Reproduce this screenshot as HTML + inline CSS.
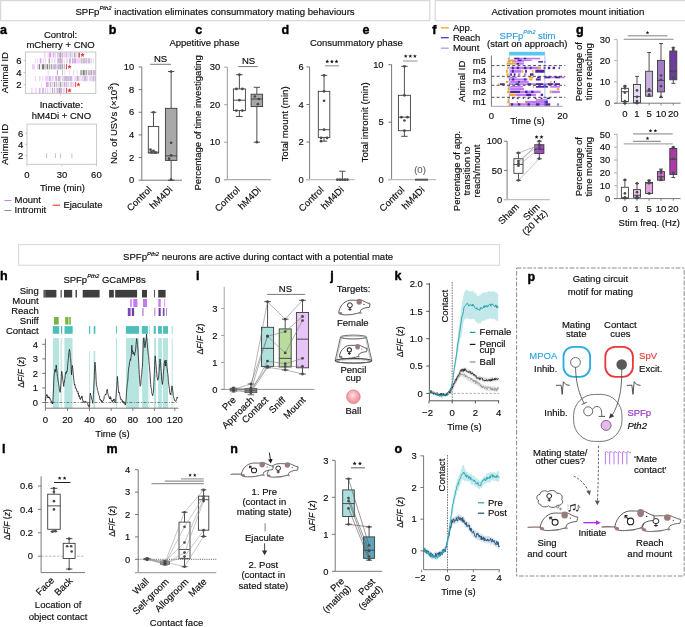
<!DOCTYPE html>
<html><head><meta charset="utf-8"><title>Figure</title>
<style>
html,body{margin:0;padding:0;background:#fff;}
body{width:685px;height:627px;overflow:hidden;}
svg{display:block;font-family:"Liberation Sans", sans-serif;will-change:transform;}
</style></head><body>
<svg width="685" height="627" viewBox="0 0 685 627">
<rect x="0.60" y="0.60" width="429.20" height="20.00" fill="none" stroke="#d6d8db" stroke-width="1.2" />
<text x="75.40" y="14.60" font-size="9.6" fill="#0d0d0d" stroke="#0d0d0d" stroke-width="0.16" >SPFp<tspan font-size="5.9" font-style="italic" dy="-4.4">Pth2</tspan><tspan dy="4.4"> inactivation eliminates consummatory mating behaviours</tspan></text>
<rect x="435.20" y="0.60" width="442.60" height="20.00" fill="none" stroke="#d6d8db" stroke-width="1.2" />
<text x="491.40" y="15.00" font-size="9.7" fill="#0d0d0d" stroke="#0d0d0d" stroke-width="0.16" >Activation promotes mount initiation</text>
<rect x="18.60" y="244.60" width="481.00" height="20.60" fill="none" stroke="#d6d8db" stroke-width="1.0" />
<text x="123.10" y="260.10" font-size="9.55" fill="#0d0d0d" stroke="#0d0d0d" stroke-width="0.16" >SPFp<tspan font-size="5.9" font-style="italic" dy="-4.4">Pth2</tspan><tspan dy="4.4"> neurons are active during contact with a potential mate</tspan></text>
<text x="0.00" y="33.70" font-size="12.5" font-weight="bold" fill="#000" stroke="#000" stroke-width="0.4">a</text>
<text x="60.60" y="37.60" font-size="9.5" fill="#0d0d0d" stroke="#0d0d0d" stroke-width="0.16" text-anchor="middle" >Control:</text>
<text x="60.60" y="48.20" font-size="9.5" fill="#0d0d0d" stroke="#0d0d0d" stroke-width="0.16" text-anchor="middle" >mCherry + CNO</text>
<rect x="44.20" y="52.35" width="1.37" height="5.21" fill="#efcffb" />
<rect x="47.63" y="52.35" width="1.03" height="5.21" fill="#efcffb" />
<rect x="49.01" y="52.35" width="2.06" height="5.21" fill="#dfa6f5" />
<rect x="51.41" y="52.35" width="1.03" height="5.21" fill="#efcffb" />
<rect x="53.12" y="52.35" width="1.37" height="5.21" fill="#dfa6f5" />
<rect x="54.84" y="52.35" width="1.03" height="5.21" fill="#efcffb" />
<rect x="57.24" y="52.35" width="1.37" height="5.21" fill="#cbb6d9" />
<rect x="59.29" y="52.35" width="1.71" height="5.21" fill="#a8a8a8" />
<rect x="60.00" y="52.35" width="1.37" height="5.21" fill="#a8a8a8" />
<rect x="61.71" y="52.35" width="1.37" height="5.21" fill="#dfa6f5" />
<rect x="63.43" y="52.35" width="1.71" height="5.21" fill="#efcffb" />
<rect x="65.49" y="52.35" width="1.37" height="5.21" fill="#cbb6d9" />
<rect x="67.20" y="52.35" width="1.71" height="5.21" fill="#efcffb" />
<rect x="69.60" y="52.35" width="1.71" height="5.21" fill="#cbb6d9" />
<rect x="71.66" y="52.35" width="1.71" height="5.21" fill="#efcffb" />
<rect x="74.06" y="52.35" width="1.37" height="5.21" fill="#a8a8a8" />
<rect x="76.12" y="52.35" width="1.03" height="5.21" fill="#dcdcdc" />
<rect x="77.83" y="52.35" width="1.03" height="5.21" fill="#a8a8a8" />
<line x1="79.55" y1="52.35" x2="79.55" y2="57.56" stroke="#ea3a3d" stroke-width="0.9" />
<polygon points="82.55,52.56 83.18,54.08 84.83,54.22 83.57,55.29 83.96,56.90 82.55,56.04 81.14,56.90 81.52,55.29 80.26,54.22 81.91,54.08" fill="#ea3a3d" />
<rect x="35.29" y="58.26" width="0.69" height="5.21" fill="#efcffb" />
<rect x="37.35" y="58.26" width="0.69" height="5.21" fill="#efcffb" />
<rect x="39.75" y="58.26" width="1.71" height="5.21" fill="#dfa6f5" />
<rect x="42.83" y="58.26" width="1.03" height="5.21" fill="#efcffb" />
<rect x="44.89" y="58.26" width="1.03" height="5.21" fill="#efcffb" />
<rect x="48.66" y="58.26" width="1.37" height="5.21" fill="#a8a8a8" />
<rect x="51.41" y="58.26" width="1.03" height="5.21" fill="#efcffb" />
<rect x="54.15" y="58.26" width="1.37" height="5.21" fill="#efcffb" />
<rect x="57.24" y="58.26" width="3.77" height="5.21" fill="#cbb6d9" />
<rect x="60.00" y="58.26" width="2.74" height="5.21" fill="#cbb6d9" />
<rect x="63.77" y="58.26" width="1.03" height="5.21" fill="#efcffb" />
<rect x="66.17" y="58.26" width="1.71" height="5.21" fill="#dcdcdc" />
<rect x="68.92" y="58.26" width="2.06" height="5.21" fill="#cbb6d9" />
<rect x="72.00" y="58.26" width="1.71" height="5.21" fill="#cbb6d9" />
<rect x="74.06" y="58.26" width="2.40" height="5.21" fill="#dfa6f5" />
<rect x="77.15" y="58.26" width="2.74" height="5.21" fill="#efcffb" />
<rect x="80.58" y="58.26" width="2.06" height="5.21" fill="#cbb6d9" />
<rect x="83.32" y="58.26" width="1.37" height="5.21" fill="#a8a8a8" />
<rect x="85.38" y="58.26" width="2.06" height="5.21" fill="#cbb6d9" />
<rect x="88.12" y="58.26" width="2.06" height="5.21" fill="#cbb6d9" />
<rect x="90.52" y="58.26" width="1.71" height="5.21" fill="#efcffb" />
<rect x="93.26" y="58.26" width="0.69" height="5.21" fill="#dcdcdc" />
<rect x="31.86" y="64.18" width="3.09" height="5.21" fill="#efcffb" />
<rect x="37.00" y="64.18" width="1.03" height="5.21" fill="#efcffb" />
<rect x="38.72" y="64.18" width="1.37" height="5.21" fill="#7d7d7d" />
<rect x="41.80" y="64.18" width="2.40" height="5.21" fill="#7d7d7d" />
<rect x="44.55" y="64.18" width="1.03" height="5.21" fill="#a8a8a8" />
<rect x="46.60" y="64.18" width="1.37" height="5.21" fill="#7d7d7d" />
<rect x="48.66" y="64.18" width="1.71" height="5.21" fill="#a8a8a8" />
<rect x="51.06" y="64.18" width="1.37" height="5.21" fill="#a8a8a8" />
<rect x="53.12" y="64.18" width="3.43" height="5.21" fill="#cbb6d9" />
<rect x="57.24" y="64.18" width="3.77" height="5.21" fill="#cbb6d9" />
<rect x="60.00" y="64.18" width="1.37" height="5.21" fill="#a8a8a8" />
<rect x="61.71" y="64.18" width="1.37" height="5.21" fill="#a8a8a8" />
<rect x="63.77" y="64.18" width="1.37" height="5.21" fill="#cbb6d9" />
<line x1="66.52" y1="64.18" x2="66.52" y2="69.39" stroke="#ea3a3d" stroke-width="0.9" />
<polygon points="69.52,64.39 70.15,65.91 71.80,66.04 70.54,67.12 70.93,68.73 69.52,67.87 68.11,68.73 68.49,67.12 67.23,66.04 68.88,65.91" fill="#ea3a3d" />
<rect x="47.63" y="70.09" width="1.03" height="5.21" fill="#efcffb" />
<rect x="56.89" y="70.09" width="0.69" height="5.21" fill="#7d7d7d" />
<rect x="62.06" y="70.09" width="0.69" height="5.21" fill="#a8a8a8" />
<rect x="64.46" y="70.09" width="0.69" height="5.21" fill="#efcffb" />
<rect x="69.26" y="70.09" width="0.69" height="5.21" fill="#efcffb" />
<rect x="73.03" y="70.09" width="1.03" height="5.21" fill="#efcffb" />
<rect x="76.80" y="70.09" width="0.69" height="5.21" fill="#efcffb" />
<rect x="80.23" y="70.09" width="1.71" height="5.21" fill="#a8a8a8" />
<rect x="82.63" y="70.09" width="2.06" height="5.21" fill="#7d7d7d" />
<rect x="85.38" y="70.09" width="1.71" height="5.21" fill="#a8a8a8" />
<rect x="87.78" y="70.09" width="2.40" height="5.21" fill="#cbb6d9" />
<rect x="90.52" y="70.09" width="1.71" height="5.21" fill="#a8a8a8" />
<rect x="92.92" y="70.09" width="3.09" height="5.21" fill="#cbb6d9" />
<rect x="34.95" y="76.01" width="1.03" height="5.21" fill="#efcffb" />
<rect x="39.06" y="76.01" width="1.37" height="5.21" fill="#efcffb" />
<rect x="42.15" y="76.01" width="1.03" height="5.21" fill="#dcdcdc" />
<rect x="45.23" y="76.01" width="2.74" height="5.21" fill="#efcffb" />
<rect x="48.66" y="76.01" width="2.06" height="5.21" fill="#cbb6d9" />
<rect x="51.41" y="76.01" width="2.40" height="5.21" fill="#efcffb" />
<rect x="55.18" y="76.01" width="2.06" height="5.21" fill="#cbb6d9" />
<rect x="57.92" y="76.01" width="3.09" height="5.21" fill="#cbb6d9" />
<rect x="60.00" y="76.01" width="1.37" height="5.21" fill="#efcffb" />
<rect x="62.06" y="76.01" width="2.06" height="5.21" fill="#dcdcdc" />
<rect x="64.12" y="76.01" width="3.09" height="5.21" fill="#cbb6d9" />
<rect x="67.20" y="76.01" width="1.71" height="5.21" fill="#cbb6d9" />
<rect x="69.26" y="76.01" width="3.09" height="5.21" fill="#cbb6d9" />
<rect x="74.40" y="76.01" width="2.40" height="5.21" fill="#efcffb" />
<rect x="77.15" y="76.01" width="1.37" height="5.21" fill="#a8a8a8" />
<rect x="79.20" y="76.01" width="1.37" height="5.21" fill="#efcffb" />
<rect x="81.26" y="76.01" width="2.06" height="5.21" fill="#efcffb" />
<rect x="83.66" y="76.01" width="2.40" height="5.21" fill="#cbb6d9" />
<rect x="86.06" y="76.01" width="2.06" height="5.21" fill="#dcdcdc" />
<rect x="88.81" y="76.01" width="3.43" height="5.21" fill="#efcffb" />
<rect x="92.58" y="76.01" width="1.71" height="5.21" fill="#cbb6d9" />
<rect x="94.64" y="76.01" width="1.37" height="5.21" fill="#cbb6d9" />
<rect x="41.12" y="81.92" width="0.69" height="5.21" fill="#efcffb" />
<rect x="45.92" y="81.92" width="2.06" height="5.21" fill="#dfa6f5" />
<rect x="48.32" y="81.92" width="1.03" height="5.21" fill="#cbb6d9" />
<rect x="50.03" y="81.92" width="1.37" height="5.21" fill="#cbb6d9" />
<rect x="52.09" y="81.92" width="1.03" height="5.21" fill="#efcffb" />
<rect x="53.81" y="81.92" width="1.37" height="5.21" fill="#a8a8a8" />
<rect x="55.86" y="81.92" width="1.37" height="5.21" fill="#cbb6d9" />
<rect x="57.92" y="81.92" width="3.09" height="5.21" fill="#dcdcdc" />
<rect x="60.00" y="81.92" width="1.37" height="5.21" fill="#a8a8a8" />
<rect x="62.06" y="81.92" width="1.37" height="5.21" fill="#efcffb" />
<rect x="63.77" y="81.92" width="1.37" height="5.21" fill="#cbb6d9" />
<rect x="65.49" y="81.92" width="1.37" height="5.21" fill="#cbb6d9" />
<rect x="67.54" y="81.92" width="1.03" height="5.21" fill="#cbb6d9" />
<rect x="69.60" y="81.92" width="1.37" height="5.21" fill="#dcdcdc" />
<rect x="71.32" y="81.92" width="1.03" height="5.21" fill="#cbb6d9" />
<rect x="73.03" y="81.92" width="1.03" height="5.21" fill="#efcffb" />
<line x1="75.43" y1="81.92" x2="75.43" y2="87.14" stroke="#ea3a3d" stroke-width="0.9" />
<polygon points="78.43,82.13 79.07,83.65 80.71,83.79 79.46,84.86 79.84,86.47 78.43,85.61 77.02,86.47 77.40,84.86 76.15,83.79 77.80,83.65" fill="#ea3a3d" />
<rect x="31.17" y="87.84" width="1.37" height="5.21" fill="#efcffb" />
<rect x="35.29" y="87.84" width="1.37" height="5.21" fill="#efcffb" />
<rect x="39.06" y="87.84" width="1.37" height="5.21" fill="#dfa6f5" />
<rect x="42.15" y="87.84" width="1.71" height="5.21" fill="#cbb6d9" />
<rect x="44.89" y="87.84" width="1.37" height="5.21" fill="#efcffb" />
<rect x="46.95" y="87.84" width="1.37" height="5.21" fill="#efcffb" />
<rect x="49.69" y="87.84" width="1.03" height="5.21" fill="#efcffb" />
<rect x="52.09" y="87.84" width="1.03" height="5.21" fill="#a8a8a8" />
<rect x="54.15" y="87.84" width="1.03" height="5.21" fill="#dfa6f5" />
<rect x="56.55" y="87.84" width="2.06" height="5.21" fill="#cbb6d9" />
<rect x="58.95" y="87.84" width="2.06" height="5.21" fill="#a8a8a8" />
<rect x="60.00" y="87.84" width="2.06" height="5.21" fill="#cbb6d9" />
<rect x="62.74" y="87.84" width="2.06" height="5.21" fill="#efcffb" />
<line x1="66.52" y1="87.84" x2="66.52" y2="93.05" stroke="#ea3a3d" stroke-width="0.9" />
<polygon points="69.52,88.04 70.15,89.57 71.80,89.70 70.54,90.78 70.93,92.38 69.52,91.52 68.11,92.38 68.49,90.78 67.23,89.70 68.88,89.57" fill="#ea3a3d" />
<rect x="25.40" y="52.00" width="70.40" height="41.40" fill="none" stroke="#c4c4c4" stroke-width="0.9" />
<line x1="23.40" y1="60.50" x2="25.40" y2="60.50" stroke="#c4c4c4" stroke-width="0.9" />
<text x="21.60" y="63.80" font-size="9.5" fill="#0d0d0d" stroke="#0d0d0d" stroke-width="0.16" text-anchor="end" >6</text>
<line x1="23.40" y1="72.50" x2="25.40" y2="72.50" stroke="#c4c4c4" stroke-width="0.9" />
<text x="21.60" y="75.80" font-size="9.5" fill="#0d0d0d" stroke="#0d0d0d" stroke-width="0.16" text-anchor="end" >4</text>
<line x1="23.40" y1="84.60" x2="25.40" y2="84.60" stroke="#c4c4c4" stroke-width="0.9" />
<text x="21.60" y="87.90" font-size="9.5" fill="#0d0d0d" stroke="#0d0d0d" stroke-width="0.16" text-anchor="end" >2</text>
<line x1="60.60" y1="93.40" x2="60.60" y2="95.40" stroke="#c4c4c4" stroke-width="0.9" />
<text transform="translate(8.20,72.60) rotate(-90)" font-size="9.5" fill="#0d0d0d" stroke="#0d0d0d" stroke-width="0.16" text-anchor="middle" >Animal ID</text>
<text x="61.40" y="108.30" font-size="9.5" fill="#0d0d0d" stroke="#0d0d0d" stroke-width="0.16" text-anchor="middle" >Inactivate:</text>
<text x="61.40" y="119.40" font-size="9.5" fill="#0d0d0d" stroke="#0d0d0d" stroke-width="0.16" text-anchor="middle" >hM4Di + CNO</text>
<rect x="46.00" y="153.21" width="0.80" height="4.94" fill="#d9a0f4" />
<rect x="55.00" y="153.21" width="0.80" height="4.94" fill="#d9a0f4" />
<rect x="60.10" y="153.21" width="0.80" height="4.94" fill="#d9a0f4" />
<rect x="71.50" y="153.21" width="0.80" height="4.94" fill="#d9a0f4" />
<rect x="27.00" y="124.10" width="69.60" height="40.20" fill="none" stroke="#c4c4c4" stroke-width="0.9" />
<line x1="25.00" y1="133.20" x2="27.00" y2="133.20" stroke="#c4c4c4" stroke-width="0.9" />
<text x="23.20" y="136.50" font-size="9.5" fill="#0d0d0d" stroke="#0d0d0d" stroke-width="0.16" text-anchor="end" >6</text>
<line x1="25.00" y1="144.20" x2="27.00" y2="144.20" stroke="#c4c4c4" stroke-width="0.9" />
<text x="23.20" y="147.50" font-size="9.5" fill="#0d0d0d" stroke="#0d0d0d" stroke-width="0.16" text-anchor="end" >4</text>
<line x1="25.00" y1="155.50" x2="27.00" y2="155.50" stroke="#c4c4c4" stroke-width="0.9" />
<text x="23.20" y="158.80" font-size="9.5" fill="#0d0d0d" stroke="#0d0d0d" stroke-width="0.16" text-anchor="end" >2</text>
<line x1="27.00" y1="164.30" x2="27.00" y2="166.30" stroke="#c4c4c4" stroke-width="0.9" />
<text x="27.00" y="178.20" font-size="9.5" fill="#0d0d0d" stroke="#0d0d0d" stroke-width="0.16" text-anchor="middle" >0</text>
<line x1="62.00" y1="164.30" x2="62.00" y2="166.30" stroke="#c4c4c4" stroke-width="0.9" />
<text x="62.00" y="178.20" font-size="9.5" fill="#0d0d0d" stroke="#0d0d0d" stroke-width="0.16" text-anchor="middle" >30</text>
<line x1="96.40" y1="164.30" x2="96.40" y2="166.30" stroke="#c4c4c4" stroke-width="0.9" />
<text x="96.40" y="178.20" font-size="9.5" fill="#0d0d0d" stroke="#0d0d0d" stroke-width="0.16" text-anchor="middle" >60</text>
<text x="62.40" y="191.30" font-size="9.5" fill="#0d0d0d" stroke="#0d0d0d" stroke-width="0.16" text-anchor="middle" >Time (min)</text>
<text transform="translate(8.20,144.50) rotate(-90)" font-size="9.5" fill="#0d0d0d" stroke="#0d0d0d" stroke-width="0.16" text-anchor="middle" >Animal ID</text>
<line x1="4.40" y1="200.50" x2="11.40" y2="200.50" stroke="#c77ef0" stroke-width="1.0" />
<text x="14.50" y="203.40" font-size="9.5" fill="#0d0d0d" stroke="#0d0d0d" stroke-width="0.16" >Mount</text>
<line x1="4.40" y1="210.50" x2="11.40" y2="210.50" stroke="#8c8c8c" stroke-width="1.0" />
<text x="14.50" y="213.40" font-size="9.5" fill="#0d0d0d" stroke="#0d0d0d" stroke-width="0.16" >Intromit</text>
<line x1="52.60" y1="205.20" x2="60.00" y2="205.20" stroke="#e8262a" stroke-width="1.0" />
<text x="63.40" y="208.10" font-size="9.5" fill="#0d0d0d" stroke="#0d0d0d" stroke-width="0.16" >Ejaculate</text>
<text x="108.80" y="33.70" font-size="12.5" font-weight="bold" fill="#000" stroke="#000" stroke-width="0.4">b</text>
<line x1="141.80" y1="67.00" x2="141.80" y2="180.20" stroke="#6a6a6a" stroke-width="0.9" />
<line x1="138.60" y1="180.20" x2="141.80" y2="180.20" stroke="#6a6a6a" stroke-width="0.9" />
<text x="134.20" y="183.40" font-size="9.4" fill="#0d0d0d" stroke="#0d0d0d" stroke-width="0.16" text-anchor="end" >0</text>
<line x1="138.60" y1="157.56" x2="141.80" y2="157.56" stroke="#6a6a6a" stroke-width="0.9" />
<text x="134.20" y="160.76" font-size="9.4" fill="#0d0d0d" stroke="#0d0d0d" stroke-width="0.16" text-anchor="end" >2</text>
<line x1="138.60" y1="134.92" x2="141.80" y2="134.92" stroke="#6a6a6a" stroke-width="0.9" />
<text x="134.20" y="138.12" font-size="9.4" fill="#0d0d0d" stroke="#0d0d0d" stroke-width="0.16" text-anchor="end" >4</text>
<line x1="138.60" y1="112.28" x2="141.80" y2="112.28" stroke="#6a6a6a" stroke-width="0.9" />
<text x="134.20" y="115.48" font-size="9.4" fill="#0d0d0d" stroke="#0d0d0d" stroke-width="0.16" text-anchor="end" >6</text>
<line x1="138.60" y1="89.64" x2="141.80" y2="89.64" stroke="#6a6a6a" stroke-width="0.9" />
<text x="134.20" y="92.84" font-size="9.4" fill="#0d0d0d" stroke="#0d0d0d" stroke-width="0.16" text-anchor="end" >8</text>
<line x1="138.60" y1="67.00" x2="141.80" y2="67.00" stroke="#6a6a6a" stroke-width="0.9" />
<text x="134.20" y="70.20" font-size="9.4" fill="#0d0d0d" stroke="#0d0d0d" stroke-width="0.16" text-anchor="end" >10</text>
<line x1="141.80" y1="180.20" x2="182.00" y2="180.20" stroke="#6a6a6a" stroke-width="0.9" />
<line x1="153.50" y1="112.28" x2="153.50" y2="126.43" stroke="#3c3c3c" stroke-width="0.9" />
<line x1="153.50" y1="153.03" x2="153.50" y2="153.03" stroke="#3c3c3c" stroke-width="0.9" />
<line x1="150.64" y1="112.28" x2="156.36" y2="112.28" stroke="#3c3c3c" stroke-width="0.9" />
<line x1="150.64" y1="153.03" x2="156.36" y2="153.03" stroke="#3c3c3c" stroke-width="0.9" />
<rect x="148.30" y="126.43" width="10.40" height="26.60" fill="#fff" stroke="#3c3c3c" stroke-width="0.9" />
<line x1="148.30" y1="152.13" x2="158.70" y2="152.13" stroke="#3c3c3c" stroke-width="0.9" />
<circle cx="151.50" cy="151.90" r="1.35" fill="#4a4a4a" />
<circle cx="155.50" cy="152.47" r="1.35" fill="#4a4a4a" />
<circle cx="153.50" cy="150.77" r="1.35" fill="#4a4a4a" />
<circle cx="150.50" cy="149.64" r="1.35" fill="#4a4a4a" />
<circle cx="153.50" cy="112.28" r="1.35" fill="#4a4a4a" />
<line x1="171.15" y1="71.53" x2="171.15" y2="108.32" stroke="#3c3c3c" stroke-width="0.9" />
<line x1="171.15" y1="160.39" x2="171.15" y2="180.20" stroke="#3c3c3c" stroke-width="0.9" />
<line x1="167.99" y1="71.53" x2="174.31" y2="71.53" stroke="#3c3c3c" stroke-width="0.9" />
<line x1="167.99" y1="180.20" x2="174.31" y2="180.20" stroke="#3c3c3c" stroke-width="0.9" />
<rect x="165.40" y="108.32" width="11.50" height="52.07" fill="#a8a8a8" stroke="#3c3c3c" stroke-width="0.9" />
<line x1="165.40" y1="155.86" x2="176.90" y2="155.86" stroke="#3c3c3c" stroke-width="0.9" />
<circle cx="171.10" cy="142.84" r="1.35" fill="#4a4a4a" />
<circle cx="171.10" cy="155.30" r="1.35" fill="#4a4a4a" />
<circle cx="169.10" cy="158.69" r="1.35" fill="#4a4a4a" />
<circle cx="171.10" cy="71.53" r="1.35" fill="#4a4a4a" />
<circle cx="171.10" cy="179.63" r="1.35" fill="#4a4a4a" />
<text x="160.60" y="61.60" font-size="9.5" fill="#0d0d0d" stroke="#0d0d0d" stroke-width="0.16" text-anchor="middle" >NS</text>
<line x1="150.20" y1="64.30" x2="171.00" y2="64.30" stroke="#6a6a6a" stroke-width="0.9" />
<text transform="translate(116.80,123.50) rotate(-90)" font-size="9.5" fill="#0d0d0d" stroke="#0d0d0d" stroke-width="0.16" text-anchor="middle" >No. of USVs (×10<tspan font-size="6.8" dy="-3.6">3</tspan><tspan dy="3.6">)</tspan></text>
<text transform="translate(152.30,190.20) rotate(-45)" font-size="9.5" fill="#0d0d0d" stroke="#0d0d0d" stroke-width="0.16" text-anchor="end" >Control</text>
<text transform="translate(173.00,190.20) rotate(-45)" font-size="9.5" fill="#0d0d0d" stroke="#0d0d0d" stroke-width="0.16" text-anchor="end" >hM4Di</text>
<text x="195.20" y="33.70" font-size="12.5" font-weight="bold" fill="#000" stroke="#000" stroke-width="0.4">c</text>
<text x="169.40" y="46.30" font-size="9.5" fill="#0d0d0d" stroke="#0d0d0d" stroke-width="0.16" >Appetitive phase</text>
<line x1="227.40" y1="67.20" x2="227.40" y2="179.70" stroke="#acacac" stroke-width="1.2" />
<line x1="224.20" y1="179.70" x2="227.40" y2="179.70" stroke="#acacac" stroke-width="1.2" />
<text x="220.20" y="182.90" font-size="9.4" fill="#0d0d0d" stroke="#0d0d0d" stroke-width="0.16" text-anchor="end" >0</text>
<line x1="224.20" y1="142.20" x2="227.40" y2="142.20" stroke="#acacac" stroke-width="1.2" />
<text x="220.20" y="145.40" font-size="9.4" fill="#0d0d0d" stroke="#0d0d0d" stroke-width="0.16" text-anchor="end" >10</text>
<line x1="224.20" y1="104.70" x2="227.40" y2="104.70" stroke="#acacac" stroke-width="1.2" />
<text x="220.20" y="107.90" font-size="9.4" fill="#0d0d0d" stroke="#0d0d0d" stroke-width="0.16" text-anchor="end" >20</text>
<line x1="224.20" y1="67.20" x2="227.40" y2="67.20" stroke="#acacac" stroke-width="1.2" />
<text x="220.20" y="70.40" font-size="9.4" fill="#0d0d0d" stroke="#0d0d0d" stroke-width="0.16" text-anchor="end" >30</text>
<line x1="224.20" y1="179.70" x2="270.90" y2="179.70" stroke="#acacac" stroke-width="1.2" />
<line x1="239.40" y1="74.70" x2="239.40" y2="88.90" stroke="#3c3c3c" stroke-width="0.9" />
<line x1="239.40" y1="110.60" x2="239.40" y2="116.50" stroke="#3c3c3c" stroke-width="0.9" />
<line x1="236.10" y1="74.70" x2="242.70" y2="74.70" stroke="#3c3c3c" stroke-width="0.9" />
<line x1="236.10" y1="116.50" x2="242.70" y2="116.50" stroke="#3c3c3c" stroke-width="0.9" />
<rect x="233.40" y="88.90" width="12.00" height="21.70" fill="#fff" stroke="#3c3c3c" stroke-width="0.9" />
<line x1="233.40" y1="100.20" x2="245.40" y2="100.20" stroke="#3c3c3c" stroke-width="0.9" />
<circle cx="236.40" cy="88.90" r="1.35" fill="#4a4a4a" />
<circle cx="242.40" cy="88.90" r="1.35" fill="#4a4a4a" />
<circle cx="239.40" cy="100.20" r="1.35" fill="#4a4a4a" />
<circle cx="236.40" cy="110.60" r="1.35" fill="#4a4a4a" />
<circle cx="242.40" cy="110.60" r="1.35" fill="#4a4a4a" />
<circle cx="239.40" cy="74.70" r="1.35" fill="#4a4a4a" />
<line x1="256.85" y1="87.30" x2="256.85" y2="94.20" stroke="#3c3c3c" stroke-width="0.9" />
<line x1="256.85" y1="106.60" x2="256.85" y2="142.20" stroke="#3c3c3c" stroke-width="0.9" />
<line x1="253.69" y1="87.30" x2="260.01" y2="87.30" stroke="#3c3c3c" stroke-width="0.9" />
<line x1="253.69" y1="142.20" x2="260.01" y2="142.20" stroke="#3c3c3c" stroke-width="0.9" />
<rect x="251.10" y="94.20" width="11.50" height="12.40" fill="#a8a8a8" stroke="#3c3c3c" stroke-width="0.9" />
<line x1="251.10" y1="99.00" x2="262.60" y2="99.00" stroke="#3c3c3c" stroke-width="0.9" />
<circle cx="254.85" cy="96.50" r="1.35" fill="#4a4a4a" />
<circle cx="257.85" cy="104.20" r="1.35" fill="#4a4a4a" />
<circle cx="258.85" cy="99.00" r="1.35" fill="#4a4a4a" />
<circle cx="256.85" cy="142.20" r="1.35" fill="#4a4a4a" />
<text x="248.60" y="63.50" font-size="9.5" fill="#0d0d0d" stroke="#0d0d0d" stroke-width="0.16" text-anchor="middle" >NS</text>
<line x1="238.20" y1="66.60" x2="257.80" y2="66.60" stroke="#6a6a6a" stroke-width="0.9" />
<text transform="translate(201.20,122.90) rotate(-90)" font-size="9.5" fill="#0d0d0d" stroke="#0d0d0d" stroke-width="0.16" text-anchor="middle" >Percentage of time investigating</text>
<text transform="translate(240.40,190.50) rotate(-45)" font-size="9.5" fill="#0d0d0d" stroke="#0d0d0d" stroke-width="0.16" text-anchor="end" >Control</text>
<text transform="translate(261.50,190.70) rotate(-45)" font-size="9.5" fill="#0d0d0d" stroke="#0d0d0d" stroke-width="0.16" text-anchor="end" >hM4Di</text>
<text x="281.50" y="33.70" font-size="12.5" font-weight="bold" fill="#000" stroke="#000" stroke-width="0.4">d</text>
<text x="309.90" y="46.30" font-size="9.5" fill="#0d0d0d" stroke="#0d0d0d" stroke-width="0.16" >Consummatory phase</text>
<line x1="309.60" y1="66.90" x2="309.60" y2="179.70" stroke="#6a6a6a" stroke-width="0.9" />
<line x1="306.40" y1="179.70" x2="309.60" y2="179.70" stroke="#6a6a6a" stroke-width="0.9" />
<text x="303.60" y="182.90" font-size="9.4" fill="#0d0d0d" stroke="#0d0d0d" stroke-width="0.16" text-anchor="end" >0</text>
<line x1="306.40" y1="142.10" x2="309.60" y2="142.10" stroke="#6a6a6a" stroke-width="0.9" />
<text x="303.60" y="145.30" font-size="9.4" fill="#0d0d0d" stroke="#0d0d0d" stroke-width="0.16" text-anchor="end" >2</text>
<line x1="306.40" y1="104.50" x2="309.60" y2="104.50" stroke="#6a6a6a" stroke-width="0.9" />
<text x="303.60" y="107.70" font-size="9.4" fill="#0d0d0d" stroke="#0d0d0d" stroke-width="0.16" text-anchor="end" >4</text>
<line x1="306.40" y1="66.90" x2="309.60" y2="66.90" stroke="#6a6a6a" stroke-width="0.9" />
<text x="303.60" y="70.10" font-size="9.4" fill="#0d0d0d" stroke="#0d0d0d" stroke-width="0.16" text-anchor="end" >6</text>
<line x1="306.40" y1="179.70" x2="354.50" y2="179.70" stroke="#bdbdbd" stroke-width="1.3" />
<line x1="324.05" y1="75.36" x2="324.05" y2="91.34" stroke="#3c3c3c" stroke-width="0.9" />
<line x1="324.05" y1="137.40" x2="324.05" y2="141.16" stroke="#3c3c3c" stroke-width="0.9" />
<line x1="320.89" y1="75.36" x2="327.21" y2="75.36" stroke="#3c3c3c" stroke-width="0.9" />
<line x1="320.89" y1="141.16" x2="327.21" y2="141.16" stroke="#3c3c3c" stroke-width="0.9" />
<rect x="318.30" y="91.34" width="11.50" height="46.06" fill="#fff" stroke="#3c3c3c" stroke-width="0.9" />
<line x1="318.30" y1="129.69" x2="329.80" y2="129.69" stroke="#3c3c3c" stroke-width="0.9" />
<circle cx="324.05" cy="100.74" r="1.35" fill="#4a4a4a" />
<circle cx="324.05" cy="91.34" r="1.35" fill="#4a4a4a" />
<circle cx="324.05" cy="129.69" r="1.35" fill="#4a4a4a" />
<circle cx="321.05" cy="137.96" r="1.35" fill="#4a4a4a" />
<circle cx="327.05" cy="137.96" r="1.35" fill="#4a4a4a" />
<circle cx="321.05" cy="141.16" r="1.35" fill="#4a4a4a" />
<circle cx="324.05" cy="75.36" r="1.35" fill="#4a4a4a" />
<line x1="342.40" y1="171.24" x2="342.40" y2="179.70" stroke="#3c3c3c" stroke-width="0.9" />
<line x1="342.40" y1="179.70" x2="342.40" y2="179.70" stroke="#3c3c3c" stroke-width="0.9" />
<line x1="339.21" y1="171.24" x2="345.59" y2="171.24" stroke="#3c3c3c" stroke-width="0.9" />
<line x1="339.21" y1="179.70" x2="345.59" y2="179.70" stroke="#3c3c3c" stroke-width="0.9" />
<rect x="336.60" y="179.70" width="11.60" height="0.00" fill="#fff" stroke="#3c3c3c" stroke-width="0.9" />
<circle cx="337.40" cy="179.70" r="1.35" fill="#4a4a4a" />
<circle cx="339.90" cy="179.70" r="1.35" fill="#4a4a4a" />
<circle cx="342.40" cy="179.70" r="1.35" fill="#4a4a4a" />
<circle cx="344.90" cy="179.70" r="1.35" fill="#4a4a4a" />
<circle cx="347.40" cy="179.70" r="1.35" fill="#4a4a4a" />
<polygon points="327.30,59.60 327.83,60.87 329.20,60.98 328.16,61.88 328.48,63.22 327.30,62.50 326.12,63.22 326.44,61.88 325.40,60.98 326.77,60.87" fill="#1a1a1a" />
<polygon points="331.90,59.60 332.43,60.87 333.80,60.98 332.76,61.88 333.08,63.22 331.90,62.50 330.72,63.22 331.04,61.88 330.00,60.98 331.37,60.87" fill="#1a1a1a" />
<polygon points="336.50,59.60 337.03,60.87 338.40,60.98 337.36,61.88 337.68,63.22 336.50,62.50 335.32,63.22 335.64,61.88 334.60,60.98 335.97,60.87" fill="#1a1a1a" />
<line x1="324.90" y1="65.80" x2="339.00" y2="65.80" stroke="#9a9a9a" stroke-width="1.2" />
<text transform="translate(288.10,123.90) rotate(-90)" font-size="9.75" fill="#0d0d0d" stroke="#0d0d0d" stroke-width="0.16" text-anchor="middle" >Total mount (min)</text>
<text transform="translate(324.20,190.50) rotate(-45)" font-size="9.5" fill="#0d0d0d" stroke="#0d0d0d" stroke-width="0.16" text-anchor="end" >Control</text>
<text transform="translate(344.40,190.50) rotate(-45)" font-size="9.5" fill="#0d0d0d" stroke="#0d0d0d" stroke-width="0.16" text-anchor="end" >hM4Di</text>
<text x="362.50" y="33.70" font-size="12.5" font-weight="bold" fill="#000" stroke="#000" stroke-width="0.4">e</text>
<line x1="391.60" y1="64.70" x2="391.60" y2="179.70" stroke="#6a6a6a" stroke-width="0.9" />
<line x1="388.40" y1="179.70" x2="391.60" y2="179.70" stroke="#6a6a6a" stroke-width="0.9" />
<text x="383.60" y="182.90" font-size="9.4" fill="#0d0d0d" stroke="#0d0d0d" stroke-width="0.16" text-anchor="end" >0</text>
<line x1="388.40" y1="122.20" x2="391.60" y2="122.20" stroke="#6a6a6a" stroke-width="0.9" />
<text x="383.60" y="125.40" font-size="9.4" fill="#0d0d0d" stroke="#0d0d0d" stroke-width="0.16" text-anchor="end" >5</text>
<line x1="388.40" y1="64.70" x2="391.60" y2="64.70" stroke="#6a6a6a" stroke-width="0.9" />
<text x="383.60" y="67.90" font-size="9.4" fill="#0d0d0d" stroke="#0d0d0d" stroke-width="0.16" text-anchor="end" >10</text>
<line x1="388.40" y1="179.70" x2="436.00" y2="179.70" stroke="#bdbdbd" stroke-width="1.3" />
<line x1="404.40" y1="66.30" x2="404.40" y2="95.30" stroke="#3c3c3c" stroke-width="0.9" />
<line x1="404.40" y1="130.70" x2="404.40" y2="136.30" stroke="#3c3c3c" stroke-width="0.9" />
<line x1="401.10" y1="66.30" x2="407.70" y2="66.30" stroke="#3c3c3c" stroke-width="0.9" />
<line x1="401.10" y1="136.30" x2="407.70" y2="136.30" stroke="#3c3c3c" stroke-width="0.9" />
<rect x="398.40" y="95.30" width="12.00" height="35.40" fill="#fff" stroke="#3c3c3c" stroke-width="0.9" />
<line x1="398.40" y1="117.20" x2="410.40" y2="117.20" stroke="#3c3c3c" stroke-width="0.9" />
<circle cx="401.40" cy="117.20" r="1.35" fill="#4a4a4a" />
<circle cx="407.40" cy="117.20" r="1.35" fill="#4a4a4a" />
<circle cx="404.40" cy="120.50" r="1.35" fill="#4a4a4a" />
<circle cx="404.40" cy="130.70" r="1.35" fill="#4a4a4a" />
<circle cx="404.40" cy="66.30" r="1.35" fill="#4a4a4a" />
<circle cx="404.40" cy="95.30" r="1.35" fill="#4a4a4a" />
<line x1="415.00" y1="179.70" x2="428.00" y2="179.70" stroke="#555" stroke-width="2.0" />
<text x="420.00" y="172.60" font-size="9.5" fill="#666" stroke="#666" stroke-width="0.16" text-anchor="middle" >(0)</text>
<polygon points="405.70,54.20 406.23,55.47 407.60,55.58 406.56,56.48 406.88,57.82 405.70,57.10 404.52,57.82 404.84,56.48 403.80,55.58 405.17,55.47" fill="#1a1a1a" />
<polygon points="410.30,54.20 410.83,55.47 412.20,55.58 411.16,56.48 411.48,57.82 410.30,57.10 409.12,57.82 409.44,56.48 408.40,55.58 409.77,55.47" fill="#1a1a1a" />
<polygon points="414.90,54.20 415.43,55.47 416.80,55.58 415.76,56.48 416.08,57.82 414.90,57.10 413.72,57.82 414.04,56.48 413.00,55.58 414.37,55.47" fill="#1a1a1a" />
<line x1="403.10" y1="61.00" x2="417.70" y2="61.00" stroke="#b0b0b0" stroke-width="1.4" />
<text transform="translate(367.60,122.40) rotate(-90)" font-size="9.75" fill="#0d0d0d" stroke="#0d0d0d" stroke-width="0.16" text-anchor="middle" >Total intromit (min)</text>
<text transform="translate(405.00,190.50) rotate(-45)" font-size="9.5" fill="#0d0d0d" stroke="#0d0d0d" stroke-width="0.16" text-anchor="end" >Control</text>
<text transform="translate(425.20,190.50) rotate(-45)" font-size="9.5" fill="#0d0d0d" stroke="#0d0d0d" stroke-width="0.16" text-anchor="end" >hM4Di</text>
<text x="432.30" y="33.70" font-size="12.5" font-weight="bold" fill="#000" stroke="#000" stroke-width="0.4">f</text>
<line x1="440.90" y1="27.80" x2="448.80" y2="27.80" stroke="#f5a01a" stroke-width="1.3" />
<text x="452.90" y="30.90" font-size="9.5" fill="#0d0d0d" stroke="#0d0d0d" stroke-width="0.16" >App.</text>
<line x1="440.90" y1="37.70" x2="448.80" y2="37.70" stroke="#5a2fd0" stroke-width="1.3" />
<text x="452.90" y="40.70" font-size="9.5" fill="#0d0d0d" stroke="#0d0d0d" stroke-width="0.16" >Reach</text>
<line x1="440.90" y1="48.20" x2="448.80" y2="48.20" stroke="#c48ff4" stroke-width="1.3" />
<text x="452.90" y="50.90" font-size="9.5" fill="#0d0d0d" stroke="#0d0d0d" stroke-width="0.16" >Mount</text>
<text x="499.60" y="38.70" font-size="9.5" fill="#2f9be0" stroke="#2f9be0" stroke-width="0.16" >SPFp<tspan font-size="5.9" font-style="italic" dy="-4.4">Pth2</tspan><tspan dy="4.4"> stim</tspan></text>
<text x="527.20" y="46.80" font-size="9.5" fill="#0d0d0d" stroke="#0d0d0d" stroke-width="0.16" text-anchor="middle" >(start on approach)</text>
<rect x="509.20" y="51.80" width="35.70" height="3.70" fill="#5ac8ee" />
<rect x="513.74" y="57.78" width="26.33" height="1.56" fill="#bb7af4" />
<rect x="514.33" y="57.78" width="5.03" height="1.56" fill="#4d22a4" />
<rect x="523.91" y="57.78" width="2.39" height="1.56" fill="#4d22a4" />
<rect x="507.75" y="57.78" width="1.80" height="1.56" fill="#f6a423" />
<rect x="516.73" y="59.58" width="14.96" height="1.44" fill="#bb7af4" />
<rect x="517.93" y="59.58" width="3.59" height="1.44" fill="#4d22a4" />
<rect x="507.75" y="59.58" width="8.38" height="1.44" fill="#f6a423" />
<rect x="511.94" y="61.13" width="11.97" height="1.44" fill="#bb7af4" />
<rect x="538.28" y="61.13" width="4.79" height="1.44" fill="#4d22a4" />
<rect x="544.26" y="61.13" width="1.20" height="1.44" fill="#4d22a4" />
<rect x="507.15" y="61.13" width="4.19" height="1.44" fill="#f6a423" />
<rect x="515.53" y="62.93" width="8.38" height="1.68" fill="#bb7af4" />
<rect x="516.73" y="62.93" width="2.39" height="1.68" fill="#4d22a4" />
<rect x="506.55" y="62.93" width="8.98" height="1.68" fill="#f6a423" />
<rect x="510.15" y="66.76" width="30.52" height="2.39" fill="#bb7af4" />
<rect x="511.94" y="66.76" width="1.80" height="2.39" fill="#4d22a4" />
<rect x="516.73" y="66.76" width="2.39" height="2.39" fill="#4d22a4" />
<rect x="523.91" y="66.76" width="2.39" height="2.39" fill="#4d22a4" />
<rect x="529.90" y="66.76" width="1.80" height="2.39" fill="#4d22a4" />
<rect x="543.66" y="66.76" width="1.80" height="2.39" fill="#4d22a4" />
<rect x="547.85" y="66.76" width="2.39" height="2.39" fill="#4d22a4" />
<rect x="552.64" y="66.76" width="2.39" height="2.39" fill="#4d22a4" />
<rect x="558.62" y="66.76" width="1.20" height="2.39" fill="#4d22a4" />
<rect x="507.15" y="66.76" width="1.80" height="2.39" fill="#f6a423" />
<rect x="538.28" y="66.76" width="2.39" height="2.39" fill="#f6a423" />
<rect x="510.15" y="69.75" width="11.37" height="2.99" fill="#bb7af4" />
<rect x="511.94" y="69.75" width="1.80" height="2.99" fill="#4d22a4" />
<rect x="525.11" y="69.75" width="1.80" height="2.99" fill="#4d22a4" />
<rect x="535.28" y="69.75" width="9.58" height="2.99" fill="#4d22a4" />
<rect x="505.96" y="69.75" width="1.80" height="2.99" fill="#f6a423" />
<rect x="522.12" y="69.75" width="1.20" height="2.99" fill="#f6a423" />
<rect x="532.29" y="69.75" width="1.20" height="2.99" fill="#f6a423" />
<rect x="517.93" y="73.34" width="2.39" height="2.39" fill="#bb7af4" />
<rect x="523.91" y="73.34" width="2.39" height="2.39" fill="#bb7af4" />
<rect x="510.15" y="73.34" width="1.80" height="2.39" fill="#4d22a4" />
<rect x="513.74" y="73.34" width="1.80" height="2.39" fill="#4d22a4" />
<rect x="529.90" y="73.34" width="3.59" height="2.39" fill="#4d22a4" />
<rect x="506.55" y="73.34" width="1.80" height="2.39" fill="#f6a423" />
<rect x="509.55" y="76.57" width="7.18" height="1.68" fill="#bb7af4" />
<rect x="544.26" y="76.57" width="20.35" height="1.68" fill="#bb7af4" />
<rect x="537.08" y="76.57" width="3.59" height="1.68" fill="#4d22a4" />
<rect x="544.26" y="76.57" width="5.99" height="1.68" fill="#4d22a4" />
<rect x="555.03" y="76.57" width="4.79" height="1.68" fill="#4d22a4" />
<rect x="507.15" y="76.57" width="1.80" height="1.68" fill="#f6a423" />
<rect x="528.70" y="76.57" width="4.79" height="1.68" fill="#f6a423" />
<rect x="510.15" y="78.49" width="17.36" height="2.03" fill="#bb7af4" />
<rect x="508.95" y="78.49" width="1.20" height="2.03" fill="#4d22a4" />
<rect x="511.94" y="78.49" width="2.39" height="2.03" fill="#4d22a4" />
<rect x="523.91" y="78.49" width="2.39" height="2.03" fill="#4d22a4" />
<rect x="535.88" y="78.49" width="4.79" height="2.03" fill="#4d22a4" />
<rect x="529.30" y="78.49" width="2.99" height="2.03" fill="#f6a423" />
<rect x="510.15" y="80.88" width="18.55" height="2.03" fill="#bb7af4" />
<rect x="517.93" y="80.88" width="1.80" height="2.03" fill="#4d22a4" />
<rect x="553.84" y="80.88" width="1.20" height="2.03" fill="#4d22a4" />
<rect x="505.96" y="80.88" width="2.39" height="2.03" fill="#f6a423" />
<rect x="550.25" y="80.88" width="1.20" height="2.03" fill="#f6a423" />
<rect x="510.15" y="83.28" width="49.68" height="1.68" fill="#bb7af4" />
<rect x="499.97" y="83.28" width="4.79" height="1.68" fill="#4d22a4" />
<rect x="508.95" y="83.28" width="1.20" height="1.68" fill="#4d22a4" />
<rect x="515.53" y="83.28" width="3.59" height="1.68" fill="#4d22a4" />
<rect x="527.50" y="83.28" width="3.59" height="1.68" fill="#4d22a4" />
<rect x="535.88" y="83.28" width="7.18" height="1.68" fill="#4d22a4" />
<rect x="547.85" y="83.28" width="4.79" height="1.68" fill="#4d22a4" />
<rect x="555.03" y="83.28" width="4.79" height="1.68" fill="#4d22a4" />
<rect x="498.17" y="83.28" width="1.20" height="1.68" fill="#f6a423" />
<rect x="510.15" y="85.91" width="12.57" height="1.80" fill="#bb7af4" />
<rect x="550.25" y="85.91" width="9.58" height="1.80" fill="#bb7af4" />
<rect x="535.88" y="85.91" width="11.97" height="1.80" fill="#4d22a4" />
<rect x="507.75" y="85.91" width="1.80" height="1.80" fill="#f6a423" />
<rect x="532.89" y="85.91" width="1.20" height="1.80" fill="#f6a423" />
<rect x="510.15" y="88.07" width="13.77" height="2.03" fill="#bb7af4" />
<rect x="507.75" y="88.07" width="1.80" height="2.03" fill="#f6a423" />
<rect x="556.83" y="88.07" width="2.39" height="2.03" fill="#f6a423" />
<rect x="520.32" y="90.70" width="20.35" height="2.39" fill="#bb7af4" />
<rect x="551.44" y="90.70" width="8.38" height="2.39" fill="#bb7af4" />
<rect x="510.15" y="90.70" width="10.17" height="2.39" fill="#4d22a4" />
<rect x="525.11" y="90.70" width="2.39" height="2.39" fill="#4d22a4" />
<rect x="531.09" y="90.70" width="2.39" height="2.39" fill="#4d22a4" />
<rect x="507.15" y="90.70" width="2.39" height="2.39" fill="#f6a423" />
<rect x="549.65" y="90.70" width="1.80" height="2.39" fill="#f6a423" />
<rect x="515.53" y="93.69" width="20.35" height="2.39" fill="#bb7af4" />
<rect x="526.31" y="93.69" width="4.79" height="2.39" fill="#4d22a4" />
<rect x="540.67" y="93.69" width="2.39" height="2.39" fill="#4d22a4" />
<rect x="508.95" y="93.69" width="6.58" height="2.39" fill="#f6a423" />
<rect x="511.94" y="97.64" width="1.80" height="1.44" fill="#4d22a4" />
<rect x="516.73" y="97.64" width="1.80" height="1.44" fill="#4d22a4" />
<rect x="522.71" y="97.64" width="1.20" height="1.44" fill="#4d22a4" />
<rect x="527.50" y="97.64" width="1.80" height="1.44" fill="#4d22a4" />
<rect x="534.68" y="97.64" width="1.80" height="1.44" fill="#4d22a4" />
<rect x="540.67" y="97.64" width="1.80" height="1.44" fill="#4d22a4" />
<rect x="546.65" y="97.64" width="3.59" height="1.44" fill="#4d22a4" />
<rect x="508.35" y="97.64" width="1.20" height="1.44" fill="#f6a423" />
<rect x="535.88" y="99.08" width="11.97" height="1.80" fill="#bb7af4" />
<rect x="507.75" y="99.08" width="1.20" height="1.80" fill="#f6a423" />
<rect x="537.08" y="99.08" width="1.20" height="1.80" fill="#f6a423" />
<rect x="525.11" y="100.87" width="20.35" height="2.39" fill="#bb7af4" />
<rect x="544.26" y="100.87" width="3.59" height="2.39" fill="#4d22a4" />
<rect x="507.15" y="100.87" width="1.80" height="2.39" fill="#f6a423" />
<rect x="516.73" y="100.87" width="1.20" height="2.39" fill="#f6a423" />
<rect x="525.11" y="100.87" width="1.20" height="2.39" fill="#f6a423" />
<rect x="510.15" y="103.27" width="37.71" height="2.39" fill="#bb7af4" />
<rect x="510.74" y="103.27" width="2.39" height="2.39" fill="#4d22a4" />
<rect x="517.93" y="103.27" width="2.39" height="2.39" fill="#4d22a4" />
<rect x="527.50" y="103.27" width="2.39" height="2.39" fill="#4d22a4" />
<rect x="535.88" y="103.27" width="3.59" height="2.39" fill="#4d22a4" />
<rect x="544.26" y="103.27" width="5.99" height="2.39" fill="#4d22a4" />
<rect x="557.43" y="103.27" width="1.20" height="2.39" fill="#4d22a4" />
<rect x="508.95" y="103.27" width="1.80" height="2.39" fill="#f6a423" />
<line x1="509.30" y1="55.50" x2="509.30" y2="106.30" stroke="#8fa6f4" stroke-width="0.7" />
<line x1="544.90" y1="55.50" x2="544.90" y2="106.30" stroke="#8fa6f4" stroke-width="0.7" />
<line x1="491.40" y1="65.60" x2="565.20" y2="65.60" stroke="#222" stroke-width="0.8" stroke-dasharray="3,2.2" />
<line x1="491.40" y1="76.30" x2="565.20" y2="76.30" stroke="#222" stroke-width="0.8" stroke-dasharray="3,2.2" />
<line x1="491.40" y1="85.30" x2="565.20" y2="85.30" stroke="#222" stroke-width="0.8" stroke-dasharray="3,2.2" />
<line x1="491.40" y1="97.30" x2="565.20" y2="97.30" stroke="#222" stroke-width="0.8" stroke-dasharray="3,2.2" />
<line x1="491.40" y1="55.50" x2="491.40" y2="106.30" stroke="#6a6a6a" stroke-width="0.9" />
<line x1="491.40" y1="106.30" x2="562.80" y2="106.30" stroke="#9a9a9a" stroke-width="0.9" />
<text x="486.00" y="63.50" font-size="9.5" fill="#0d0d0d" stroke="#0d0d0d" stroke-width="0.16" text-anchor="end" >m5</text>
<text x="486.00" y="74.00" font-size="9.5" fill="#0d0d0d" stroke="#0d0d0d" stroke-width="0.16" text-anchor="end" >m4</text>
<text x="486.00" y="84.30" font-size="9.5" fill="#0d0d0d" stroke="#0d0d0d" stroke-width="0.16" text-anchor="end" >m3</text>
<text x="486.00" y="94.70" font-size="9.5" fill="#0d0d0d" stroke="#0d0d0d" stroke-width="0.16" text-anchor="end" >m2</text>
<text x="486.00" y="105.10" font-size="9.5" fill="#0d0d0d" stroke="#0d0d0d" stroke-width="0.16" text-anchor="end" >m1</text>
<text transform="translate(465.20,81.30) rotate(-90)" font-size="9.5" fill="#0d0d0d" stroke="#0d0d0d" stroke-width="0.16" text-anchor="middle" >Animal ID</text>
<text x="491.30" y="119.30" font-size="9.5" fill="#0d0d0d" stroke="#0d0d0d" stroke-width="0.16" text-anchor="middle" >0</text>
<text x="562.50" y="119.30" font-size="9.5" fill="#0d0d0d" stroke="#0d0d0d" stroke-width="0.16" text-anchor="middle" >20</text>
<text x="527.40" y="123.80" font-size="9.5" fill="#0d0d0d" stroke="#0d0d0d" stroke-width="0.16" text-anchor="middle" >Time (s)</text>
<line x1="507.10" y1="141.20" x2="507.10" y2="199.60" stroke="#6a6a6a" stroke-width="0.9" />
<line x1="503.90" y1="199.60" x2="507.10" y2="199.60" stroke="#6a6a6a" stroke-width="0.9" />
<text x="502.30" y="202.80" font-size="9.4" fill="#0d0d0d" stroke="#0d0d0d" stroke-width="0.16" text-anchor="end" >0</text>
<line x1="503.90" y1="170.40" x2="507.10" y2="170.40" stroke="#6a6a6a" stroke-width="0.9" />
<text x="502.30" y="173.60" font-size="9.4" fill="#0d0d0d" stroke="#0d0d0d" stroke-width="0.16" text-anchor="end" >50</text>
<line x1="503.90" y1="141.20" x2="507.10" y2="141.20" stroke="#6a6a6a" stroke-width="0.9" />
<text x="502.30" y="144.40" font-size="9.4" fill="#0d0d0d" stroke="#0d0d0d" stroke-width="0.16" text-anchor="end" >100</text>
<line x1="504.00" y1="199.60" x2="549.70" y2="199.60" stroke="#bdbdbd" stroke-width="1.3" />
<line x1="518.45" y1="152.88" x2="518.45" y2="158.72" stroke="#3c3c3c" stroke-width="0.9" />
<line x1="518.45" y1="173.32" x2="518.45" y2="180.33" stroke="#3c3c3c" stroke-width="0.9" />
<line x1="515.95" y1="152.88" x2="520.95" y2="152.88" stroke="#3c3c3c" stroke-width="0.9" />
<line x1="515.95" y1="180.33" x2="520.95" y2="180.33" stroke="#3c3c3c" stroke-width="0.9" />
<rect x="513.90" y="158.72" width="9.10" height="14.60" fill="#fff" stroke="#3c3c3c" stroke-width="0.9" />
<line x1="513.90" y1="164.56" x2="523.00" y2="164.56" stroke="#3c3c3c" stroke-width="0.9" />
<line x1="539.30" y1="141.20" x2="539.30" y2="144.70" stroke="#3c3c3c" stroke-width="0.9" />
<line x1="539.30" y1="153.46" x2="539.30" y2="158.72" stroke="#3c3c3c" stroke-width="0.9" />
<line x1="536.77" y1="141.20" x2="541.83" y2="141.20" stroke="#3c3c3c" stroke-width="0.9" />
<line x1="536.77" y1="158.72" x2="541.83" y2="158.72" stroke="#3c3c3c" stroke-width="0.9" />
<rect x="534.70" y="144.70" width="9.20" height="8.76" fill="#a048c8" stroke="#3c3c3c" stroke-width="0.9" />
<line x1="534.70" y1="149.38" x2="543.90" y2="149.38" stroke="#3c3c3c" stroke-width="0.9" />
<line x1="518.45" y1="152.88" x2="539.30" y2="145.29" stroke="#9a9a9a" stroke-width="0.6" />
<line x1="518.45" y1="163.39" x2="539.30" y2="141.20" stroke="#9a9a9a" stroke-width="0.6" />
<line x1="518.45" y1="165.73" x2="539.30" y2="148.21" stroke="#9a9a9a" stroke-width="0.6" />
<line x1="518.45" y1="180.33" x2="539.30" y2="158.72" stroke="#9a9a9a" stroke-width="0.6" />
<line x1="518.45" y1="161.06" x2="539.30" y2="144.70" stroke="#9a9a9a" stroke-width="0.6" />
<circle cx="518.45" cy="152.88" r="1.35" fill="#4a4a4a" />
<circle cx="539.30" cy="145.29" r="1.35" fill="#4a4a4a" />
<circle cx="518.45" cy="163.39" r="1.35" fill="#4a4a4a" />
<circle cx="539.30" cy="141.20" r="1.35" fill="#4a4a4a" />
<circle cx="518.45" cy="165.73" r="1.35" fill="#4a4a4a" />
<circle cx="539.30" cy="148.21" r="1.35" fill="#4a4a4a" />
<circle cx="518.45" cy="180.33" r="1.35" fill="#4a4a4a" />
<circle cx="539.30" cy="158.72" r="1.35" fill="#4a4a4a" />
<circle cx="518.45" cy="161.06" r="1.35" fill="#4a4a4a" />
<circle cx="539.30" cy="144.70" r="1.35" fill="#4a4a4a" />
<polygon points="536.60,134.90 537.16,136.24 538.60,136.35 537.50,137.29 537.83,138.70 536.60,137.94 535.37,138.70 535.70,137.29 534.60,136.35 536.04,136.24" fill="#1a1a1a" />
<polygon points="541.50,134.90 542.06,136.24 543.50,136.35 542.40,137.29 542.73,138.70 541.50,137.94 540.27,138.70 540.60,137.29 539.50,136.35 540.94,136.24" fill="#1a1a1a" />
<text transform="translate(460.00,171.00) rotate(-90)" font-size="9.5" fill="#0d0d0d" stroke="#0d0d0d" stroke-width="0.16" text-anchor="middle" >Percentage of app.</text>
<text transform="translate(470.00,171.00) rotate(-90)" font-size="9.5" fill="#0d0d0d" stroke="#0d0d0d" stroke-width="0.16" text-anchor="middle" >transition to</text>
<text transform="translate(479.80,171.00) rotate(-90)" font-size="9.5" fill="#0d0d0d" stroke="#0d0d0d" stroke-width="0.16" text-anchor="middle" >reach/mount</text>
<text transform="translate(519.60,207.50) rotate(-45)" font-size="9.5" fill="#0d0d0d" stroke="#0d0d0d" stroke-width="0.16" text-anchor="end" >Sham</text>
<text transform="translate(540.40,207.50) rotate(-45)" font-size="9.5" fill="#0d0d0d" stroke="#0d0d0d" stroke-width="0.16" text-anchor="end" >Stim</text>
<text transform="translate(548.00,213.60) rotate(-45)" font-size="9.5" fill="#0d0d0d" stroke="#0d0d0d" stroke-width="0.16" text-anchor="end" >(20 Hz)</text>
<text x="575.90" y="33.70" font-size="12.5" font-weight="bold" fill="#000" stroke="#000" stroke-width="0.4">g</text>
<line x1="617.20" y1="39.30" x2="617.20" y2="103.20" stroke="#b8b8b8" stroke-width="1.1" />
<line x1="614.00" y1="103.20" x2="617.20" y2="103.20" stroke="#b8b8b8" stroke-width="1.1" />
<text x="610.30" y="106.40" font-size="9.4" fill="#0d0d0d" stroke="#0d0d0d" stroke-width="0.16" text-anchor="end" >0</text>
<line x1="614.00" y1="81.90" x2="617.20" y2="81.90" stroke="#b8b8b8" stroke-width="1.1" />
<text x="610.30" y="85.10" font-size="9.4" fill="#0d0d0d" stroke="#0d0d0d" stroke-width="0.16" text-anchor="end" >10</text>
<line x1="614.00" y1="60.60" x2="617.20" y2="60.60" stroke="#b8b8b8" stroke-width="1.1" />
<text x="610.30" y="63.80" font-size="9.4" fill="#0d0d0d" stroke="#0d0d0d" stroke-width="0.16" text-anchor="end" >20</text>
<line x1="614.00" y1="39.30" x2="617.20" y2="39.30" stroke="#b8b8b8" stroke-width="1.1" />
<text x="610.30" y="42.50" font-size="9.4" fill="#0d0d0d" stroke="#0d0d0d" stroke-width="0.16" text-anchor="end" >30</text>
<line x1="614.00" y1="103.20" x2="680.60" y2="103.20" stroke="#6a6a6a" stroke-width="0.9" />
<line x1="624.90" y1="103.20" x2="624.90" y2="105.40" stroke="#6a6a6a" stroke-width="0.8" />
<line x1="637.00" y1="103.20" x2="637.00" y2="105.40" stroke="#6a6a6a" stroke-width="0.8" />
<line x1="649.10" y1="103.20" x2="649.10" y2="105.40" stroke="#6a6a6a" stroke-width="0.8" />
<line x1="661.00" y1="103.20" x2="661.00" y2="105.40" stroke="#6a6a6a" stroke-width="0.8" />
<line x1="673.30" y1="103.20" x2="673.30" y2="105.40" stroke="#6a6a6a" stroke-width="0.8" />
<line x1="624.90" y1="86.16" x2="624.90" y2="88.29" stroke="#3c3c3c" stroke-width="0.9" />
<line x1="624.90" y1="101.50" x2="624.90" y2="103.20" stroke="#3c3c3c" stroke-width="0.9" />
<line x1="622.98" y1="86.16" x2="626.82" y2="86.16" stroke="#3c3c3c" stroke-width="0.9" />
<line x1="622.98" y1="103.20" x2="626.82" y2="103.20" stroke="#3c3c3c" stroke-width="0.9" />
<rect x="621.40" y="88.29" width="7.00" height="13.21" fill="#ffffff" stroke="#3c3c3c" stroke-width="0.9" />
<line x1="621.40" y1="91.70" x2="628.40" y2="91.70" stroke="#3c3c3c" stroke-width="0.9" />
<circle cx="624.90" cy="86.16" r="1.35" fill="#4a4a4a" />
<circle cx="624.90" cy="88.29" r="1.35" fill="#4a4a4a" />
<circle cx="624.90" cy="92.55" r="1.35" fill="#4a4a4a" />
<circle cx="624.90" cy="101.07" r="1.35" fill="#4a4a4a" />
<circle cx="624.90" cy="103.20" r="1.35" fill="#4a4a4a" />
<line x1="637.00" y1="76.36" x2="637.00" y2="84.46" stroke="#3c3c3c" stroke-width="0.9" />
<line x1="637.00" y1="102.77" x2="637.00" y2="103.20" stroke="#3c3c3c" stroke-width="0.9" />
<line x1="635.08" y1="76.36" x2="638.92" y2="76.36" stroke="#3c3c3c" stroke-width="0.9" />
<line x1="635.08" y1="103.20" x2="638.92" y2="103.20" stroke="#3c3c3c" stroke-width="0.9" />
<rect x="633.50" y="84.46" width="7.00" height="18.32" fill="#e8dcef" stroke="#3c3c3c" stroke-width="0.9" />
<line x1="633.50" y1="96.60" x2="640.50" y2="96.60" stroke="#3c3c3c" stroke-width="0.9" />
<circle cx="637.00" cy="90.42" r="1.35" fill="#4a4a4a" />
<circle cx="637.00" cy="96.81" r="1.35" fill="#4a4a4a" />
<circle cx="637.00" cy="101.07" r="1.35" fill="#4a4a4a" />
<circle cx="637.00" cy="102.56" r="1.35" fill="#4a4a4a" />
<line x1="649.10" y1="52.51" x2="649.10" y2="71.25" stroke="#3c3c3c" stroke-width="0.9" />
<line x1="649.10" y1="96.17" x2="649.10" y2="96.17" stroke="#3c3c3c" stroke-width="0.9" />
<line x1="647.18" y1="52.51" x2="651.02" y2="52.51" stroke="#3c3c3c" stroke-width="0.9" />
<line x1="647.18" y1="96.17" x2="651.02" y2="96.17" stroke="#3c3c3c" stroke-width="0.9" />
<rect x="645.60" y="71.25" width="7.00" height="24.92" fill="#c8b1dd" stroke="#3c3c3c" stroke-width="0.9" />
<line x1="645.60" y1="91.06" x2="652.60" y2="91.06" stroke="#3c3c3c" stroke-width="0.9" />
<circle cx="649.10" cy="89.36" r="1.35" fill="#4a4a4a" />
<circle cx="649.10" cy="90.42" r="1.35" fill="#4a4a4a" />
<circle cx="649.10" cy="94.68" r="1.35" fill="#4a4a4a" />
<circle cx="649.10" cy="95.75" r="1.35" fill="#4a4a4a" />
<line x1="661.00" y1="43.56" x2="661.00" y2="60.39" stroke="#3c3c3c" stroke-width="0.9" />
<line x1="661.00" y1="91.91" x2="661.00" y2="97.45" stroke="#3c3c3c" stroke-width="0.9" />
<line x1="659.08" y1="43.56" x2="662.92" y2="43.56" stroke="#3c3c3c" stroke-width="0.9" />
<line x1="659.08" y1="97.45" x2="662.92" y2="97.45" stroke="#3c3c3c" stroke-width="0.9" />
<rect x="657.50" y="60.39" width="7.00" height="31.52" fill="#9f7cc3" stroke="#3c3c3c" stroke-width="0.9" />
<line x1="657.50" y1="80.41" x2="664.50" y2="80.41" stroke="#3c3c3c" stroke-width="0.9" />
<circle cx="661.00" cy="75.51" r="1.35" fill="#4a4a4a" />
<circle cx="661.00" cy="86.16" r="1.35" fill="#4a4a4a" />
<circle cx="661.00" cy="96.81" r="1.35" fill="#4a4a4a" />
<circle cx="661.00" cy="79.77" r="1.35" fill="#4a4a4a" />
<line x1="673.30" y1="47.82" x2="673.30" y2="51.02" stroke="#3c3c3c" stroke-width="0.9" />
<line x1="673.30" y1="79.77" x2="673.30" y2="83.39" stroke="#3c3c3c" stroke-width="0.9" />
<line x1="671.38" y1="47.82" x2="675.22" y2="47.82" stroke="#3c3c3c" stroke-width="0.9" />
<line x1="671.38" y1="83.39" x2="675.22" y2="83.39" stroke="#3c3c3c" stroke-width="0.9" />
<rect x="669.80" y="51.02" width="7.00" height="28.76" fill="#6b3d9f" stroke="#3c3c3c" stroke-width="0.9" />
<line x1="669.80" y1="71.25" x2="676.80" y2="71.25" stroke="#3c3c3c" stroke-width="0.9" />
<circle cx="673.30" cy="49.95" r="1.35" fill="#4a4a4a" />
<circle cx="673.30" cy="71.25" r="1.35" fill="#4a4a4a" />
<circle cx="673.30" cy="77.64" r="1.35" fill="#4a4a4a" />
<circle cx="673.30" cy="47.82" r="1.35" fill="#4a4a4a" />
<text x="624.90" y="117.20" font-size="9.5" fill="#0d0d0d" stroke="#0d0d0d" stroke-width="0.16" text-anchor="middle" >0</text>
<text x="637.00" y="117.20" font-size="9.5" fill="#0d0d0d" stroke="#0d0d0d" stroke-width="0.16" text-anchor="middle" >1</text>
<text x="649.10" y="117.20" font-size="9.5" fill="#0d0d0d" stroke="#0d0d0d" stroke-width="0.16" text-anchor="middle" >5</text>
<text x="661.00" y="117.20" font-size="9.5" fill="#0d0d0d" stroke="#0d0d0d" stroke-width="0.16" text-anchor="middle" >10</text>
<text x="673.30" y="117.20" font-size="9.5" fill="#0d0d0d" stroke="#0d0d0d" stroke-width="0.16" text-anchor="middle" >20</text>
<polygon points="647.50,30.70 648.00,31.91 649.31,32.01 648.31,32.86 648.62,34.14 647.50,33.45 646.38,34.14 646.69,32.86 645.69,32.01 647.00,31.91" fill="#1a1a1a" />
<line x1="627.70" y1="35.70" x2="667.50" y2="35.70" stroke="#ababab" stroke-width="1.4" />
<line x1="623.70" y1="39.20" x2="673.60" y2="39.20" stroke="#888" stroke-width="1.1" />
<text transform="translate(582.00,71.70) rotate(-90)" font-size="9.5" fill="#0d0d0d" stroke="#0d0d0d" stroke-width="0.16" text-anchor="middle" >Percentage of</text>
<text transform="translate(591.90,71.70) rotate(-90)" font-size="9.5" fill="#0d0d0d" stroke="#0d0d0d" stroke-width="0.16" text-anchor="middle" >time reaching</text>
<line x1="617.20" y1="134.35" x2="617.20" y2="198.60" stroke="#b8b8b8" stroke-width="1.1" />
<line x1="614.00" y1="198.60" x2="617.20" y2="198.60" stroke="#b8b8b8" stroke-width="1.1" />
<text x="610.30" y="201.80" font-size="9.4" fill="#0d0d0d" stroke="#0d0d0d" stroke-width="0.16" text-anchor="end" >0</text>
<line x1="614.00" y1="185.75" x2="617.20" y2="185.75" stroke="#b8b8b8" stroke-width="1.1" />
<text x="610.30" y="188.95" font-size="9.4" fill="#0d0d0d" stroke="#0d0d0d" stroke-width="0.16" text-anchor="end" >10</text>
<line x1="614.00" y1="172.90" x2="617.20" y2="172.90" stroke="#b8b8b8" stroke-width="1.1" />
<text x="610.30" y="176.10" font-size="9.4" fill="#0d0d0d" stroke="#0d0d0d" stroke-width="0.16" text-anchor="end" >20</text>
<line x1="614.00" y1="160.05" x2="617.20" y2="160.05" stroke="#b8b8b8" stroke-width="1.1" />
<text x="610.30" y="163.25" font-size="9.4" fill="#0d0d0d" stroke="#0d0d0d" stroke-width="0.16" text-anchor="end" >30</text>
<line x1="614.00" y1="147.20" x2="617.20" y2="147.20" stroke="#b8b8b8" stroke-width="1.1" />
<text x="610.30" y="150.40" font-size="9.4" fill="#0d0d0d" stroke="#0d0d0d" stroke-width="0.16" text-anchor="end" >40</text>
<line x1="614.00" y1="134.35" x2="617.20" y2="134.35" stroke="#b8b8b8" stroke-width="1.1" />
<text x="610.30" y="137.55" font-size="9.4" fill="#0d0d0d" stroke="#0d0d0d" stroke-width="0.16" text-anchor="end" >50</text>
<line x1="614.00" y1="198.60" x2="680.60" y2="198.60" stroke="#6a6a6a" stroke-width="0.9" />
<line x1="624.90" y1="198.60" x2="624.90" y2="200.80" stroke="#6a6a6a" stroke-width="0.8" />
<line x1="637.00" y1="198.60" x2="637.00" y2="200.80" stroke="#6a6a6a" stroke-width="0.8" />
<line x1="649.10" y1="198.60" x2="649.10" y2="200.80" stroke="#6a6a6a" stroke-width="0.8" />
<line x1="661.00" y1="198.60" x2="661.00" y2="200.80" stroke="#6a6a6a" stroke-width="0.8" />
<line x1="673.30" y1="198.60" x2="673.30" y2="200.80" stroke="#6a6a6a" stroke-width="0.8" />
<line x1="624.90" y1="179.97" x2="624.90" y2="187.29" stroke="#3c3c3c" stroke-width="0.9" />
<line x1="624.90" y1="198.09" x2="624.90" y2="198.60" stroke="#3c3c3c" stroke-width="0.9" />
<line x1="622.98" y1="179.97" x2="626.82" y2="179.97" stroke="#3c3c3c" stroke-width="0.9" />
<line x1="622.98" y1="198.60" x2="626.82" y2="198.60" stroke="#3c3c3c" stroke-width="0.9" />
<rect x="621.40" y="187.29" width="7.00" height="10.79" fill="#ffffff" stroke="#3c3c3c" stroke-width="0.9" />
<line x1="621.40" y1="197.96" x2="628.40" y2="197.96" stroke="#3c3c3c" stroke-width="0.9" />
<circle cx="624.90" cy="193.46" r="1.35" fill="#4a4a4a" />
<circle cx="624.90" cy="197.96" r="1.35" fill="#4a4a4a" />
<circle cx="624.90" cy="197.31" r="1.35" fill="#4a4a4a" />
<circle cx="624.90" cy="179.97" r="1.35" fill="#4a4a4a" />
<line x1="637.00" y1="183.44" x2="637.00" y2="189.60" stroke="#3c3c3c" stroke-width="0.9" />
<line x1="637.00" y1="197.31" x2="637.00" y2="198.60" stroke="#3c3c3c" stroke-width="0.9" />
<line x1="635.08" y1="183.44" x2="638.92" y2="183.44" stroke="#3c3c3c" stroke-width="0.9" />
<line x1="635.08" y1="198.60" x2="638.92" y2="198.60" stroke="#3c3c3c" stroke-width="0.9" />
<rect x="633.50" y="189.60" width="7.00" height="7.71" fill="#efc6ee" stroke="#3c3c3c" stroke-width="0.9" />
<line x1="633.50" y1="195.26" x2="640.50" y2="195.26" stroke="#3c3c3c" stroke-width="0.9" />
<circle cx="637.00" cy="192.17" r="1.35" fill="#4a4a4a" />
<circle cx="637.00" cy="196.03" r="1.35" fill="#4a4a4a" />
<circle cx="637.00" cy="197.31" r="1.35" fill="#4a4a4a" />
<circle cx="637.00" cy="197.96" r="1.35" fill="#4a4a4a" />
<circle cx="637.00" cy="183.44" r="1.35" fill="#4a4a4a" />
<line x1="649.10" y1="180.22" x2="649.10" y2="182.41" stroke="#3c3c3c" stroke-width="0.9" />
<line x1="649.10" y1="193.46" x2="649.10" y2="193.72" stroke="#3c3c3c" stroke-width="0.9" />
<line x1="647.18" y1="180.22" x2="651.02" y2="180.22" stroke="#3c3c3c" stroke-width="0.9" />
<line x1="647.18" y1="193.72" x2="651.02" y2="193.72" stroke="#3c3c3c" stroke-width="0.9" />
<rect x="645.60" y="182.41" width="7.00" height="11.05" fill="#e3a3e0" stroke="#3c3c3c" stroke-width="0.9" />
<line x1="645.60" y1="183.18" x2="652.60" y2="183.18" stroke="#3c3c3c" stroke-width="0.9" />
<circle cx="649.10" cy="181.89" r="1.35" fill="#4a4a4a" />
<circle cx="649.10" cy="183.18" r="1.35" fill="#4a4a4a" />
<circle cx="649.10" cy="193.46" r="1.35" fill="#4a4a4a" />
<circle cx="649.10" cy="180.61" r="1.35" fill="#4a4a4a" />
<line x1="661.00" y1="169.04" x2="661.00" y2="171.62" stroke="#3c3c3c" stroke-width="0.9" />
<line x1="661.00" y1="180.22" x2="661.00" y2="180.61" stroke="#3c3c3c" stroke-width="0.9" />
<line x1="659.08" y1="169.04" x2="662.92" y2="169.04" stroke="#3c3c3c" stroke-width="0.9" />
<line x1="659.08" y1="180.61" x2="662.92" y2="180.61" stroke="#3c3c3c" stroke-width="0.9" />
<rect x="657.50" y="171.62" width="7.00" height="8.61" fill="#cc6cca" stroke="#3c3c3c" stroke-width="0.9" />
<line x1="657.50" y1="176.75" x2="664.50" y2="176.75" stroke="#3c3c3c" stroke-width="0.9" />
<circle cx="661.00" cy="170.33" r="1.35" fill="#4a4a4a" />
<circle cx="661.00" cy="179.32" r="1.35" fill="#4a4a4a" />
<circle cx="661.00" cy="172.90" r="1.35" fill="#4a4a4a" />
<circle cx="661.00" cy="176.75" r="1.35" fill="#4a4a4a" />
<line x1="673.30" y1="147.20" x2="673.30" y2="148.49" stroke="#3c3c3c" stroke-width="0.9" />
<line x1="673.30" y1="174.57" x2="673.30" y2="177.53" stroke="#3c3c3c" stroke-width="0.9" />
<line x1="671.38" y1="147.20" x2="675.22" y2="147.20" stroke="#3c3c3c" stroke-width="0.9" />
<line x1="671.38" y1="177.53" x2="675.22" y2="177.53" stroke="#3c3c3c" stroke-width="0.9" />
<rect x="669.80" y="148.49" width="7.00" height="26.09" fill="#ad3aad" stroke="#3c3c3c" stroke-width="0.9" />
<line x1="669.80" y1="159.15" x2="676.80" y2="159.15" stroke="#3c3c3c" stroke-width="0.9" />
<circle cx="673.30" cy="148.49" r="1.35" fill="#4a4a4a" />
<circle cx="673.30" cy="158.76" r="1.35" fill="#4a4a4a" />
<circle cx="673.30" cy="172.90" r="1.35" fill="#4a4a4a" />
<circle cx="673.30" cy="147.20" r="1.35" fill="#4a4a4a" />
<text x="624.90" y="212.20" font-size="9.5" fill="#0d0d0d" stroke="#0d0d0d" stroke-width="0.16" text-anchor="middle" >0</text>
<text x="637.00" y="212.20" font-size="9.5" fill="#0d0d0d" stroke="#0d0d0d" stroke-width="0.16" text-anchor="middle" >1</text>
<text x="649.10" y="212.20" font-size="9.5" fill="#0d0d0d" stroke="#0d0d0d" stroke-width="0.16" text-anchor="middle" >5</text>
<text x="661.00" y="212.20" font-size="9.5" fill="#0d0d0d" stroke="#0d0d0d" stroke-width="0.16" text-anchor="middle" >10</text>
<text x="673.30" y="212.20" font-size="9.5" fill="#0d0d0d" stroke="#0d0d0d" stroke-width="0.16" text-anchor="middle" >20</text>
<polygon points="650.50,128.90 651.00,130.11 652.31,130.21 651.31,131.06 651.62,132.34 650.50,131.66 649.38,132.34 649.69,131.06 648.69,130.21 650.00,130.11" fill="#1a1a1a" />
<polygon points="655.40,128.90 655.90,130.11 657.21,130.21 656.21,131.06 656.52,132.34 655.40,131.66 654.28,132.34 654.59,131.06 653.59,130.21 654.90,130.11" fill="#1a1a1a" />
<line x1="633.00" y1="133.90" x2="672.70" y2="133.90" stroke="#9a9a9a" stroke-width="1.2" />
<polygon points="647.50,136.50 648.00,137.71 649.31,137.81 648.31,138.66 648.62,139.94 647.50,139.25 646.38,139.94 646.69,138.66 645.69,137.81 647.00,137.71" fill="#1a1a1a" />
<line x1="633.00" y1="141.30" x2="660.80" y2="141.30" stroke="#777" stroke-width="1.0" />
<line x1="623.70" y1="143.90" x2="672.70" y2="143.90" stroke="#aaa" stroke-width="1.3" />
<text transform="translate(582.00,166.70) rotate(-90)" font-size="9.5" fill="#0d0d0d" stroke="#0d0d0d" stroke-width="0.16" text-anchor="middle" >Percentage of</text>
<text transform="translate(591.90,166.70) rotate(-90)" font-size="9.5" fill="#0d0d0d" stroke="#0d0d0d" stroke-width="0.16" text-anchor="middle" >time mounting</text>
<text x="649.20" y="226.10" font-size="9.5" fill="#0d0d0d" stroke="#0d0d0d" stroke-width="0.16" text-anchor="middle" >Stim freq. (Hz)</text>
<text x="0.00" y="280.00" font-size="12.5" font-weight="bold" fill="#000" stroke="#000" stroke-width="0.4">h</text>
<text x="63.40" y="282.50" font-size="9.5" fill="#0d0d0d" stroke="#0d0d0d" stroke-width="0.16" >SPFp<tspan font-size="5.9" font-style="italic" dy="-4.4">Pth2</tspan><tspan dy="4.4"> GCaMP8s</tspan></text>
<text x="38.70" y="293.50" font-size="9.5" fill="#0d0d0d" stroke="#0d0d0d" stroke-width="0.16" text-anchor="end" >Sing</text>
<text x="38.70" y="303.70" font-size="9.5" fill="#0d0d0d" stroke="#0d0d0d" stroke-width="0.16" text-anchor="end" >Mount</text>
<text x="38.70" y="313.90" font-size="9.5" fill="#0d0d0d" stroke="#0d0d0d" stroke-width="0.16" text-anchor="end" >Reach</text>
<text x="38.70" y="324.10" font-size="9.5" fill="#0d0d0d" stroke="#0d0d0d" stroke-width="0.16" text-anchor="end" >Sniff</text>
<text x="38.70" y="333.70" font-size="9.5" fill="#0d0d0d" stroke="#0d0d0d" stroke-width="0.16" text-anchor="end" >Contact</text>
<rect x="43.50" y="289.90" width="12.90" height="7.60" fill="#3e3e3e" />
<rect x="60.60" y="289.90" width="1.10" height="7.60" fill="#3e3e3e" />
<rect x="64.00" y="289.90" width="8.20" height="7.60" fill="#3e3e3e" />
<rect x="75.50" y="289.90" width="1.40" height="7.60" fill="#3e3e3e" />
<rect x="82.70" y="289.90" width="16.90" height="7.60" fill="#3e3e3e" />
<rect x="109.10" y="289.90" width="4.70" height="7.60" fill="#3e3e3e" />
<rect x="115.20" y="289.90" width="21.90" height="7.60" fill="#3e3e3e" />
<rect x="142.00" y="289.90" width="5.00" height="7.60" fill="#3e3e3e" />
<rect x="154.00" y="289.90" width="0.90" height="7.60" fill="#3e3e3e" />
<rect x="158.20" y="289.90" width="7.40" height="7.60" fill="#3e3e3e" />
<rect x="44.60" y="289.90" width="0.80" height="7.60" fill="#8a8a8a" />
<rect x="130.10" y="299.00" width="1.70" height="8.00" fill="#cd8cf6" />
<rect x="133.30" y="299.00" width="4.10" height="8.00" fill="#c27af3" />
<rect x="143.00" y="299.00" width="4.00" height="8.00" fill="#c27af3" />
<rect x="158.40" y="299.00" width="2.30" height="8.00" fill="#c27af3" />
<rect x="164.00" y="299.00" width="1.20" height="8.00" fill="#dcaaf8" />
<rect x="127.80" y="308.00" width="2.80" height="8.00" fill="#7a4bb5" />
<rect x="131.80" y="308.00" width="2.30" height="8.00" fill="#6e3ea8" />
<rect x="142.00" y="308.00" width="1.80" height="8.00" fill="#c4a6dc" />
<rect x="154.00" y="308.00" width="1.50" height="8.00" fill="#c4a6dc" />
<rect x="158.60" y="308.00" width="2.10" height="8.00" fill="#6a3aa5" />
<rect x="162.80" y="308.00" width="1.70" height="8.00" fill="#7a4bb5" />
<rect x="166.00" y="308.00" width="0.80" height="8.00" fill="#9c78c8" />
<rect x="54.00" y="317.00" width="4.70" height="7.60" fill="#79b443" />
<rect x="65.20" y="317.00" width="3.30" height="7.60" fill="#79b443" />
<rect x="69.20" y="317.00" width="1.60" height="7.60" fill="#79b443" />
<rect x="52.80" y="326.10" width="6.40" height="7.70" fill="#4cc0b8" opacity="1"/>
<rect x="61.00" y="326.10" width="1.20" height="7.70" fill="#4cc0b8" opacity="1"/>
<rect x="64.50" y="326.10" width="8.20" height="7.70" fill="#4cc0b8" opacity="1"/>
<rect x="89.00" y="326.10" width="1.20" height="7.70" fill="#4cc0b8" opacity="1"/>
<rect x="93.70" y="326.10" width="1.70" height="7.70" fill="#4cc0b8" opacity="1"/>
<rect x="116.10" y="326.10" width="0.90" height="7.70" fill="#4cc0b8" opacity="1"/>
<rect x="125.90" y="326.10" width="13.20" height="7.70" fill="#4cc0b8" opacity="1"/>
<rect x="141.80" y="326.10" width="6.10" height="7.70" fill="#4cc0b8" opacity="1"/>
<rect x="149.00" y="326.10" width="1.00" height="7.70" fill="#4cc0b8" opacity="0.4"/>
<rect x="153.70" y="326.10" width="2.10" height="7.70" fill="#4cc0b8" opacity="1"/>
<rect x="158.00" y="326.10" width="3.90" height="7.70" fill="#4cc0b8" opacity="1"/>
<rect x="163.10" y="326.10" width="4.90" height="7.70" fill="#4cc0b8" opacity="1"/>
<rect x="171.50" y="326.10" width="1.50" height="7.70" fill="#4cc0b8" opacity="0.4"/>
<rect x="52.90" y="338.10" width="6.10" height="70.10" fill="#b5e4e1" />
<rect x="60.60" y="338.10" width="1.10" height="70.10" fill="#b5e4e1" />
<rect x="64.40" y="338.10" width="8.10" height="70.10" fill="#b5e4e1" />
<rect x="89.10" y="351.00" width="0.80" height="57.20" fill="#b5e4e1" />
<rect x="93.60" y="351.00" width="1.70" height="57.20" fill="#b5e4e1" />
<rect x="116.00" y="338.10" width="1.00" height="70.10" fill="#b5e4e1" />
<rect x="126.00" y="338.10" width="12.90" height="70.10" fill="#b5e4e1" />
<rect x="142.10" y="338.10" width="5.90" height="70.10" fill="#b5e4e1" />
<rect x="148.60" y="338.10" width="0.70" height="70.10" fill="#b5e4e1" />
<rect x="154.10" y="338.10" width="2.00" height="70.10" fill="#b5e4e1" />
<rect x="158.10" y="338.10" width="3.80" height="70.10" fill="#b5e4e1" />
<rect x="162.90" y="338.10" width="5.10" height="70.10" fill="#b5e4e1" />
<rect x="171.70" y="338.10" width="0.90" height="70.10" fill="#b5e4e1" />
<line x1="45.40" y1="338.60" x2="45.40" y2="408.20" stroke="#6a6a6a" stroke-width="0.9" />
<line x1="42.20" y1="402.50" x2="45.40" y2="402.50" stroke="#6a6a6a" stroke-width="0.9" />
<text x="38.00" y="405.70" font-size="9.4" fill="#0d0d0d" stroke="#0d0d0d" stroke-width="0.16" text-anchor="end" >0</text>
<line x1="42.20" y1="387.95" x2="45.40" y2="387.95" stroke="#6a6a6a" stroke-width="0.9" />
<text x="38.00" y="391.15" font-size="9.4" fill="#0d0d0d" stroke="#0d0d0d" stroke-width="0.16" text-anchor="end" >1</text>
<line x1="42.20" y1="373.40" x2="45.40" y2="373.40" stroke="#6a6a6a" stroke-width="0.9" />
<text x="38.00" y="376.60" font-size="9.4" fill="#0d0d0d" stroke="#0d0d0d" stroke-width="0.16" text-anchor="end" >2</text>
<line x1="42.20" y1="358.85" x2="45.40" y2="358.85" stroke="#6a6a6a" stroke-width="0.9" />
<text x="38.00" y="362.05" font-size="9.4" fill="#0d0d0d" stroke="#0d0d0d" stroke-width="0.16" text-anchor="end" >3</text>
<line x1="42.20" y1="344.30" x2="45.40" y2="344.30" stroke="#6a6a6a" stroke-width="0.9" />
<text x="38.00" y="347.50" font-size="9.4" fill="#0d0d0d" stroke="#0d0d0d" stroke-width="0.16" text-anchor="end" >4</text>
<line x1="45.40" y1="408.20" x2="178.50" y2="408.20" stroke="#6a6a6a" stroke-width="0.9" />
<line x1="45.40" y1="408.20" x2="45.40" y2="410.80" stroke="#6a6a6a" stroke-width="0.9" />
<text x="45.40" y="423.00" font-size="9.5" fill="#0d0d0d" stroke="#0d0d0d" stroke-width="0.16" text-anchor="middle" >0</text>
<line x1="67.50" y1="408.20" x2="67.50" y2="410.80" stroke="#6a6a6a" stroke-width="0.9" />
<text x="67.50" y="423.00" font-size="9.5" fill="#0d0d0d" stroke="#0d0d0d" stroke-width="0.16" text-anchor="middle" >20</text>
<line x1="89.50" y1="408.20" x2="89.50" y2="410.80" stroke="#6a6a6a" stroke-width="0.9" />
<text x="89.50" y="423.00" font-size="9.5" fill="#0d0d0d" stroke="#0d0d0d" stroke-width="0.16" text-anchor="middle" >40</text>
<line x1="111.20" y1="408.20" x2="111.20" y2="410.80" stroke="#6a6a6a" stroke-width="0.9" />
<text x="111.20" y="423.00" font-size="9.5" fill="#0d0d0d" stroke="#0d0d0d" stroke-width="0.16" text-anchor="middle" >60</text>
<line x1="132.80" y1="408.20" x2="132.80" y2="410.80" stroke="#6a6a6a" stroke-width="0.9" />
<text x="132.80" y="423.00" font-size="9.5" fill="#0d0d0d" stroke="#0d0d0d" stroke-width="0.16" text-anchor="middle" >80</text>
<line x1="154.40" y1="408.20" x2="154.40" y2="410.80" stroke="#6a6a6a" stroke-width="0.9" />
<text x="154.40" y="423.00" font-size="9.5" fill="#0d0d0d" stroke="#0d0d0d" stroke-width="0.16" text-anchor="middle" >100</text>
<line x1="174.80" y1="408.20" x2="174.80" y2="410.80" stroke="#6a6a6a" stroke-width="0.9" />
<text x="174.80" y="423.00" font-size="9.5" fill="#0d0d0d" stroke="#0d0d0d" stroke-width="0.16" text-anchor="middle" >120</text>
<text x="112.50" y="436.70" font-size="9.5" fill="#0d0d0d" stroke="#0d0d0d" stroke-width="0.16" text-anchor="middle" >Time (s)</text>
<line x1="45.40" y1="402.50" x2="178.50" y2="402.50" stroke="#555" stroke-width="0.7" stroke-dasharray="3,1.5,1,1.5" />
<text transform="translate(24.10,372.30) rotate(-90)" font-size="8.5" fill="#0d0d0d" stroke="#0d0d0d" stroke-width="0.16" text-anchor="middle" >&#916;<tspan font-style="italic">F</tspan>/<tspan font-style="italic">F</tspan> (<tspan font-style="italic">z</tspan>)</text>
<polyline points="45.42,400.79 45.72,398.68 46.02,396.41 46.32,395.69 46.62,394.61 46.92,395.46 47.22,394.81 47.52,396.96 47.82,397.81 48.12,396.80 48.42,397.97 48.72,396.68 49.02,397.71 49.32,397.18 49.62,398.29 49.92,399.26 50.22,398.71 50.52,399.50 50.82,399.95 51.12,402.05 51.42,402.29 51.72,401.44 52.02,403.57 52.32,402.46 52.62,403.91 52.92,401.91 53.22,394.11 53.52,388.70 53.82,380.93 54.12,374.95 54.42,373.42 54.72,371.35 55.02,369.25 55.32,372.06 55.62,371.80 55.92,369.14 56.22,365.00 56.52,368.34 56.82,370.14 57.12,373.55 57.42,376.38 57.72,377.75 58.02,380.30 58.32,382.19 58.62,383.95 58.92,385.55 59.22,387.92 59.52,390.44 59.82,390.15 60.12,392.37 60.42,390.59 60.72,385.72 61.02,382.14 61.32,376.53 61.62,371.33 61.92,372.01 62.22,374.35 62.52,375.21 62.82,380.41 63.12,380.82 63.42,384.37 63.72,386.40 64.02,382.64 64.32,382.69 64.62,379.88 64.92,378.59 65.22,375.42 65.52,373.71 65.82,372.49 66.12,373.75 66.42,371.33 66.72,372.07 67.02,371.89 67.32,370.07 67.62,366.23 67.92,363.34 68.22,360.15 68.52,357.25 68.82,352.65 69.12,351.19 69.42,349.22 69.72,350.58 70.02,352.36 70.32,357.73 70.62,358.68 70.92,362.42 71.22,369.82 71.52,374.81 71.82,369.43 72.12,366.83 72.42,365.56 72.72,368.01 73.02,371.55 73.32,374.97 73.62,377.80 73.92,380.79 74.22,383.29 74.52,385.23 74.82,384.42 75.12,385.35 75.42,388.46 75.72,387.97 76.02,388.26 76.32,388.46 76.62,389.93 76.92,391.39 77.22,391.40 77.52,391.74 77.82,391.16 78.12,394.01 78.42,393.09 78.72,395.23 79.02,396.66 79.32,395.56 79.62,397.60 79.92,398.72 80.22,398.56 80.52,399.54 80.82,397.90 81.12,398.09 81.42,396.80 81.72,397.87 82.02,395.95 82.32,397.50 82.62,400.01 82.92,400.86 83.22,402.35 83.52,401.47 83.82,400.95 84.12,401.29 84.42,401.89 84.72,402.64 85.02,402.41 85.32,401.20 85.62,401.15 85.92,402.02 86.22,401.99 86.52,402.09 86.82,402.63 87.12,402.84 87.42,402.85 87.72,403.61 88.02,405.14 88.32,405.84 88.62,405.22 88.92,406.84 89.22,407.41 89.52,406.90 89.82,400.23 90.12,393.86 90.42,393.08 90.72,395.10 91.02,395.28 91.32,396.97 91.62,398.85 91.92,399.86 92.22,400.11 92.52,402.87 92.82,403.36 93.12,399.92 93.42,394.35 93.72,389.73 94.02,381.82 94.32,375.63 94.62,367.93 94.92,362.09 95.22,364.69 95.52,368.05 95.82,372.82 96.12,380.13 96.42,384.40 96.72,386.42 97.02,386.91 97.32,389.29 97.62,390.56 97.92,391.32 98.22,393.21 98.52,394.36 98.82,394.51 99.12,395.74 99.42,396.07 99.72,398.74 100.02,399.58 100.32,399.07 100.62,400.19 100.92,400.85 101.22,401.27 101.52,400.23 101.82,401.99 102.12,401.81 102.42,402.13 102.72,400.95 103.02,400.83 103.32,400.60 103.62,399.67 103.92,399.06 104.22,396.50 104.52,395.92 104.82,395.69 105.12,395.39 105.42,394.05 105.72,394.88 106.02,394.44 106.32,392.73 106.62,392.50 106.92,390.12 107.22,389.26 107.52,391.25 107.82,393.42 108.12,394.30 108.42,395.53 108.72,395.83 109.02,397.46 109.32,397.86 109.62,399.02 109.92,397.81 110.22,396.47 110.52,398.97 110.82,397.70 111.12,399.57 111.42,400.03 111.72,400.65 112.02,400.24 112.32,402.26 112.62,401.46 112.92,400.32 113.22,401.10 113.52,399.26 113.82,399.74 114.12,398.92 114.42,400.40 114.72,402.21 115.02,402.77 115.32,402.72 115.62,401.56 115.92,397.55 116.22,393.30 116.52,389.15 116.82,386.38 117.12,380.90 117.42,376.44 117.72,380.66 118.02,385.20 118.32,388.47 118.62,392.77 118.92,392.30 119.22,391.96 119.52,392.83 119.82,395.75 120.12,396.51 120.42,398.28 120.72,399.51 121.02,398.87 121.32,399.48 121.62,399.29 121.92,399.74 122.22,401.68 122.52,400.56 122.82,402.25 123.12,402.44 123.42,401.97 123.72,401.47 124.02,403.50 124.32,402.64 124.62,402.74 124.92,402.95 125.22,405.15 125.52,403.69 125.82,402.00 126.12,399.16 126.42,392.91 126.72,389.93 127.02,386.50 127.32,383.45 127.62,382.22 127.92,378.98 128.22,372.83 128.52,370.52 128.82,366.90 129.12,366.13 129.42,363.97 129.72,361.37 130.02,360.53 130.32,359.36 130.62,360.46 130.92,357.38 131.22,356.33 131.52,351.45 131.82,345.25 132.12,350.32 132.42,351.93 132.72,350.68 133.02,354.03 133.32,352.91 133.62,352.27 133.92,352.80 134.22,355.11 134.52,355.46 134.82,353.50 135.12,351.83 135.42,351.55 135.72,348.84 136.02,344.51 136.32,341.64 136.62,338.52 136.92,339.96 137.22,342.29 137.52,344.67 137.82,346.99 138.12,353.23 138.42,357.19 138.72,363.17 139.02,369.48 139.32,374.47 139.62,378.91 139.92,383.91 140.22,386.24 140.52,385.61 140.82,384.31 141.12,379.48 141.42,376.12 141.72,374.24 142.02,369.40 142.32,367.37 142.62,362.83 142.92,353.99 143.22,344.04 143.52,338.33 143.82,337.66 144.12,339.27 144.42,343.68 144.72,346.06 145.02,347.74 145.32,345.40 145.62,341.98 145.92,340.49 146.22,338.63 146.52,333.97 146.82,338.35 147.12,342.48 147.42,344.81 147.72,348.85 148.02,352.12 148.32,355.14 148.62,356.36 148.92,360.49 149.22,364.58 149.52,366.30 149.82,371.21 150.12,374.24 150.42,380.06 150.72,384.57 151.02,387.59 151.32,388.25 151.62,390.43 151.92,393.73 152.22,393.69 152.52,395.53 152.82,395.66 153.12,393.51 153.42,392.82 153.72,385.85 154.02,380.00 154.32,373.56 154.62,365.63 154.92,360.04 155.22,355.89 155.52,359.23 155.82,363.16 156.12,365.53 156.42,370.44 156.72,373.23 157.02,376.92 157.32,377.93 157.62,380.21 157.92,379.48 158.22,379.32 158.52,378.54 158.82,374.83 159.12,371.24 159.42,366.13 159.72,363.49 160.02,359.04 160.32,362.18 160.62,364.32 160.92,368.61 161.22,371.51 161.52,376.90 161.82,380.50 162.12,381.98 162.42,384.45 162.72,381.77 163.02,379.60 163.32,374.06 163.62,371.18 163.92,367.44 164.22,362.61 164.52,362.81 164.82,360.46 165.12,362.94 165.42,366.02 165.72,361.56 166.02,360.00 166.32,361.45 166.62,363.53 166.92,367.67 167.22,368.76 167.52,372.83 167.82,373.69 168.12,376.92 168.42,381.84 168.72,384.19 169.02,386.02 169.32,388.16 169.62,392.45 169.92,392.91 170.22,394.40 170.52,393.37 170.82,394.76 171.12,392.31 171.42,390.03 171.72,387.26 172.02,385.87 172.32,387.63 172.62,390.12 172.92,391.92 173.22,395.76 173.52,396.52 173.82,398.10 174.12,398.41 174.42,400.42 174.72,399.92 175.02,400.40 175.32,400.65 175.62,401.42 175.92,401.19 176.22,400.66 176.52,399.30 176.82,398.51 177.12,396.92 177.42,398.21 177.72,397.83" fill="none" stroke="#1e1e1e" stroke-width="0.8" stroke-linejoin="round" />
<text x="196.00" y="280.00" font-size="12.5" font-weight="bold" fill="#000" stroke="#000" stroke-width="0.4">i</text>
<line x1="224.20" y1="286.80" x2="224.20" y2="389.40" stroke="#9a9a9a" stroke-width="0.9" />
<line x1="221.00" y1="389.40" x2="224.20" y2="389.40" stroke="#9a9a9a" stroke-width="0.9" />
<text x="217.50" y="392.60" font-size="9.4" fill="#0d0d0d" stroke="#0d0d0d" stroke-width="0.16" text-anchor="end" >0</text>
<line x1="221.00" y1="362.40" x2="224.20" y2="362.40" stroke="#9a9a9a" stroke-width="0.9" />
<text x="217.50" y="365.60" font-size="9.4" fill="#0d0d0d" stroke="#0d0d0d" stroke-width="0.16" text-anchor="end" >1</text>
<line x1="221.00" y1="335.40" x2="224.20" y2="335.40" stroke="#9a9a9a" stroke-width="0.9" />
<text x="217.50" y="338.60" font-size="9.4" fill="#0d0d0d" stroke="#0d0d0d" stroke-width="0.16" text-anchor="end" >2</text>
<line x1="221.00" y1="308.40" x2="224.20" y2="308.40" stroke="#9a9a9a" stroke-width="0.9" />
<text x="217.50" y="311.60" font-size="9.4" fill="#0d0d0d" stroke="#0d0d0d" stroke-width="0.16" text-anchor="end" >3</text>
<line x1="221.00" y1="389.40" x2="314.40" y2="389.40" stroke="#8a8a8a" stroke-width="0.9" />
<line x1="233.50" y1="387.24" x2="233.50" y2="388.32" stroke="#555" stroke-width="0.9" />
<line x1="233.50" y1="391.02" x2="233.50" y2="392.10" stroke="#555" stroke-width="0.9" />
<line x1="231.69" y1="387.24" x2="235.31" y2="387.24" stroke="#555" stroke-width="0.9" />
<line x1="231.69" y1="392.10" x2="235.31" y2="392.10" stroke="#555" stroke-width="0.9" />
<rect x="230.20" y="388.32" width="6.60" height="2.70" fill="#8a8a8a" stroke="#555" stroke-width="0.9" />
<line x1="230.20" y1="389.40" x2="236.80" y2="389.40" stroke="#555" stroke-width="0.9" />
<line x1="250.90" y1="384.00" x2="250.90" y2="388.59" stroke="#555" stroke-width="0.9" />
<line x1="250.90" y1="392.64" x2="250.90" y2="394.80" stroke="#555" stroke-width="0.9" />
<line x1="247.66" y1="384.00" x2="254.15" y2="384.00" stroke="#555" stroke-width="0.9" />
<line x1="247.66" y1="394.80" x2="254.15" y2="394.80" stroke="#555" stroke-width="0.9" />
<rect x="245.00" y="388.59" width="11.80" height="4.05" fill="#8a8a8a" stroke="#555" stroke-width="0.9" />
<line x1="245.00" y1="390.21" x2="256.80" y2="390.21" stroke="#555" stroke-width="0.9" />
<line x1="267.55" y1="301.65" x2="267.55" y2="327.30" stroke="#3c3c3c" stroke-width="0.9" />
<line x1="267.55" y1="366.45" x2="267.55" y2="367.80" stroke="#3c3c3c" stroke-width="0.9" />
<line x1="264.22" y1="301.65" x2="270.88" y2="301.65" stroke="#3c3c3c" stroke-width="0.9" />
<line x1="264.22" y1="367.80" x2="270.88" y2="367.80" stroke="#3c3c3c" stroke-width="0.9" />
<rect x="261.50" y="327.30" width="12.10" height="39.15" fill="#aee0dc" stroke="#3c3c3c" stroke-width="0.9" />
<line x1="261.50" y1="348.36" x2="273.60" y2="348.36" stroke="#3c3c3c" stroke-width="0.9" />
<line x1="285.20" y1="319.20" x2="285.20" y2="328.92" stroke="#3c3c3c" stroke-width="0.9" />
<line x1="285.20" y1="366.99" x2="285.20" y2="369.96" stroke="#3c3c3c" stroke-width="0.9" />
<line x1="281.90" y1="319.20" x2="288.50" y2="319.20" stroke="#3c3c3c" stroke-width="0.9" />
<line x1="281.90" y1="369.96" x2="288.50" y2="369.96" stroke="#3c3c3c" stroke-width="0.9" />
<rect x="279.20" y="328.92" width="12.00" height="38.07" fill="#b8dc9c" stroke="#3c3c3c" stroke-width="0.9" />
<line x1="279.20" y1="358.35" x2="291.20" y2="358.35" stroke="#3c3c3c" stroke-width="0.9" />
<line x1="302.50" y1="300.30" x2="302.50" y2="312.45" stroke="#3c3c3c" stroke-width="0.9" />
<line x1="302.50" y1="367.80" x2="302.50" y2="374.01" stroke="#3c3c3c" stroke-width="0.9" />
<line x1="299.14" y1="300.30" x2="305.86" y2="300.30" stroke="#3c3c3c" stroke-width="0.9" />
<line x1="299.14" y1="374.01" x2="305.86" y2="374.01" stroke="#3c3c3c" stroke-width="0.9" />
<rect x="296.40" y="312.45" width="12.20" height="55.35" fill="#e6c4f5" stroke="#3c3c3c" stroke-width="0.9" />
<line x1="296.40" y1="339.18" x2="308.60" y2="339.18" stroke="#3c3c3c" stroke-width="0.9" />
<polyline points="233.50,389.40 250.90,388.05 267.50,301.65 285.20,319.20 302.50,300.30" fill="none" stroke="#777" stroke-width="0.55" stroke-linejoin="round" />
<polyline points="233.50,389.40 250.90,384.00 267.50,336.21 285.20,352.95 302.50,320.55" fill="none" stroke="#777" stroke-width="0.55" stroke-linejoin="round" />
<polyline points="233.50,388.05 250.90,390.75 267.50,336.21 285.20,331.62 302.50,316.50" fill="none" stroke="#777" stroke-width="0.55" stroke-linejoin="round" />
<polyline points="233.50,390.75 250.90,392.10 267.50,361.05 285.20,363.75 302.50,358.35" fill="none" stroke="#777" stroke-width="0.55" stroke-linejoin="round" />
<polyline points="233.50,389.40 250.90,389.40 267.50,366.45 285.20,366.45 302.50,366.45" fill="none" stroke="#777" stroke-width="0.55" stroke-linejoin="round" />
<polyline points="233.50,388.86 250.90,392.64 267.50,367.26 285.20,369.96 302.50,374.01" fill="none" stroke="#777" stroke-width="0.55" stroke-linejoin="round" />
<circle cx="233.50" cy="389.40" r="1.40" fill="#4a4a4a" />
<circle cx="250.90" cy="388.05" r="1.40" fill="#4a4a4a" />
<circle cx="267.50" cy="301.65" r="1.40" fill="#4a4a4a" />
<circle cx="285.20" cy="319.20" r="1.40" fill="#4a4a4a" />
<circle cx="302.50" cy="300.30" r="1.40" fill="#4a4a4a" />
<circle cx="233.50" cy="389.40" r="1.40" fill="#4a4a4a" />
<circle cx="250.90" cy="384.00" r="1.40" fill="#4a4a4a" />
<circle cx="267.50" cy="336.21" r="1.40" fill="#4a4a4a" />
<circle cx="285.20" cy="352.95" r="1.40" fill="#4a4a4a" />
<circle cx="302.50" cy="320.55" r="1.40" fill="#4a4a4a" />
<circle cx="233.50" cy="388.05" r="1.40" fill="#4a4a4a" />
<circle cx="250.90" cy="390.75" r="1.40" fill="#4a4a4a" />
<circle cx="267.50" cy="336.21" r="1.40" fill="#4a4a4a" />
<circle cx="285.20" cy="331.62" r="1.40" fill="#4a4a4a" />
<circle cx="302.50" cy="316.50" r="1.40" fill="#4a4a4a" />
<circle cx="233.50" cy="390.75" r="1.40" fill="#4a4a4a" />
<circle cx="250.90" cy="392.10" r="1.40" fill="#4a4a4a" />
<circle cx="267.50" cy="361.05" r="1.40" fill="#4a4a4a" />
<circle cx="285.20" cy="363.75" r="1.40" fill="#4a4a4a" />
<circle cx="302.50" cy="358.35" r="1.40" fill="#4a4a4a" />
<circle cx="233.50" cy="389.40" r="1.40" fill="#4a4a4a" />
<circle cx="250.90" cy="389.40" r="1.40" fill="#4a4a4a" />
<circle cx="267.50" cy="366.45" r="1.40" fill="#4a4a4a" />
<circle cx="285.20" cy="366.45" r="1.40" fill="#4a4a4a" />
<circle cx="302.50" cy="366.45" r="1.40" fill="#4a4a4a" />
<circle cx="233.50" cy="388.86" r="1.40" fill="#4a4a4a" />
<circle cx="250.90" cy="392.64" r="1.40" fill="#4a4a4a" />
<circle cx="267.50" cy="367.26" r="1.40" fill="#4a4a4a" />
<circle cx="285.20" cy="369.96" r="1.40" fill="#4a4a4a" />
<circle cx="302.50" cy="374.01" r="1.40" fill="#4a4a4a" />
<text x="285.40" y="292.20" font-size="9.5" fill="#0d0d0d" stroke="#0d0d0d" stroke-width="0.16" text-anchor="middle" >NS</text>
<line x1="267.10" y1="294.40" x2="305.10" y2="294.40" stroke="#6a6a6a" stroke-width="0.9" />
<text transform="translate(203.10,339.00) rotate(-90)" font-size="8.5" fill="#0d0d0d" stroke="#0d0d0d" stroke-width="0.16" text-anchor="middle" >&#916;<tspan font-style="italic">F</tspan>/<tspan font-style="italic">F</tspan> (<tspan font-style="italic">z</tspan>)</text>
<text transform="translate(236.40,400.60) rotate(-45)" font-size="9.5" fill="#0d0d0d" stroke="#0d0d0d" stroke-width="0.16" text-anchor="end" >Pre</text>
<text transform="translate(254.60,400.60) rotate(-45)" font-size="9.5" fill="#0d0d0d" stroke="#0d0d0d" stroke-width="0.16" text-anchor="end" >Approach</text>
<text transform="translate(268.80,400.60) rotate(-45)" font-size="9.5" fill="#0d0d0d" stroke="#0d0d0d" stroke-width="0.16" text-anchor="end" >Contact</text>
<text transform="translate(286.00,400.60) rotate(-45)" font-size="9.5" fill="#0d0d0d" stroke="#0d0d0d" stroke-width="0.16" text-anchor="end" >Sniff</text>
<text transform="translate(306.00,400.60) rotate(-45)" font-size="9.5" fill="#0d0d0d" stroke="#0d0d0d" stroke-width="0.16" text-anchor="end" >Mount</text>
<text x="330.30" y="280.00" font-size="12.5" font-weight="bold" fill="#000" stroke="#000" stroke-width="0.4">j</text>
<text x="353.60" y="291.60" font-size="9.5" fill="#0d0d0d" stroke="#0d0d0d" stroke-width="0.16" text-anchor="middle" >Targets:</text>
<g transform="translate(338.80,299.40) scale(1.000,1.000)"><path d="M0,13.7 C0,8 5,1.5 11,0.9 C14,0.6 17,1 19,0.8 C21,0.3 23,0.6 24.5,1.6 C27,3 29,3.8 31.2,4.4 C31,6 31,7 30.5,7.9 C28,8 25,8.5 22.5,10.2 C21.5,11 21.8,12.5 21.3,13.1 C18,14.5 10,15.6 6,15.5 C3,15.4 1,14.7 0,13.7 Z" fill="#fff" stroke="#2a2a2a" stroke-width="0.75" stroke-linejoin="round"/><ellipse cx="20.4" cy="2.4" rx="2.7" ry="3.0" fill="#9a7b7b"/><ellipse cx="1.6" cy="13.9" rx="1.7" ry="1.4" fill="#9a7b7b"/><ellipse cx="21.5" cy="13.6" rx="1.6" ry="0.9" fill="#9a7b7b" opacity="0.8"/><ellipse cx="12" cy="15.2" rx="4" ry="0.6" fill="#9a7b7b" opacity="0.6"/><circle cx="25.2" cy="5.0" r="0.55" fill="#222"/><path d="M30.2,3.2 L31.6,4.6 L30.4,6.2" fill="none" stroke="#888" stroke-width="0.50"/><circle cx="11.1" cy="5.8" r="2.4" fill="none" stroke="#222" stroke-width="1.0"/><line x1="11.1" y1="8.2" x2="11.1" y2="11.399999999999999" stroke="#222" stroke-width="1.0"/><line x1="9.5" y1="9.899999999999999" x2="12.7" y2="9.899999999999999" stroke="#222" stroke-width="1.0"/></g>
<text x="352.80" y="326.20" font-size="9.5" fill="#0d0d0d" stroke="#0d0d0d" stroke-width="0.16" text-anchor="middle" >Female</text>
<ellipse cx="353.5" cy="360.8" rx="18.4" ry="2.3" fill="#fff" stroke="#333" stroke-width="0.7"/>
<g transform="translate(339.50,344.60) scale(0.885,0.900)"><path d="M0,13.7 C0,8 5,1.5 11,0.9 C14,0.6 17,1 19,0.8 C21,0.3 23,0.6 24.5,1.6 C27,3 29,3.8 31.2,4.4 C31,6 31,7 30.5,7.9 C28,8 25,8.5 22.5,10.2 C21.5,11 21.8,12.5 21.3,13.1 C18,14.5 10,15.6 6,15.5 C3,15.4 1,14.7 0,13.7 Z" fill="#fff" stroke="#2a2a2a" stroke-width="0.85" stroke-linejoin="round"/><ellipse cx="20.4" cy="2.4" rx="2.7" ry="3.0" fill="#9a7b7b"/><ellipse cx="1.6" cy="13.9" rx="1.7" ry="1.4" fill="#9a7b7b"/><ellipse cx="21.5" cy="13.6" rx="1.6" ry="0.9" fill="#9a7b7b" opacity="0.8"/><ellipse cx="12" cy="15.2" rx="4" ry="0.6" fill="#9a7b7b" opacity="0.6"/><circle cx="25.2" cy="5.0" r="0.55" fill="#222"/><path d="M30.2,3.2 L31.6,4.6 L30.4,6.2" fill="none" stroke="#888" stroke-width="0.56"/><circle cx="11.1" cy="5.8" r="2.4" fill="none" stroke="#222" stroke-width="1.1299435028248588"/><line x1="11.1" y1="8.2" x2="11.1" y2="11.399999999999999" stroke="#222" stroke-width="1.1299435028248588"/><line x1="9.5" y1="9.899999999999999" x2="12.7" y2="9.899999999999999" stroke="#222" stroke-width="1.1299435028248588"/></g>
<ellipse cx="353.5" cy="360.8" rx="18.4" ry="2.3" fill="none" stroke="#333" stroke-width="0.7"/>
<ellipse cx="353.5" cy="361.4" rx="17.6" ry="1.8" fill="none" stroke="#777" stroke-width="0.5"/>
<ellipse cx="353.5" cy="337.0" rx="13.0" ry="1.9" fill="none" stroke="#333" stroke-width="0.7"/>
<ellipse cx="353.5" cy="337.6" rx="12.2" ry="1.4" fill="none" stroke="#777" stroke-width="0.5"/>
<line x1="340.50" y1="337.20" x2="335.10" y2="360.80" stroke="#333" stroke-width="0.7" />
<line x1="341.60" y1="337.40" x2="336.40" y2="360.60" stroke="#888" stroke-width="0.5" />
<line x1="366.50" y1="337.20" x2="371.90" y2="360.80" stroke="#333" stroke-width="0.7" />
<line x1="365.40" y1="337.40" x2="370.60" y2="360.60" stroke="#888" stroke-width="0.5" />
<text x="353.40" y="373.20" font-size="9.5" fill="#0d0d0d" stroke="#0d0d0d" stroke-width="0.16" text-anchor="middle" >Pencil</text>
<text x="353.40" y="381.40" font-size="9.5" fill="#0d0d0d" stroke="#0d0d0d" stroke-width="0.16" text-anchor="middle" >cup</text>
<defs><radialGradient id="ballg" cx="0.45" cy="0.4" r="0.6"><stop offset="0" stop-color="#fde2e5"/><stop offset="0.55" stop-color="#f6aab2"/><stop offset="1" stop-color="#ee8f99"/></radialGradient></defs>
<circle cx="353.40" cy="396.70" r="6.80" fill="url(#ballg)" stroke="#d66f7c" stroke-width="0.7" />
<text x="353.40" y="414.20" font-size="9.5" fill="#0d0d0d" stroke="#0d0d0d" stroke-width="0.16" text-anchor="middle" >Ball</text>
<text x="394.40" y="280.00" font-size="12.5" font-weight="bold" fill="#000" stroke="#000" stroke-width="0.4">k</text>
<line x1="429.40" y1="283.00" x2="429.40" y2="400.80" stroke="#444" stroke-width="0.9" />
<line x1="426.20" y1="393.40" x2="429.40" y2="393.40" stroke="#444" stroke-width="0.9" />
<text x="422.70" y="396.60" font-size="9.4" fill="#0d0d0d" stroke="#0d0d0d" stroke-width="0.16" text-anchor="end" >0</text>
<line x1="426.20" y1="366.05" x2="429.40" y2="366.05" stroke="#444" stroke-width="0.9" />
<text x="422.70" y="369.25" font-size="9.4" fill="#0d0d0d" stroke="#0d0d0d" stroke-width="0.16" text-anchor="end" >0.5</text>
<line x1="426.20" y1="338.70" x2="429.40" y2="338.70" stroke="#444" stroke-width="0.9" />
<text x="422.70" y="341.90" font-size="9.4" fill="#0d0d0d" stroke="#0d0d0d" stroke-width="0.16" text-anchor="end" >1.0</text>
<line x1="426.20" y1="311.35" x2="429.40" y2="311.35" stroke="#444" stroke-width="0.9" />
<text x="422.70" y="314.55" font-size="9.4" fill="#0d0d0d" stroke="#0d0d0d" stroke-width="0.16" text-anchor="end" >1.5</text>
<line x1="426.20" y1="284.00" x2="429.40" y2="284.00" stroke="#444" stroke-width="0.9" />
<text x="422.70" y="287.20" font-size="9.4" fill="#0d0d0d" stroke="#0d0d0d" stroke-width="0.16" text-anchor="end" >2.0</text>
<line x1="429.40" y1="400.80" x2="499.10" y2="400.80" stroke="#444" stroke-width="0.9" />
<line x1="429.00" y1="400.80" x2="429.00" y2="403.40" stroke="#444" stroke-width="0.9" />
<text x="427.50" y="416.40" font-size="9.5" fill="#0d0d0d" stroke="#0d0d0d" stroke-width="0.16" text-anchor="middle" >−2</text>
<line x1="452.20" y1="400.80" x2="452.20" y2="403.40" stroke="#444" stroke-width="0.9" />
<text x="452.20" y="416.40" font-size="9.5" fill="#0d0d0d" stroke="#0d0d0d" stroke-width="0.16" text-anchor="middle" >0</text>
<line x1="475.40" y1="400.80" x2="475.40" y2="403.40" stroke="#444" stroke-width="0.9" />
<text x="475.40" y="416.40" font-size="9.5" fill="#0d0d0d" stroke="#0d0d0d" stroke-width="0.16" text-anchor="middle" >2</text>
<line x1="498.60" y1="400.80" x2="498.60" y2="403.40" stroke="#444" stroke-width="0.9" />
<text x="498.60" y="416.40" font-size="9.5" fill="#0d0d0d" stroke="#0d0d0d" stroke-width="0.16" text-anchor="middle" >4</text>
<text x="464.40" y="430.20" font-size="9.5" fill="#0d0d0d" stroke="#0d0d0d" stroke-width="0.16" text-anchor="middle" >Time (s)</text>
<line x1="429.40" y1="393.40" x2="499.10" y2="393.40" stroke="#777" stroke-width="0.6" stroke-dasharray="2.5,1.5" />
<line x1="452.20" y1="282.00" x2="452.20" y2="400.80" stroke="#555" stroke-width="0.8" stroke-dasharray="1.6,1.0" />
<text transform="translate(447.60,306.20) rotate(-90)" font-size="9.5" fill="#0d0d0d" stroke="#0d0d0d" stroke-width="0.16" text-anchor="middle" >Contact</text>
<polygon points="429.39,388.89 430.19,389.66 430.99,390.71 431.79,389.69 432.59,390.72 433.39,392.91 434.19,392.93 434.99,392.86 435.79,393.25 436.59,393.38 437.39,394.03 438.19,394.44 438.99,393.54 439.79,395.10 440.59,394.94 441.39,395.02 442.19,394.26 442.99,394.38 443.79,395.42 444.59,393.64 445.39,395.34 446.19,393.99 446.99,393.17 447.79,392.26 448.59,391.64 449.39,390.54 450.19,389.63 450.99,387.75 451.79,385.34 452.59,381.58 453.39,374.43 454.19,367.64 454.99,359.53 455.79,354.09 456.59,345.45 457.39,339.42 458.19,332.34 458.99,326.92 459.79,319.50 460.59,313.62 461.39,308.01 462.19,302.51 462.99,298.04 463.79,294.74 464.59,291.15 465.39,290.96 466.19,289.20 466.99,289.54 467.79,291.34 468.59,290.69 469.39,291.28 470.19,291.08 470.99,292.00 471.79,290.77 472.59,290.31 473.39,292.59 474.19,292.36 474.99,292.84 475.79,292.69 476.59,294.96 477.39,295.49 478.19,296.02 478.99,296.33 479.79,294.09 480.59,295.05 481.39,293.44 482.19,293.65 482.99,292.57 483.79,292.39 484.59,292.02 485.39,292.95 486.19,292.27 486.99,291.44 487.79,292.43 488.59,290.75 489.39,291.77 490.19,290.67 490.99,291.76 491.79,291.93 492.59,290.81 493.39,292.24 494.19,290.78 494.99,291.71 495.79,292.85 496.59,291.83 497.39,293.81 498.19,294.29 498.19,321.18 497.39,321.41 496.59,320.06 495.79,320.93 494.99,318.89 494.19,318.53 493.39,319.20 492.59,319.56 491.79,318.29 490.99,318.81 490.19,318.70 489.39,318.34 488.59,319.34 487.79,319.07 486.99,319.23 486.19,320.66 485.39,319.16 484.59,320.20 483.79,320.93 482.99,320.45 482.19,321.00 481.39,321.93 480.59,323.74 479.79,322.18 478.99,324.40 478.19,323.23 477.39,323.11 476.59,321.59 475.79,322.12 474.99,321.24 474.19,319.07 473.39,319.50 472.59,318.46 471.79,319.47 470.99,318.95 470.19,319.23 469.39,319.17 468.59,318.84 467.79,318.09 466.99,319.09 466.19,319.18 465.39,317.87 464.59,319.65 463.79,321.37 462.99,325.48 462.19,331.70 461.39,336.09 460.59,338.13 459.79,341.16 458.99,345.56 458.19,351.69 457.39,354.61 456.59,360.56 455.79,365.42 454.99,367.59 454.19,373.21 453.39,377.01 452.59,383.18 451.79,387.99 450.99,388.93 450.19,392.35 449.39,393.53 448.59,394.81 447.79,395.22 446.99,395.28 446.19,395.61 445.39,396.46 444.59,396.23 443.79,395.94 442.99,397.96 442.19,397.63 441.39,397.92 440.59,397.73 439.79,396.55 438.99,395.29 438.19,396.44 437.39,394.97 436.59,396.30 435.79,396.21 434.99,394.08 434.19,394.47 433.39,394.05 432.59,393.06 431.79,394.07 430.99,391.77 430.19,392.62 429.39,392.03" fill="#c3e8e9" opacity="1.0"/>
<polygon points="429.39,389.35 430.19,390.44 430.99,390.41 431.79,390.91 432.59,391.83 433.39,391.33 434.19,392.63 434.99,392.60 435.79,393.52 436.59,393.76 437.39,393.88 438.19,393.50 438.99,393.44 439.79,393.80 440.59,394.02 441.39,394.12 442.19,394.14 442.99,394.11 443.79,393.23 444.59,393.39 445.39,393.61 446.19,392.88 446.99,392.60 447.79,391.76 448.59,391.51 449.39,390.90 450.19,390.34 450.99,388.64 451.79,388.06 452.59,386.46 453.39,383.22 454.19,380.79 454.99,379.19 455.79,377.74 456.59,376.49 457.39,374.17 458.19,372.73 458.99,372.25 459.79,370.03 460.59,368.92 461.39,368.30 462.19,368.34 462.99,367.74 463.79,367.48 464.59,367.87 465.39,367.40 466.19,368.09 466.99,368.90 467.79,369.32 468.59,369.35 469.39,369.82 470.19,370.14 470.99,370.58 471.79,371.06 472.59,370.99 473.39,372.00 474.19,373.31 474.99,374.07 475.79,374.24 476.59,374.90 477.39,375.85 478.19,376.18 478.99,376.32 479.79,375.89 480.59,375.99 481.39,376.96 482.19,376.48 482.99,377.47 483.79,376.81 484.59,377.11 485.39,377.72 486.19,378.00 486.99,377.85 487.79,377.82 488.59,377.77 489.39,377.80 490.19,377.11 490.99,377.61 491.79,377.29 492.59,377.30 493.39,377.71 494.19,377.19 494.99,377.04 495.79,376.64 496.59,377.40 497.39,377.04 498.19,376.85 498.19,381.31 497.39,380.85 496.59,381.24 495.79,381.46 494.99,381.51 494.19,381.62 493.39,381.75 492.59,382.07 491.79,381.63 490.99,382.28 490.19,381.77 489.39,382.39 488.59,381.56 487.79,381.96 486.99,381.49 486.19,382.03 485.39,382.29 484.59,382.23 483.79,382.03 482.99,381.16 482.19,380.88 481.39,380.63 480.59,380.53 479.79,380.77 478.99,380.55 478.19,380.45 477.39,380.47 476.59,379.99 475.79,378.84 474.99,378.37 474.19,377.15 473.39,376.85 472.59,375.74 471.79,375.62 470.99,374.77 470.19,374.81 469.39,374.42 468.59,373.69 467.79,373.54 466.99,372.90 466.19,372.72 465.39,371.90 464.59,371.93 463.79,372.31 462.99,372.28 462.19,372.51 461.39,373.00 460.59,373.32 459.79,374.84 458.99,376.53 458.19,377.08 457.39,378.64 456.59,380.12 455.79,382.19 454.99,383.85 454.19,385.42 453.39,387.85 452.59,387.64 451.79,389.94 450.99,391.26 450.19,392.62 449.39,392.75 448.59,393.81 447.79,394.37 446.99,394.33 446.19,395.41 445.39,395.47 444.59,395.51 443.79,395.96 442.99,395.79 442.19,396.11 441.39,395.91 440.59,395.26 439.79,395.50 438.99,395.28 438.19,395.55 437.39,395.73 436.59,395.85 435.79,394.81 434.99,395.12 434.19,394.74 433.39,394.27 432.59,393.06 431.79,392.90 430.99,392.48 430.19,391.92 429.39,391.52" fill="#d4d4d4" opacity="0.8"/>
<polygon points="429.39,390.89 430.19,390.91 430.99,391.54 431.79,390.95 432.59,391.98 433.39,391.72 434.19,391.67 434.99,391.89 435.79,392.22 436.59,392.81 437.39,392.56 438.19,392.78 438.99,393.05 439.79,392.79 440.59,393.15 441.39,392.94 442.19,393.19 442.99,393.11 443.79,393.55 444.59,393.64 445.39,393.86 446.19,393.20 446.99,393.25 447.79,392.81 448.59,392.23 449.39,391.67 450.19,391.47 450.99,390.32 451.79,388.32 452.59,386.92 453.39,384.45 454.19,382.31 454.99,380.83 455.79,379.64 456.59,377.41 457.39,376.00 458.19,374.87 458.99,373.23 459.79,372.60 460.59,371.30 461.39,371.86 462.19,371.85 462.99,371.98 463.79,372.22 464.59,373.41 465.39,373.97 466.19,374.40 466.99,374.52 467.79,375.48 468.59,375.69 469.39,376.86 470.19,376.84 470.99,377.20 471.79,377.82 472.59,378.07 473.39,378.55 474.19,378.48 474.99,379.36 475.79,380.03 476.59,379.83 477.39,380.63 478.19,381.28 478.99,381.54 479.79,381.90 480.59,383.19 481.39,383.64 482.19,383.57 482.99,384.57 483.79,384.60 484.59,385.27 485.39,385.10 486.19,385.51 486.99,385.52 487.79,385.48 488.59,385.66 489.39,386.41 490.19,385.81 490.99,386.04 491.79,386.44 492.59,386.22 493.39,386.17 494.19,386.50 494.99,386.37 495.79,387.15 496.59,387.37 497.39,387.01 498.19,385.81 498.19,391.04 497.39,391.64 496.59,392.66 495.79,391.60 494.99,391.62 494.19,391.74 493.39,391.16 492.59,390.97 491.79,391.58 490.99,391.57 490.19,391.02 489.39,391.56 488.59,390.88 487.79,390.84 486.99,391.21 486.19,390.94 485.39,390.37 484.59,390.05 483.79,389.55 482.99,388.94 482.19,388.88 481.39,388.46 480.59,388.18 479.79,387.75 478.99,386.61 478.19,386.29 477.39,385.79 476.59,385.42 475.79,384.44 474.99,384.03 474.19,384.39 473.39,383.73 472.59,382.88 471.79,382.98 470.99,382.25 470.19,381.62 469.39,381.78 468.59,381.38 467.79,380.83 466.99,380.10 466.19,379.58 465.39,378.60 464.59,377.80 463.79,378.19 462.99,377.57 462.19,376.62 461.39,376.50 460.59,376.88 459.79,377.85 458.99,378.76 458.19,380.17 457.39,381.27 456.59,383.35 455.79,384.20 454.99,386.14 454.19,388.12 453.39,389.69 452.59,389.44 451.79,390.39 450.99,391.71 450.19,393.76 449.39,394.16 448.59,393.99 447.79,395.04 446.99,394.80 446.19,395.44 445.39,395.59 444.59,396.00 443.79,395.67 442.99,395.96 442.19,395.64 441.39,395.13 440.59,395.05 439.79,394.59 438.99,394.74 438.19,395.22 437.39,394.97 436.59,395.07 435.79,394.14 434.99,394.28 434.19,393.75 433.39,393.99 432.59,393.58 431.79,393.60 430.99,392.79 430.19,393.07 429.39,392.74" fill="#e0e0e0" opacity="0.8"/>
<polyline points="429.39,392.12 429.89,393.28 430.39,392.54 430.89,391.51 431.39,393.33 431.89,392.33 432.39,392.81 432.89,393.32 433.39,391.28 433.89,393.72 434.39,393.52 434.89,393.14 435.39,393.37 435.89,393.31 436.39,392.64 436.89,393.78 437.39,392.38 437.89,393.83 438.39,394.33 438.89,393.79 439.39,394.22 439.89,395.46 440.39,395.32 440.89,393.11 441.39,395.15 441.89,394.70 442.39,393.04 442.89,394.04 443.39,393.72 443.89,393.31 444.39,394.76 444.89,396.00 445.39,394.01 445.89,395.45 446.39,394.72 446.89,392.84 447.39,394.81 447.89,393.84 448.39,394.62 448.89,393.79 449.39,393.66 449.89,392.27 450.39,392.89 450.89,392.43 451.39,391.38 451.89,389.28 452.39,389.39 452.89,387.61 453.39,385.52 453.89,384.36 454.39,383.51 454.89,382.91 455.39,381.80 455.89,381.80 456.39,381.41 456.89,379.93 457.39,378.58 457.89,378.26 458.39,376.54 458.89,376.35 459.39,376.57 459.89,374.83 460.39,373.50 460.89,374.99 461.39,374.66 461.89,373.86 462.39,374.12 462.89,374.84 463.39,375.29 463.89,374.43 464.39,374.01 464.89,374.88 465.39,376.98 465.89,375.43 466.39,376.76 466.89,376.34 467.39,376.76 467.89,377.01 468.39,378.09 468.89,377.76 469.39,377.58 469.89,378.08 470.39,378.51 470.89,379.72 471.39,378.68 471.89,378.82 472.39,380.35 472.89,380.48 473.39,381.61 473.89,379.91 474.39,381.21 474.89,381.44 475.39,380.58 475.89,383.65 476.39,381.66 476.89,381.54 477.39,383.06 477.89,382.50 478.39,384.25 478.89,383.80 479.39,383.50 479.89,383.66 480.39,386.07 480.89,385.08 481.39,386.86 481.89,386.15 482.39,387.80 482.89,386.15 483.39,386.25 483.89,386.55 484.39,388.44 484.89,388.13 485.39,387.40 485.89,386.77 486.39,388.66 486.89,389.65 487.39,388.64 487.89,387.00 488.39,387.21 488.89,387.50 489.39,387.74 489.89,387.34 490.39,387.39 490.89,389.19 491.39,389.93 491.89,387.83 492.39,390.15 492.89,388.67 493.39,389.78 493.89,390.24 494.39,390.44 494.89,387.85 495.39,388.78 495.89,389.81 496.39,390.96 496.89,388.42 497.39,388.54 497.89,389.71 498.39,387.00" fill="none" stroke="#8a8a8a" stroke-width="0.8" stroke-linejoin="round" />
<polyline points="429.39,390.41 429.89,390.52 430.39,391.75 430.89,392.71 431.39,390.86 431.89,392.71 432.39,392.96 432.89,393.51 433.39,392.98 433.89,394.28 434.39,392.97 434.89,393.38 435.39,393.12 435.89,394.93 436.39,394.35 436.89,394.03 437.39,393.79 437.89,395.33 438.39,395.01 438.89,395.30 439.39,394.40 439.89,394.68 440.39,393.74 440.89,395.30 441.39,393.38 441.89,394.62 442.39,395.44 442.89,395.21 443.39,393.59 443.89,393.98 444.39,395.68 444.89,395.11 445.39,395.51 445.89,395.19 446.39,393.71 446.89,394.66 447.39,393.90 447.89,392.48 448.39,392.29 448.89,391.15 449.39,391.77 449.89,393.03 450.39,389.86 450.89,390.33 451.39,388.21 451.89,387.29 452.39,388.02 452.89,385.72 453.39,384.03 453.89,383.16 454.39,383.39 454.89,382.07 455.39,379.45 455.89,379.06 456.39,380.13 456.89,377.03 457.39,376.99 457.89,375.59 458.39,375.76 458.89,374.43 459.39,374.12 459.89,372.57 460.39,370.77 460.89,369.91 461.39,369.47 461.89,371.44 462.39,369.32 462.89,368.95 463.39,371.46 463.89,369.19 464.39,371.00 464.89,368.62 465.39,369.92 465.89,369.49 466.39,371.44 466.89,371.09 467.39,371.42 467.89,372.00 468.39,372.56 468.89,371.34 469.39,372.31 469.89,372.12 470.39,371.43 470.89,373.71 471.39,373.28 471.89,374.15 472.39,372.70 472.89,373.88 473.39,374.17 473.89,375.41 474.39,374.09 474.89,375.34 475.39,376.23 475.89,375.57 476.39,377.42 476.89,378.42 477.39,377.67 477.89,378.43 478.39,378.43 478.89,377.46 479.39,377.97 479.89,379.90 480.39,378.17 480.89,378.57 481.39,377.72 481.89,378.22 482.39,378.20 482.89,380.47 483.39,380.02 483.89,380.56 484.39,381.00 484.89,380.06 485.39,380.96 485.89,379.85 486.39,379.52 486.89,381.01 487.39,380.88 487.89,381.01 488.39,379.71 488.89,380.52 489.39,379.49 489.89,381.14 490.39,380.93 490.89,379.17 491.39,380.97 491.89,378.87 492.39,378.62 492.89,380.36 493.39,379.08 493.89,379.63 494.39,379.88 494.89,378.12 495.39,380.01 495.89,378.61 496.39,378.97 496.89,378.64 497.39,379.67 497.89,379.60 498.39,378.23" fill="none" stroke="#1a1a1a" stroke-width="0.8" stroke-linejoin="round" />
<polyline points="429.39,389.61 429.89,390.44 430.39,391.03 430.89,390.37 431.39,390.86 431.89,392.85 432.39,392.95 432.89,394.00 433.39,394.27 433.89,394.23 434.39,393.07 434.89,392.72 435.39,393.40 435.89,394.07 436.39,394.50 436.89,394.79 437.39,394.43 437.89,395.93 438.39,394.47 438.89,395.09 439.39,396.40 439.89,396.30 440.39,395.00 440.89,394.97 441.39,396.57 441.89,394.34 442.39,394.68 442.89,395.80 443.39,395.81 443.89,394.77 444.39,394.45 444.89,394.88 445.39,396.17 445.89,394.99 446.39,396.09 446.89,395.22 447.39,395.43 447.89,392.45 448.39,392.09 448.89,390.78 449.39,391.12 449.89,390.02 450.39,388.38 450.89,388.93 451.39,385.97 451.89,384.79 452.39,382.60 452.89,380.41 453.39,375.58 453.89,371.39 454.39,367.26 454.89,364.84 455.39,361.90 455.89,358.53 456.39,355.70 456.89,351.91 457.39,346.83 457.89,343.02 458.39,341.26 458.89,337.85 459.39,333.57 459.89,330.97 460.39,327.16 460.89,323.40 461.39,320.09 461.89,316.67 462.39,315.90 462.89,314.11 463.39,311.64 463.89,307.91 464.39,306.93 464.89,306.17 465.39,305.57 465.89,304.73 466.39,303.95 466.89,303.99 467.39,303.27 467.89,303.55 468.39,305.20 468.89,306.31 469.39,305.07 469.89,304.68 470.39,304.52 470.89,304.81 471.39,305.79 471.89,304.80 472.39,306.22 472.89,303.98 473.39,304.93 473.89,306.01 474.39,306.20 474.89,307.93 475.39,308.36 475.89,309.15 476.39,308.76 476.89,307.62 477.39,309.40 477.89,309.58 478.39,309.65 478.89,309.29 479.39,310.12 479.89,310.31 480.39,307.67 480.89,308.88 481.39,307.67 481.89,307.70 482.39,308.39 482.89,308.21 483.39,307.20 483.89,305.82 484.39,307.73 484.89,305.53 485.39,305.97 485.89,307.09 486.39,305.53 486.89,305.28 487.39,307.06 487.89,306.92 488.39,305.04 488.89,305.12 489.39,304.69 489.89,304.14 490.39,304.35 490.89,306.29 491.39,303.84 491.89,304.34 492.39,304.33 492.89,304.07 493.39,305.39 493.89,306.08 494.39,306.42 494.89,305.94 495.39,306.76 495.89,304.79 496.39,305.86 496.89,308.07 497.39,305.87 497.89,306.72 498.39,307.63" fill="none" stroke="#1a9aa8" stroke-width="0.85" stroke-linejoin="round" />
<line x1="469.80" y1="332.40" x2="475.40" y2="332.40" stroke="#1a9aa8" stroke-width="1.2" />
<text x="479.60" y="335.20" font-size="9.5" fill="#0d0d0d" stroke="#0d0d0d" stroke-width="0.16" >Female</text>
<line x1="469.80" y1="344.40" x2="475.40" y2="344.40" stroke="#1a1a1a" stroke-width="1.2" />
<text x="479.60" y="346.60" font-size="9.5" fill="#0d0d0d" stroke="#0d0d0d" stroke-width="0.16" >Pencil</text>
<text x="479.60" y="353.20" font-size="9.5" fill="#0d0d0d" stroke="#0d0d0d" stroke-width="0.16" >cup</text>
<line x1="469.80" y1="362.00" x2="475.40" y2="362.00" stroke="#8a8a8a" stroke-width="1.2" />
<text x="479.60" y="364.60" font-size="9.5" fill="#0d0d0d" stroke="#0d0d0d" stroke-width="0.16" >Ball</text>
<text transform="translate(403.00,341.80) rotate(-90)" font-size="8.5" fill="#0d0d0d" stroke="#0d0d0d" stroke-width="0.16" text-anchor="middle" >&#916;<tspan font-style="italic">F</tspan>/<tspan font-style="italic">F</tspan> (<tspan font-style="italic">z</tspan>)</text>
<text x="2.00" y="453.30" font-size="12.5" font-weight="bold" fill="#000" stroke="#000" stroke-width="0.4">l</text>
<line x1="41.10" y1="476.40" x2="41.10" y2="572.60" stroke="#6a6a6a" stroke-width="0.9" />
<line x1="37.90" y1="556.20" x2="41.10" y2="556.20" stroke="#6a6a6a" stroke-width="0.9" />
<text x="33.00" y="559.40" font-size="9.4" fill="#0d0d0d" stroke="#0d0d0d" stroke-width="0.16" text-anchor="end" >0</text>
<line x1="37.90" y1="532.80" x2="41.10" y2="532.80" stroke="#6a6a6a" stroke-width="0.9" />
<text x="33.00" y="536.00" font-size="9.4" fill="#0d0d0d" stroke="#0d0d0d" stroke-width="0.16" text-anchor="end" >0.2</text>
<line x1="37.90" y1="509.40" x2="41.10" y2="509.40" stroke="#6a6a6a" stroke-width="0.9" />
<text x="33.00" y="512.60" font-size="9.4" fill="#0d0d0d" stroke="#0d0d0d" stroke-width="0.16" text-anchor="end" >0.4</text>
<line x1="37.90" y1="486.00" x2="41.10" y2="486.00" stroke="#6a6a6a" stroke-width="0.9" />
<text x="33.00" y="489.20" font-size="9.4" fill="#0d0d0d" stroke="#0d0d0d" stroke-width="0.16" text-anchor="end" >0.6</text>
<line x1="41.10" y1="572.60" x2="85.00" y2="572.60" stroke="#6a6a6a" stroke-width="0.9" />
<line x1="41.10" y1="556.20" x2="85.00" y2="556.20" stroke="#888" stroke-width="0.6" stroke-dasharray="2.5,1.5" />
<line x1="53.95" y1="488.34" x2="53.95" y2="494.19" stroke="#3c3c3c" stroke-width="0.9" />
<line x1="53.95" y1="529.29" x2="53.95" y2="531.63" stroke="#3c3c3c" stroke-width="0.9" />
<line x1="50.51" y1="488.34" x2="57.39" y2="488.34" stroke="#3c3c3c" stroke-width="0.9" />
<line x1="50.51" y1="531.63" x2="57.39" y2="531.63" stroke="#3c3c3c" stroke-width="0.9" />
<rect x="47.70" y="494.19" width="12.50" height="35.10" fill="#fff" stroke="#3c3c3c" stroke-width="0.9" />
<line x1="47.70" y1="505.89" x2="60.20" y2="505.89" stroke="#3c3c3c" stroke-width="0.9" />
<circle cx="53.95" cy="488.34" r="1.35" fill="#4a4a4a" />
<circle cx="53.95" cy="491.85" r="1.35" fill="#4a4a4a" />
<circle cx="53.95" cy="501.21" r="1.35" fill="#4a4a4a" />
<circle cx="53.95" cy="509.40" r="1.35" fill="#4a4a4a" />
<circle cx="52.45" cy="531.63" r="1.35" fill="#4a4a4a" />
<circle cx="55.45" cy="531.05" r="1.35" fill="#4a4a4a" />
<line x1="69.15" y1="538.65" x2="69.15" y2="543.33" stroke="#3c3c3c" stroke-width="0.9" />
<line x1="69.15" y1="558.54" x2="69.15" y2="569.07" stroke="#3c3c3c" stroke-width="0.9" />
<line x1="65.88" y1="538.65" x2="72.42" y2="538.65" stroke="#3c3c3c" stroke-width="0.9" />
<line x1="65.88" y1="569.07" x2="72.42" y2="569.07" stroke="#3c3c3c" stroke-width="0.9" />
<rect x="63.20" y="543.33" width="11.90" height="15.21" fill="#fff" stroke="#3c3c3c" stroke-width="0.9" />
<circle cx="69.15" cy="538.65" r="1.35" fill="#4a4a4a" />
<circle cx="67.15" cy="546.25" r="1.35" fill="#4a4a4a" />
<circle cx="71.15" cy="546.25" r="1.35" fill="#4a4a4a" />
<circle cx="71.65" cy="551.52" r="1.35" fill="#4a4a4a" />
<circle cx="69.15" cy="569.07" r="1.35" fill="#4a4a4a" />
<polygon points="59.70,476.20 60.23,477.47 61.60,477.58 60.56,478.48 60.88,479.82 59.70,479.10 58.52,479.82 58.84,478.48 57.80,477.58 59.17,477.47" fill="#1a1a1a" />
<polygon points="64.60,476.20 65.13,477.47 66.50,477.58 65.46,478.48 65.78,479.82 64.60,479.10 63.42,479.82 63.74,478.48 62.70,477.58 64.07,477.47" fill="#1a1a1a" />
<line x1="54.00" y1="482.50" x2="70.40" y2="482.50" stroke="#222" stroke-width="1.0" />
<text transform="translate(10.20,524.60) rotate(-90)" font-size="8.5" fill="#0d0d0d" stroke="#0d0d0d" stroke-width="0.16" text-anchor="middle" >&#916;<tspan font-style="italic">F</tspan>/<tspan font-style="italic">F</tspan> (<tspan font-style="italic">z</tspan>)</text>
<text transform="translate(54.80,581.00) rotate(-45)" font-size="9.5" fill="#0d0d0d" stroke="#0d0d0d" stroke-width="0.16" text-anchor="end" >Face</text>
<text transform="translate(73.20,581.40) rotate(-45)" font-size="9.5" fill="#0d0d0d" stroke="#0d0d0d" stroke-width="0.16" text-anchor="end" >Back</text>
<text x="58.10" y="607.60" font-size="9.5" fill="#0d0d0d" stroke="#0d0d0d" stroke-width="0.16" text-anchor="middle" >Location of</text>
<text x="58.10" y="619.50" font-size="9.5" fill="#0d0d0d" stroke="#0d0d0d" stroke-width="0.16" text-anchor="middle" >object contact</text>
<text x="106.60" y="453.30" font-size="12.5" font-weight="bold" fill="#000" stroke="#000" stroke-width="0.4">m</text>
<line x1="138.20" y1="469.80" x2="138.20" y2="572.70" stroke="#6a6a6a" stroke-width="0.9" />
<line x1="135.00" y1="559.30" x2="138.20" y2="559.30" stroke="#6a6a6a" stroke-width="0.9" />
<text x="130.30" y="562.50" font-size="9.4" fill="#0d0d0d" stroke="#0d0d0d" stroke-width="0.16" text-anchor="end" >0</text>
<line x1="135.00" y1="536.90" x2="138.20" y2="536.90" stroke="#6a6a6a" stroke-width="0.9" />
<text x="130.30" y="540.10" font-size="9.4" fill="#0d0d0d" stroke="#0d0d0d" stroke-width="0.16" text-anchor="end" >1</text>
<line x1="135.00" y1="514.50" x2="138.20" y2="514.50" stroke="#6a6a6a" stroke-width="0.9" />
<text x="130.30" y="517.70" font-size="9.4" fill="#0d0d0d" stroke="#0d0d0d" stroke-width="0.16" text-anchor="end" >2</text>
<line x1="135.00" y1="492.10" x2="138.20" y2="492.10" stroke="#6a6a6a" stroke-width="0.9" />
<text x="130.30" y="495.30" font-size="9.4" fill="#0d0d0d" stroke="#0d0d0d" stroke-width="0.16" text-anchor="end" >3</text>
<line x1="135.00" y1="469.70" x2="138.20" y2="469.70" stroke="#6a6a6a" stroke-width="0.9" />
<text x="130.30" y="472.90" font-size="9.4" fill="#0d0d0d" stroke="#0d0d0d" stroke-width="0.16" text-anchor="end" >4</text>
<line x1="135.00" y1="572.70" x2="216.30" y2="572.70" stroke="#a8a8a8" stroke-width="1.2" />
<line x1="138.20" y1="559.30" x2="216.30" y2="559.30" stroke="#333" stroke-width="0.7" stroke-dasharray="1.2,1.0" />
<line x1="147.10" y1="557.96" x2="147.10" y2="558.40" stroke="#555" stroke-width="0.9" />
<line x1="147.10" y1="559.75" x2="147.10" y2="559.97" stroke="#555" stroke-width="0.9" />
<line x1="145.40" y1="557.96" x2="148.80" y2="557.96" stroke="#555" stroke-width="0.9" />
<line x1="145.40" y1="559.97" x2="148.80" y2="559.97" stroke="#555" stroke-width="0.9" />
<rect x="144.00" y="558.40" width="6.20" height="1.34" fill="#fff" stroke="#555" stroke-width="0.9" />
<line x1="144.00" y1="559.08" x2="150.20" y2="559.08" stroke="#555" stroke-width="0.9" />
<line x1="165.00" y1="560.42" x2="165.00" y2="561.09" stroke="#555" stroke-width="0.9" />
<line x1="165.00" y1="564.23" x2="165.00" y2="565.12" stroke="#555" stroke-width="0.9" />
<line x1="162.58" y1="560.42" x2="167.42" y2="560.42" stroke="#555" stroke-width="0.9" />
<line x1="162.58" y1="565.12" x2="167.42" y2="565.12" stroke="#555" stroke-width="0.9" />
<rect x="160.60" y="561.09" width="8.80" height="3.14" fill="#aaa" stroke="#555" stroke-width="0.9" />
<line x1="160.60" y1="562.66" x2="169.40" y2="562.66" stroke="#555" stroke-width="0.9" />
<line x1="184.50" y1="512.26" x2="184.50" y2="522.12" stroke="#3c3c3c" stroke-width="0.9" />
<line x1="184.50" y1="558.63" x2="184.50" y2="566.69" stroke="#3c3c3c" stroke-width="0.9" />
<line x1="181.47" y1="512.26" x2="187.53" y2="512.26" stroke="#3c3c3c" stroke-width="0.9" />
<line x1="181.47" y1="566.69" x2="187.53" y2="566.69" stroke="#3c3c3c" stroke-width="0.9" />
<rect x="179.00" y="522.12" width="11.00" height="36.51" fill="#fff" stroke="#3c3c3c" stroke-width="0.9" />
<line x1="179.00" y1="549.44" x2="190.00" y2="549.44" stroke="#3c3c3c" stroke-width="0.9" />
<line x1="203.60" y1="489.86" x2="203.60" y2="496.13" stroke="#3c3c3c" stroke-width="0.9" />
<line x1="203.60" y1="530.18" x2="203.60" y2="536.45" stroke="#3c3c3c" stroke-width="0.9" />
<line x1="200.74" y1="489.86" x2="206.46" y2="489.86" stroke="#3c3c3c" stroke-width="0.9" />
<line x1="200.74" y1="536.45" x2="206.46" y2="536.45" stroke="#3c3c3c" stroke-width="0.9" />
<rect x="198.40" y="496.13" width="10.40" height="34.05" fill="#fff" stroke="#3c3c3c" stroke-width="0.9" />
<line x1="198.40" y1="499.72" x2="208.80" y2="499.72" stroke="#3c3c3c" stroke-width="0.9" />
<polyline points="147.10,558.85 165.00,562.66 184.50,512.26 203.60,489.86" fill="none" stroke="#999" stroke-width="0.55" stroke-linejoin="round" />
<polyline points="147.10,559.30 165.00,563.78 184.50,526.82 203.60,496.58" fill="none" stroke="#999" stroke-width="0.55" stroke-linejoin="round" />
<polyline points="147.10,558.63 165.00,561.54 184.50,542.50 203.60,498.82" fill="none" stroke="#999" stroke-width="0.55" stroke-linejoin="round" />
<polyline points="147.10,559.30 165.00,563.33 184.50,556.61 203.60,530.18" fill="none" stroke="#999" stroke-width="0.55" stroke-linejoin="round" />
<polyline points="147.10,559.08 165.00,561.99 184.50,566.69 203.60,536.45" fill="none" stroke="#999" stroke-width="0.55" stroke-linejoin="round" />
<polyline points="147.10,559.30 165.00,564.23 184.50,552.58 203.60,501.06" fill="none" stroke="#999" stroke-width="0.55" stroke-linejoin="round" />
<circle cx="147.10" cy="558.85" r="1.35" fill="#4a4a4a" />
<circle cx="165.00" cy="562.66" r="1.35" fill="#4a4a4a" />
<circle cx="184.50" cy="512.26" r="1.35" fill="#4a4a4a" />
<circle cx="203.60" cy="489.86" r="1.35" fill="#4a4a4a" />
<circle cx="147.10" cy="559.30" r="1.35" fill="#4a4a4a" />
<circle cx="165.00" cy="563.78" r="1.35" fill="#4a4a4a" />
<circle cx="184.50" cy="526.82" r="1.35" fill="#4a4a4a" />
<circle cx="203.60" cy="496.58" r="1.35" fill="#4a4a4a" />
<circle cx="147.10" cy="558.63" r="1.35" fill="#4a4a4a" />
<circle cx="165.00" cy="561.54" r="1.35" fill="#4a4a4a" />
<circle cx="184.50" cy="542.50" r="1.35" fill="#4a4a4a" />
<circle cx="203.60" cy="498.82" r="1.35" fill="#4a4a4a" />
<circle cx="147.10" cy="559.30" r="1.35" fill="#4a4a4a" />
<circle cx="165.00" cy="563.33" r="1.35" fill="#4a4a4a" />
<circle cx="184.50" cy="556.61" r="1.35" fill="#4a4a4a" />
<circle cx="203.60" cy="530.18" r="1.35" fill="#4a4a4a" />
<circle cx="147.10" cy="559.08" r="1.35" fill="#4a4a4a" />
<circle cx="165.00" cy="561.99" r="1.35" fill="#4a4a4a" />
<circle cx="184.50" cy="566.69" r="1.35" fill="#4a4a4a" />
<circle cx="203.60" cy="536.45" r="1.35" fill="#4a4a4a" />
<circle cx="147.10" cy="559.30" r="1.35" fill="#4a4a4a" />
<circle cx="165.00" cy="564.23" r="1.35" fill="#4a4a4a" />
<circle cx="184.50" cy="552.58" r="1.35" fill="#4a4a4a" />
<circle cx="203.60" cy="501.06" r="1.35" fill="#4a4a4a" />
<polygon points="190.10,473.20 190.60,474.41 191.91,474.51 190.91,475.36 191.22,476.64 190.10,475.96 188.98,476.64 189.29,475.36 188.29,474.51 189.60,474.41" fill="#1a1a1a" />
<polygon points="194.80,473.20 195.30,474.41 196.61,474.51 195.61,475.36 195.92,476.64 194.80,475.96 193.68,476.64 193.99,475.36 192.99,474.51 194.30,474.41" fill="#1a1a1a" />
<line x1="181.00" y1="478.90" x2="203.80" y2="478.90" stroke="#ababab" stroke-width="1.4" />
<line x1="164.90" y1="481.10" x2="203.80" y2="481.10" stroke="#777" stroke-width="1.0" />
<line x1="151.50" y1="483.70" x2="203.80" y2="483.70" stroke="#999" stroke-width="1.2" />
<text transform="translate(114.60,521.30) rotate(-90)" font-size="8.5" fill="#0d0d0d" stroke="#0d0d0d" stroke-width="0.16" text-anchor="middle" >&#916;<tspan font-style="italic">F</tspan>/<tspan font-style="italic">F</tspan> (<tspan font-style="italic">z</tspan>)</text>
<text transform="translate(149.40,582.30) rotate(-45)" font-size="9.5" fill="#0d0d0d" stroke="#0d0d0d" stroke-width="0.16" text-anchor="end" >Wall</text>
<text transform="translate(169.30,582.30) rotate(-45)" font-size="9.5" fill="#0d0d0d" stroke="#0d0d0d" stroke-width="0.16" text-anchor="end" >Self-groom</text>
<text transform="translate(189.00,582.30) rotate(-45)" font-size="9.5" fill="#0d0d0d" stroke="#0d0d0d" stroke-width="0.16" text-anchor="end" >Allogroom</text>
<text transform="translate(207.30,582.30) rotate(-45)" font-size="9.5" fill="#0d0d0d" stroke="#0d0d0d" stroke-width="0.16" text-anchor="end" >Mate</text>
<text x="176.50" y="625.50" font-size="9.5" fill="#0d0d0d" stroke="#0d0d0d" stroke-width="0.16" text-anchor="middle" >Contact face</text>
<text x="230.30" y="453.30" font-size="12.5" font-weight="bold" fill="#000" stroke="#000" stroke-width="0.4">n</text>
<g transform="translate(267.20,462.90) scale(0.990,0.920)"><path d="M0,13.7 C0,8 5,1.5 11,0.9 C14,0.6 17,1 19,0.8 C21,0.3 23,0.6 24.5,1.6 C27,3 29,3.8 31.2,4.4 C31,6 31,7 30.5,7.9 C28,8 25,8.5 22.5,10.2 C21.5,11 21.8,12.5 21.3,13.1 C18,14.5 10,15.6 6,15.5 C3,15.4 1,14.7 0,13.7 Z" fill="#fff" stroke="#2a2a2a" stroke-width="0.76" stroke-linejoin="round"/><ellipse cx="20.4" cy="2.4" rx="2.7" ry="3.0" fill="#9a7b7b"/><ellipse cx="1.6" cy="13.9" rx="1.7" ry="1.4" fill="#9a7b7b"/><ellipse cx="21.5" cy="13.6" rx="1.6" ry="0.9" fill="#9a7b7b" opacity="0.8"/><ellipse cx="12" cy="15.2" rx="4" ry="0.6" fill="#9a7b7b" opacity="0.6"/><circle cx="25.2" cy="5.0" r="0.55" fill="#222"/><path d="M30.2,3.2 L31.6,4.6 L30.4,6.2" fill="none" stroke="#888" stroke-width="0.51"/><circle cx="11.1" cy="5.8" r="2.4" fill="none" stroke="#222" stroke-width="1.0101010101010102"/><line x1="11.1" y1="8.2" x2="11.1" y2="11.399999999999999" stroke="#222" stroke-width="1.0101010101010102"/><line x1="9.5" y1="9.899999999999999" x2="12.7" y2="9.899999999999999" stroke="#222" stroke-width="1.0101010101010102"/></g>
<g transform="translate(241.40,462.30) scale(1.020,0.940)"><path d="M1,12.5 C-3,13 -6,12.2 -10.5,12.8" fill="none" stroke="#8c7676" stroke-width="1.27"/><path d="M0,13.7 C0,8 5,1.5 11,0.9 C14,0.6 17,1 19,0.8 C21,0.3 23,0.6 24.5,1.6 C27,3 29,3.8 31.2,4.4 C31,6 31,7 30.5,7.9 C28,8 25,8.5 22.5,10.2 C21.5,11 21.8,12.5 21.3,13.1 C18,14.5 10,15.6 6,15.5 C3,15.4 1,14.7 0,13.7 Z" fill="#fff" stroke="#2a2a2a" stroke-width="0.74" stroke-linejoin="round"/><ellipse cx="20.4" cy="2.4" rx="2.7" ry="3.0" fill="#9a7b7b"/><ellipse cx="1.6" cy="13.9" rx="1.7" ry="1.4" fill="#9a7b7b"/><ellipse cx="21.5" cy="13.6" rx="1.6" ry="0.9" fill="#9a7b7b" opacity="0.8"/><ellipse cx="12" cy="15.2" rx="4" ry="0.6" fill="#9a7b7b" opacity="0.6"/><circle cx="25.2" cy="5.0" r="0.55" fill="#222"/><path d="M30.2,3.2 L31.6,4.6 L30.4,6.2" fill="none" stroke="#888" stroke-width="0.49"/><circle cx="12.4" cy="8.6" r="2.5" fill="none" stroke="#222" stroke-width="1.0294117647058825"/><line x1="10.65" y1="6.85" x2="8.05" y2="4.25" stroke="#222" stroke-width="1.0294117647058825"/><polyline points="10.05,4.25 8.05,4.25 8.05,6.25" fill="none" stroke="#222" stroke-width="1.0294117647058825"/></g>
<line x1="269.30" y1="452.60" x2="270.60" y2="460.50" stroke="#111" stroke-width="0.9" />
<polygon points="268.20,459.50 272.60,458.90 270.80,463.40" fill="#111" />
<text x="264.30" y="494.60" font-size="9.5" fill="#0d0d0d" stroke="#0d0d0d" stroke-width="0.16" text-anchor="middle" >1. Pre</text>
<text x="264.30" y="505.10" font-size="9.5" fill="#0d0d0d" stroke="#0d0d0d" stroke-width="0.16" text-anchor="middle" >(contact in</text>
<text x="264.30" y="514.70" font-size="9.5" fill="#0d0d0d" stroke="#0d0d0d" stroke-width="0.16" text-anchor="middle" >mating state)</text>
<line x1="265.10" y1="523.20" x2="265.10" y2="531.40" stroke="#666" stroke-width="0.8" />
<text x="264.50" y="540.50" font-size="9.5" fill="#0d0d0d" stroke="#0d0d0d" stroke-width="0.16" text-anchor="middle" >Ejaculate</text>
<line x1="264.60" y1="543.30" x2="264.60" y2="551.50" stroke="#333" stroke-width="0.9" />
<polygon points="261.90,550.60 267.30,550.60 264.60,555.20" fill="#333" />
<text x="263.30" y="567.70" font-size="9.5" fill="#0d0d0d" stroke="#0d0d0d" stroke-width="0.16" text-anchor="middle" >2. Post</text>
<text x="263.30" y="578.40" font-size="9.5" fill="#0d0d0d" stroke="#0d0d0d" stroke-width="0.16" text-anchor="middle" >(contact in</text>
<text x="263.30" y="588.80" font-size="9.5" fill="#0d0d0d" stroke="#0d0d0d" stroke-width="0.16" text-anchor="middle" >sated state)</text>
<line x1="335.20" y1="460.30" x2="335.20" y2="571.30" stroke="#6a6a6a" stroke-width="0.9" />
<line x1="332.00" y1="571.30" x2="335.20" y2="571.30" stroke="#6a6a6a" stroke-width="0.9" />
<text x="328.50" y="574.50" font-size="9.4" fill="#0d0d0d" stroke="#0d0d0d" stroke-width="0.16" text-anchor="end" >0</text>
<line x1="332.00" y1="534.30" x2="335.20" y2="534.30" stroke="#6a6a6a" stroke-width="0.9" />
<text x="328.50" y="537.50" font-size="9.4" fill="#0d0d0d" stroke="#0d0d0d" stroke-width="0.16" text-anchor="end" >1</text>
<line x1="332.00" y1="497.30" x2="335.20" y2="497.30" stroke="#6a6a6a" stroke-width="0.9" />
<text x="328.50" y="500.50" font-size="9.4" fill="#0d0d0d" stroke="#0d0d0d" stroke-width="0.16" text-anchor="end" >2</text>
<line x1="332.00" y1="460.30" x2="335.20" y2="460.30" stroke="#6a6a6a" stroke-width="0.9" />
<text x="328.50" y="463.50" font-size="9.4" fill="#0d0d0d" stroke="#0d0d0d" stroke-width="0.16" text-anchor="end" >3</text>
<line x1="335.20" y1="571.30" x2="382.10" y2="571.30" stroke="#6a6a6a" stroke-width="0.9" />
<line x1="348.50" y1="478.80" x2="348.50" y2="489.90" stroke="#3c3c3c" stroke-width="0.9" />
<line x1="348.50" y1="516.54" x2="348.50" y2="524.31" stroke="#3c3c3c" stroke-width="0.9" />
<line x1="345.31" y1="478.80" x2="351.69" y2="478.80" stroke="#3c3c3c" stroke-width="0.9" />
<line x1="345.31" y1="524.31" x2="351.69" y2="524.31" stroke="#3c3c3c" stroke-width="0.9" />
<rect x="342.70" y="489.90" width="11.60" height="26.64" fill="#a9dfdc" stroke="#3c3c3c" stroke-width="0.9" />
<line x1="342.70" y1="503.59" x2="354.30" y2="503.59" stroke="#3c3c3c" stroke-width="0.9" />
<line x1="369.10" y1="526.90" x2="369.10" y2="536.89" stroke="#3c3c3c" stroke-width="0.9" />
<line x1="369.10" y1="558.35" x2="369.10" y2="560.20" stroke="#3c3c3c" stroke-width="0.9" />
<line x1="366.08" y1="526.90" x2="372.12" y2="526.90" stroke="#3c3c3c" stroke-width="0.9" />
<line x1="366.08" y1="560.20" x2="372.12" y2="560.20" stroke="#3c3c3c" stroke-width="0.9" />
<rect x="363.60" y="536.89" width="11.00" height="21.46" fill="#5ea4bc" stroke="#3c3c3c" stroke-width="0.9" />
<line x1="363.60" y1="550.21" x2="374.60" y2="550.21" stroke="#3c3c3c" stroke-width="0.9" />
<line x1="348.50" y1="478.80" x2="369.10" y2="545.40" stroke="#555" stroke-width="0.6" />
<line x1="348.50" y1="498.04" x2="369.10" y2="550.95" stroke="#555" stroke-width="0.6" />
<line x1="348.50" y1="501.00" x2="369.10" y2="556.50" stroke="#555" stroke-width="0.6" />
<line x1="348.50" y1="508.40" x2="369.10" y2="559.46" stroke="#555" stroke-width="0.6" />
<line x1="348.50" y1="524.31" x2="369.10" y2="526.90" stroke="#555" stroke-width="0.6" />
<circle cx="348.50" cy="478.80" r="1.35" fill="#4a4a4a" />
<circle cx="369.10" cy="545.40" r="1.35" fill="#4a4a4a" />
<circle cx="348.50" cy="498.04" r="1.35" fill="#4a4a4a" />
<circle cx="369.10" cy="550.95" r="1.35" fill="#4a4a4a" />
<circle cx="348.50" cy="501.00" r="1.35" fill="#4a4a4a" />
<circle cx="369.10" cy="556.50" r="1.35" fill="#4a4a4a" />
<circle cx="348.50" cy="508.40" r="1.35" fill="#4a4a4a" />
<circle cx="369.10" cy="559.46" r="1.35" fill="#4a4a4a" />
<circle cx="348.50" cy="524.31" r="1.35" fill="#4a4a4a" />
<circle cx="369.10" cy="526.90" r="1.35" fill="#4a4a4a" />
<polygon points="354.60,461.50 355.16,462.84 356.60,462.95 355.50,463.89 355.83,465.30 354.60,464.55 353.37,465.30 353.70,463.89 352.60,462.95 354.04,462.84" fill="#1a1a1a" />
<polygon points="360.00,461.50 360.56,462.84 362.00,462.95 360.90,463.89 361.23,465.30 360.00,464.55 358.77,465.30 359.10,463.89 358.00,462.95 359.44,462.84" fill="#1a1a1a" />
<line x1="351.00" y1="467.80" x2="364.90" y2="467.80" stroke="#777" stroke-width="1.2" />
<text transform="translate(314.80,515.90) rotate(-90)" font-size="8.5" fill="#0d0d0d" stroke="#0d0d0d" stroke-width="0.16" text-anchor="middle" >&#916;<tspan font-style="italic">F</tspan>/<tspan font-style="italic">F</tspan> (<tspan font-style="italic">z</tspan>)</text>
<text transform="translate(344.80,581.80) rotate(-45)" font-size="9.5" fill="#0d0d0d" stroke="#0d0d0d" stroke-width="0.16" text-anchor="end" >Pre</text>
<text transform="translate(351.20,588.80) rotate(-45)" font-size="9.5" fill="#0d0d0d" stroke="#0d0d0d" stroke-width="0.16" text-anchor="end" >(mating)</text>
<text transform="translate(375.60,582.30) rotate(-45)" font-size="9.5" fill="#0d0d0d" stroke="#0d0d0d" stroke-width="0.16" text-anchor="end" >Post</text>
<text transform="translate(383.10,589.30) rotate(-45)" font-size="9.5" fill="#0d0d0d" stroke="#0d0d0d" stroke-width="0.16" text-anchor="end" >(sated)</text>
<text x="394.60" y="453.00" font-size="12.5" font-weight="bold" fill="#000" stroke="#000" stroke-width="0.4">o</text>
<line x1="423.60" y1="455.70" x2="423.60" y2="569.70" stroke="#6a6a6a" stroke-width="0.9" />
<line x1="420.40" y1="550.90" x2="423.60" y2="550.90" stroke="#6a6a6a" stroke-width="0.9" />
<text x="416.80" y="554.10" font-size="9.4" fill="#0d0d0d" stroke="#0d0d0d" stroke-width="0.16" text-anchor="end" >0</text>
<line x1="420.40" y1="519.20" x2="423.60" y2="519.20" stroke="#6a6a6a" stroke-width="0.9" />
<text x="416.80" y="522.40" font-size="9.4" fill="#0d0d0d" stroke="#0d0d0d" stroke-width="0.16" text-anchor="end" >1</text>
<line x1="420.40" y1="487.50" x2="423.60" y2="487.50" stroke="#6a6a6a" stroke-width="0.9" />
<text x="416.80" y="490.70" font-size="9.4" fill="#0d0d0d" stroke="#0d0d0d" stroke-width="0.16" text-anchor="end" >2</text>
<line x1="420.40" y1="455.80" x2="423.60" y2="455.80" stroke="#6a6a6a" stroke-width="0.9" />
<text x="416.80" y="459.00" font-size="9.4" fill="#0d0d0d" stroke="#0d0d0d" stroke-width="0.16" text-anchor="end" >3</text>
<line x1="423.60" y1="569.70" x2="499.90" y2="569.70" stroke="#6a6a6a" stroke-width="0.9" />
<line x1="421.70" y1="569.70" x2="421.70" y2="572.30" stroke="#6a6a6a" stroke-width="0.9" />
<text x="420.20" y="580.80" font-size="9.5" fill="#0d0d0d" stroke="#0d0d0d" stroke-width="0.16" text-anchor="middle" >−2</text>
<line x1="447.50" y1="569.70" x2="447.50" y2="572.30" stroke="#6a6a6a" stroke-width="0.9" />
<text x="447.50" y="580.80" font-size="9.5" fill="#0d0d0d" stroke="#0d0d0d" stroke-width="0.16" text-anchor="middle" >0</text>
<line x1="473.30" y1="569.70" x2="473.30" y2="572.30" stroke="#6a6a6a" stroke-width="0.9" />
<text x="473.30" y="580.80" font-size="9.5" fill="#0d0d0d" stroke="#0d0d0d" stroke-width="0.16" text-anchor="middle" >2</text>
<line x1="499.10" y1="569.70" x2="499.10" y2="572.30" stroke="#6a6a6a" stroke-width="0.9" />
<text x="499.10" y="580.80" font-size="9.5" fill="#0d0d0d" stroke="#0d0d0d" stroke-width="0.16" text-anchor="middle" >4</text>
<text x="458.40" y="594.90" font-size="9.5" fill="#0d0d0d" stroke="#0d0d0d" stroke-width="0.16" text-anchor="middle" >Time (s)</text>
<line x1="447.50" y1="455.00" x2="447.50" y2="569.70" stroke="#555" stroke-width="0.8" stroke-dasharray="1.6,1.0" />
<text transform="translate(444.80,475.00) rotate(-90)" font-size="9.5" fill="#0d0d0d" stroke="#0d0d0d" stroke-width="0.16" text-anchor="middle" >Contact</text>
<polygon points="423.99,547.20 424.79,546.96 425.59,547.22 426.39,550.14 427.19,549.84 427.99,549.11 428.79,551.43 429.59,552.09 430.39,551.42 431.19,552.72 431.99,553.53 432.79,553.39 433.59,553.06 434.39,554.95 435.19,554.69 435.99,554.66 436.79,554.17 437.59,553.42 438.39,554.65 439.19,552.82 439.99,551.36 440.79,553.13 441.59,551.79 442.39,550.84 443.19,548.67 443.99,547.16 444.79,545.78 445.59,545.83 446.39,542.88 447.19,539.45 447.99,531.24 448.79,526.52 449.59,520.28 450.39,516.01 451.19,508.73 451.99,504.40 452.79,499.64 453.59,494.42 454.39,489.91 455.19,487.55 455.99,483.94 456.79,480.43 457.59,478.65 458.39,476.24 459.19,475.09 459.99,474.00 460.79,470.65 461.59,468.28 462.39,465.43 463.19,464.79 463.99,465.66 464.79,468.76 465.59,469.57 466.39,472.31 467.19,471.39 467.99,472.23 468.79,473.83 469.59,473.73 470.39,474.71 471.19,473.24 471.99,474.16 472.79,476.88 473.59,474.94 474.39,476.06 475.19,477.70 475.99,477.63 476.79,478.77 477.59,478.14 478.39,480.20 479.19,479.96 479.99,481.01 480.79,480.53 481.59,479.28 482.39,478.91 483.19,476.08 483.99,476.42 484.79,476.09 485.59,475.88 486.39,473.28 487.19,473.84 487.99,473.09 488.79,472.93 489.59,472.67 490.39,470.96 491.19,472.79 491.99,471.54 492.79,472.75 493.59,472.25 494.39,471.56 495.19,472.86 495.99,472.93 496.79,472.18 497.59,470.85 498.39,471.48 499.19,470.91 499.19,481.45 498.39,481.79 497.59,481.28 496.79,481.57 495.99,481.29 495.19,480.25 494.39,481.67 493.59,480.99 492.79,479.55 491.99,480.58 491.19,480.90 490.39,482.46 489.59,482.73 488.79,483.14 487.99,481.53 487.19,483.10 486.39,482.71 485.59,483.43 484.79,483.67 483.99,484.50 483.19,484.94 482.39,486.90 481.59,488.42 480.79,487.66 479.99,489.01 479.19,489.62 478.39,487.56 477.59,488.36 476.79,486.67 475.99,486.08 475.19,487.63 474.39,485.52 473.59,484.07 472.79,484.89 471.99,485.17 471.19,484.65 470.39,482.19 469.59,481.43 468.79,481.55 467.99,481.16 467.19,482.30 466.39,480.50 465.59,481.37 464.79,480.95 463.99,480.62 463.19,479.57 462.39,479.84 461.59,480.97 460.79,483.08 459.99,485.78 459.19,486.64 458.39,490.76 457.59,491.30 456.79,494.78 455.99,495.15 455.19,500.34 454.39,503.75 453.59,508.39 452.79,513.27 451.99,515.12 451.19,523.62 450.39,527.82 449.59,534.58 448.79,540.43 447.99,543.19 447.19,543.03 446.39,547.82 445.59,551.93 444.79,550.96 443.99,553.34 443.19,553.16 442.39,556.67 441.59,555.55 440.79,556.06 439.99,557.41 439.19,558.11 438.39,557.51 437.59,560.21 436.79,560.54 435.99,559.51 435.19,558.82 434.39,560.08 433.59,558.55 432.79,559.34 431.99,559.01 431.19,558.80 430.39,556.09 429.59,555.61 428.79,555.78 427.99,554.99 427.19,555.00 426.39,553.01 425.59,553.51 424.79,553.85 423.99,551.97" fill="#c6eaec" opacity="1.0"/>
<polygon points="423.99,547.85 424.79,548.80 425.59,548.73 426.39,549.53 427.19,548.67 427.99,550.56 428.79,549.86 429.59,551.43 430.39,550.96 431.19,552.30 431.99,552.11 432.79,553.30 433.59,554.05 434.39,551.74 435.19,551.84 435.99,551.55 436.79,551.15 437.59,552.94 438.39,551.38 439.19,551.41 439.99,550.96 440.79,550.10 441.59,550.25 442.39,549.53 443.19,547.99 443.99,549.32 444.79,547.47 445.59,547.79 446.39,544.02 447.19,540.60 447.99,537.12 448.79,532.95 449.59,528.88 450.39,525.55 451.19,520.80 451.99,518.48 452.79,517.46 453.59,517.19 454.39,516.49 455.19,516.89 455.99,516.08 456.79,515.59 457.59,514.64 458.39,514.28 459.19,515.01 459.99,514.61 460.79,514.72 461.59,516.01 462.39,516.47 463.19,516.73 463.99,516.54 464.79,518.69 465.59,519.41 466.39,520.77 467.19,522.06 467.99,522.42 468.79,521.96 469.59,522.84 470.39,524.17 471.19,526.96 471.99,527.74 472.79,529.51 473.59,528.91 474.39,530.14 475.19,530.45 475.99,530.52 476.79,532.57 477.59,530.90 478.39,531.33 479.19,533.76 479.99,534.26 480.79,533.14 481.59,533.97 482.39,533.84 483.19,535.48 483.99,535.52 484.79,536.71 485.59,535.33 486.39,536.63 487.19,535.34 487.99,536.32 488.79,535.54 489.59,536.67 490.39,537.32 491.19,537.93 491.99,537.28 492.79,538.43 493.59,538.00 494.39,539.60 495.19,539.89 495.99,538.29 496.79,540.62 497.59,541.21 498.39,540.83 499.19,541.66 499.19,549.17 498.39,549.00 497.59,546.53 496.79,547.53 495.99,546.14 495.19,547.20 494.39,545.82 493.59,545.60 492.79,544.64 491.99,543.43 491.19,544.60 490.39,544.88 489.59,543.24 488.79,542.71 487.99,544.39 487.19,542.73 486.39,542.45 485.59,543.95 484.79,541.75 483.99,542.59 483.19,541.72 482.39,541.28 481.59,541.71 480.79,540.03 479.99,541.09 479.19,540.51 478.39,539.63 477.59,539.72 476.79,539.05 475.99,538.75 475.19,537.81 474.39,537.13 473.59,537.44 472.79,535.80 471.99,534.33 471.19,534.57 470.39,531.21 469.59,530.29 468.79,531.35 467.99,528.51 467.19,528.22 466.39,526.97 465.59,527.83 464.79,526.84 463.99,525.02 463.19,523.44 462.39,522.42 461.59,523.50 460.79,522.30 459.99,521.12 459.19,520.96 458.39,522.74 457.59,522.73 456.79,522.61 455.99,522.68 455.19,523.99 454.39,524.14 453.59,523.93 452.79,525.84 451.99,525.41 451.19,527.83 450.39,530.66 449.59,536.19 448.79,540.21 447.99,543.87 447.19,546.80 446.39,549.54 445.59,551.87 444.79,553.92 443.99,552.54 443.19,553.19 442.39,555.74 441.59,554.48 440.79,555.15 439.99,556.59 439.19,556.54 438.39,557.26 437.59,558.03 436.79,556.17 435.99,556.62 435.19,558.16 434.39,557.32 433.59,558.68 432.79,559.23 431.99,559.37 431.19,558.38 430.39,557.76 429.59,556.59 428.79,555.55 427.99,554.54 427.19,553.95 426.39,553.88 425.59,553.77 424.79,551.79 423.99,552.60" fill="#c9d9ea" opacity="0.85"/>
<polyline points="423.99,552.08 424.44,548.57 424.89,548.35 425.34,552.51 425.79,551.54 426.24,550.05 426.69,553.42 427.14,551.12 427.59,550.72 428.04,551.87 428.49,550.95 428.94,553.06 429.39,555.19 429.84,553.97 430.29,556.76 430.74,552.66 431.19,553.63 431.64,553.83 432.09,556.12 432.54,554.21 432.99,556.34 433.44,555.53 433.89,555.70 434.34,556.85 434.79,556.48 435.24,557.00 435.69,553.19 436.14,554.17 436.59,556.84 437.04,554.03 437.49,553.38 437.94,554.21 438.39,552.65 438.84,555.74 439.29,554.61 439.74,551.90 440.19,555.87 440.64,553.44 441.09,551.86 441.54,553.28 441.99,554.60 442.44,551.40 442.89,549.50 443.34,550.09 443.79,549.12 444.24,551.08 444.69,549.73 445.14,552.03 445.59,548.63 446.04,547.00 446.49,546.91 446.94,543.02 447.39,541.67 447.84,539.01 448.29,536.54 448.74,536.48 449.19,535.67 449.64,530.71 450.09,529.90 450.54,526.58 450.99,527.62 451.44,524.09 451.89,519.77 452.34,522.81 452.79,520.04 453.24,519.03 453.69,518.67 454.14,522.39 454.59,521.54 455.04,519.62 455.49,520.35 455.94,520.84 456.39,517.59 456.84,520.39 457.29,520.18 457.74,521.08 458.19,516.61 458.64,518.85 459.09,518.32 459.54,519.71 459.99,517.26 460.44,518.99 460.89,520.42 461.34,518.09 461.79,519.19 462.24,521.30 462.69,517.48 463.14,522.44 463.59,519.87 464.04,521.16 464.49,520.94 464.94,523.99 465.39,523.32 465.84,524.95 466.29,522.33 466.74,526.51 467.19,526.68 467.64,526.45 468.09,524.71 468.54,525.33 468.99,526.71 469.44,525.30 469.89,530.01 470.34,528.06 470.79,531.36 471.24,528.34 471.69,531.24 472.14,532.64 472.59,532.58 473.04,532.19 473.49,530.92 473.94,533.55 474.39,533.55 474.84,536.44 475.29,536.81 475.74,536.95 476.19,537.29 476.64,533.62 477.09,533.17 477.54,534.66 477.99,533.52 478.44,534.28 478.89,536.70 479.34,535.12 479.79,537.31 480.24,536.43 480.69,536.15 481.14,539.71 481.59,536.18 482.04,539.74 482.49,538.26 482.94,539.14 483.39,536.87 483.84,539.98 484.29,540.90 484.74,537.81 485.19,539.35 485.64,540.44 486.09,539.70 486.54,541.03 486.99,540.51 487.44,538.93 487.89,540.69 488.34,541.13 488.79,539.64 489.24,540.25 489.69,540.47 490.14,539.85 490.59,538.21 491.04,539.97 491.49,541.97 491.94,541.94 492.39,539.04 492.84,541.21 493.29,541.96 493.74,541.92 494.19,540.31 494.64,542.92 495.09,543.38 495.54,542.83 495.99,545.00 496.44,543.48 496.89,541.00 497.34,542.53 497.79,544.76 498.24,542.19 498.69,546.89 499.14,546.07 499.59,546.83" fill="none" stroke="#1f4d70" stroke-width="0.85" stroke-linejoin="round" />
<polyline points="423.99,548.68 424.44,548.46 424.89,551.74 425.34,550.85 425.79,550.95 426.24,551.55 426.69,552.74 427.14,551.73 427.59,553.43 428.04,551.69 428.49,554.81 428.94,554.18 429.39,553.23 429.84,554.11 430.29,555.82 430.74,554.27 431.19,555.88 431.64,556.93 432.09,557.41 432.54,555.24 432.99,557.30 433.44,556.89 433.89,557.80 434.34,555.51 434.79,556.90 435.24,557.26 435.69,558.72 436.14,557.51 436.59,555.81 437.04,556.08 437.49,557.90 437.94,557.77 438.39,556.42 438.84,554.44 439.29,556.50 439.74,556.51 440.19,554.24 440.64,554.61 441.09,553.66 441.54,552.55 441.99,554.53 442.44,551.90 442.89,550.98 443.34,553.11 443.79,549.67 444.24,551.25 444.69,550.76 445.14,548.17 445.59,547.90 446.04,546.39 446.49,545.79 446.94,544.45 447.39,541.41 447.84,538.31 448.29,535.86 448.74,532.72 449.19,531.07 449.64,526.85 450.09,523.77 450.54,521.70 450.99,516.60 451.44,515.49 451.89,511.01 452.34,506.78 452.79,503.97 453.24,503.68 453.69,499.86 454.14,498.85 454.59,496.94 455.04,495.40 455.49,491.72 455.94,490.04 456.39,489.60 456.84,485.94 457.29,485.27 457.74,485.53 458.19,482.91 458.64,483.96 459.09,480.18 459.54,479.29 459.99,479.26 460.44,478.25 460.89,476.57 461.34,474.72 461.79,474.15 462.24,474.64 462.69,473.89 463.14,472.69 463.59,472.03 464.04,473.74 464.49,472.90 464.94,473.17 465.39,476.26 465.84,475.07 466.29,474.99 466.74,477.45 467.19,475.31 467.64,475.92 468.09,475.86 468.54,478.60 468.99,478.11 469.44,476.63 469.89,476.48 470.34,479.66 470.79,477.35 471.24,479.68 471.69,479.93 472.14,479.93 472.59,479.89 473.04,480.01 473.49,479.89 473.94,481.47 474.39,480.13 474.84,481.57 475.29,481.17 475.74,481.88 476.19,483.99 476.64,483.23 477.09,483.83 477.54,484.18 477.99,482.29 478.44,485.17 478.89,485.71 479.34,485.50 479.79,484.96 480.24,485.74 480.69,485.63 481.14,482.91 481.59,482.08 482.04,482.22 482.49,480.68 482.94,480.97 483.39,480.00 483.84,479.30 484.29,480.28 484.74,478.61 485.19,479.88 485.64,480.80 486.09,480.00 486.54,477.41 486.99,479.37 487.44,477.21 487.89,478.97 488.34,478.19 488.79,477.63 489.24,477.04 489.69,478.66 490.14,475.82 490.59,477.94 491.04,475.35 491.49,474.75 491.94,475.00 492.39,474.51 492.84,477.32 493.29,475.24 493.74,476.67 494.19,475.76 494.64,476.16 495.09,477.73 495.54,477.04 495.99,476.12 496.44,477.63 496.89,475.47 497.34,475.01 497.79,477.12 498.24,477.55 498.69,477.14 499.14,476.79 499.59,477.47" fill="none" stroke="#22a5b3" stroke-width="0.85" stroke-linejoin="round" />
<line x1="477.90" y1="502.80" x2="484.20" y2="502.80" stroke="#22a5b3" stroke-width="1.2" />
<text x="488.00" y="505.50" font-size="9.5" fill="#0d0d0d" stroke="#0d0d0d" stroke-width="0.16" >Pre</text>
<line x1="477.90" y1="513.20" x2="484.20" y2="513.20" stroke="#1f4d70" stroke-width="1.2" />
<text x="488.00" y="515.80" font-size="9.5" fill="#0d0d0d" stroke="#0d0d0d" stroke-width="0.16" >Post</text>
<text transform="translate(402.80,512.30) rotate(-90)" font-size="8.5" fill="#0d0d0d" stroke="#0d0d0d" stroke-width="0.16" text-anchor="middle" >&#916;<tspan font-style="italic">F</tspan>/<tspan font-style="italic">F</tspan> (<tspan font-style="italic">z</tspan>)</text>
<rect x="516.6" y="268.0" width="167.6" height="308.0" fill="none" stroke="#8c8c8c" stroke-width="1.0" stroke-dasharray="4.8,1.6,2.6,1.6"/>
<text x="527.60" y="280.50" font-size="12.5" font-weight="bold" fill="#000" stroke="#000" stroke-width="0.4">p</text>
<text x="600.40" y="281.60" font-size="9.5" fill="#0d0d0d" stroke="#0d0d0d" stroke-width="0.16" text-anchor="middle" >Gating circuit</text>
<text x="600.40" y="294.50" font-size="9.5" fill="#0d0d0d" stroke="#0d0d0d" stroke-width="0.16" text-anchor="middle" >motif for mating</text>
<text x="576.20" y="327.50" font-size="9.5" fill="#0d0d0d" stroke="#0d0d0d" stroke-width="0.16" text-anchor="middle" >Mating</text>
<text x="576.20" y="337.00" font-size="9.5" fill="#0d0d0d" stroke="#0d0d0d" stroke-width="0.16" text-anchor="middle" >state</text>
<text x="620.40" y="327.50" font-size="9.5" fill="#0d0d0d" stroke="#0d0d0d" stroke-width="0.16" text-anchor="middle" >Contact</text>
<text x="620.40" y="337.00" font-size="9.5" fill="#0d0d0d" stroke="#0d0d0d" stroke-width="0.16" text-anchor="middle" >cues</text>
<rect x="563.5" y="346.8" width="26.6" height="30.0" rx="10" ry="10" fill="none" stroke="#2aaae2" stroke-width="1.8"/>
<rect x="605.3" y="346.8" width="27.6" height="30.0" rx="10" ry="10" fill="none" stroke="#e8383b" stroke-width="1.8"/>
<circle cx="575.50" cy="362.40" r="4.90" fill="#fff" stroke="#444" stroke-width="0.8" />
<circle cx="621.70" cy="364.60" r="5.30" fill="#5a5a5a" />
<text x="557.30" y="359.10" font-size="9.5" fill="#2aaae2" stroke="#2aaae2" stroke-width="0.16" text-anchor="end" >MPOA</text>
<text x="557.30" y="372.00" font-size="9.5" fill="#0d0d0d" stroke="#0d0d0d" stroke-width="0.16" text-anchor="end" >Inhib.</text>
<text x="639.10" y="359.10" font-size="9.5" fill="#e8383b" stroke="#e8383b" stroke-width="0.16" >SpV</text>
<text x="639.10" y="372.00" font-size="9.5" fill="#0d0d0d" stroke="#0d0d0d" stroke-width="0.16" >Excit.</text>
<path d="M556.0,385.4 L561.1,385.2 L562.2,394.4 L563.4,381.7 L566.1,384.7 L569.8,385.4" fill="none" stroke="#333" stroke-width="0.85" stroke-linejoin="round"/>
<path d="M626.8,385.4 L631.9,385.2 L633.0,394.4 L634.2,381.7 L636.9,384.7 L640.6,385.4" fill="none" stroke="#333" stroke-width="0.85" stroke-linejoin="round"/>
<rect x="573.6" y="394.4" width="48.4" height="47.0" rx="21" ry="21" fill="none" stroke="#555" stroke-width="0.8"/>
<circle cx="588.20" cy="411.30" r="4.50" fill="#fff" stroke="#444" stroke-width="0.8" />
<circle cx="606.10" cy="425.40" r="5.00" fill="#e8b6f4" stroke="#555" stroke-width="0.8" />
<path d="M575.5,367.3 C576.0,384 579.5,395 584.2,403.4" fill="none" stroke="#444" stroke-width="0.8" />
<line x1="581.60" y1="404.60" x2="586.80" y2="402.20" stroke="#444" stroke-width="0.9" />
<path d="M592.6,409.2 C595.5,404.5 601.5,406.0 601.6,412.0 L601.8,416.0" fill="none" stroke="#444" stroke-width="0.8" />
<line x1="598.60" y1="416.40" x2="605.00" y2="416.40" stroke="#444" stroke-width="0.9" />
<path d="M621.7,369.9 C622.2,390 618.5,405 612.2,415.2" fill="none" stroke="#444" stroke-width="0.8" />
<polygon points="609.00,418.60 610.60,413.20 614.20,416.20" fill="#333" />
<text x="567.60" y="416.30" font-size="9.5" fill="#0d0d0d" stroke="#0d0d0d" stroke-width="0.16" text-anchor="end" >Inhib.</text>
<text x="627.40" y="415.50" font-size="9.5" fill="#9b2fc9" stroke="#9b2fc9" stroke-width="0.16" >SPFp</text>
<text x="627.40" y="428.90" font-size="9.5" fill="#0d0d0d" stroke="#0d0d0d" stroke-width="0.16" font-style="italic" >Pth2</text>
<text x="560.30" y="455.90" font-size="9.5" fill="#0d0d0d" stroke="#0d0d0d" stroke-width="0.16" text-anchor="middle" >Mating state/</text>
<text x="560.30" y="464.10" font-size="9.5" fill="#0d0d0d" stroke="#0d0d0d" stroke-width="0.16" text-anchor="middle" >other cues?</text>
<path d="M598.4,445.7 C598.6,470 598.0,490 597.4,502.0" fill="none" stroke="#555" stroke-width="0.9" stroke-dasharray="2.4,1.6"/>
<polygon points="594.90,500.50 599.80,500.80 597.30,505.20" fill="#555" />
<path d="M573.7,476.0 C580,479 586,485 588.8,492.0" fill="none" stroke="#555" stroke-width="0.9" stroke-dasharray="2.4,1.6"/>
<polygon points="586.40,491.40 590.80,490.20 589.80,495.20" fill="#555" />
<path d="M605.4,464.3 L605.4,452.0 Q607.0,450.6 608.4,453.2 M609.7,464.3 L609.7,452.0 Q611.3,450.6 612.7,453.2 M614.0,464.3 L614.0,452.0 Q615.6,450.6 617.0,453.2 M618.3,464.3 L618.3,452.0 Q619.9,450.6 621.3,453.2 M622.6,464.3 L622.6,452.0 Q624.2,450.6 625.6,453.2 M626.9,464.3 L626.9,452.0 Q628.5,450.6 629.9,453.2 L631.2,452.0" fill="none" stroke="#b866ee" stroke-width="0.9" />
<text x="633.90" y="461.90" font-size="9.5" fill="#0d0d0d" stroke="#0d0d0d" stroke-width="0.16" >‘Mate</text>
<text x="633.90" y="472.70" font-size="9.5" fill="#0d0d0d" stroke="#0d0d0d" stroke-width="0.16" >contact’</text>
<path d="M539.0,500.8 C535.8,499.8 536.0,494.6 540.0,494.4 C540.4,490.6 545.6,489.8 547.8,492.0 C550.0,489.6 555.6,490.0 556.6,493.2 C560.6,492.6 563.6,496.2 561.6,499.4 C564.2,501.8 561.4,506.2 557.4,505.2 C556.0,507.8 550.2,508.2 548.6,505.8 C546.0,507.8 540.4,507.0 540.2,504.2 C537.8,504.0 537.4,501.6 539.0,500.8 Z" fill="#fff" stroke="#333" stroke-width="0.8" />
<circle cx="549.2" cy="496.0" r="2.4" fill="none" stroke="#222" stroke-width="1.0"/><line x1="549.2" y1="498.4" x2="549.2" y2="501.59999999999997" stroke="#222" stroke-width="1.0"/><line x1="547.6" y1="500.09999999999997" x2="550.8000000000001" y2="500.09999999999997" stroke="#222" stroke-width="1.0"/>
<circle cx="557.70" cy="506.80" r="1.20" fill="#fff" stroke="#333" stroke-width="0.6" />
<circle cx="560.50" cy="509.00" r="0.80" fill="#fff" stroke="#333" stroke-width="0.6" />
<g transform="translate(540.20,512.10) scale(1.200,1.190)"><path d="M1,12.5 C-3,13 -6,12.2 -10.5,12.8" fill="none" stroke="#8c7676" stroke-width="1.08"/><path d="M0,13.7 C0,8 5,1.5 11,0.9 C14,0.6 17,1 19,0.8 C21,0.3 23,0.6 24.5,1.6 C27,3 29,3.8 31.2,4.4 C31,6 31,7 30.5,7.9 C28,8 25,8.5 22.5,10.2 C21.5,11 21.8,12.5 21.3,13.1 C18,14.5 10,15.6 6,15.5 C3,15.4 1,14.7 0,13.7 Z" fill="#fff" stroke="#2a2a2a" stroke-width="0.62" stroke-linejoin="round"/><ellipse cx="20.4" cy="2.4" rx="2.7" ry="3.0" fill="#9a7b7b"/><ellipse cx="1.6" cy="13.9" rx="1.7" ry="1.4" fill="#9a7b7b"/><ellipse cx="21.5" cy="13.6" rx="1.6" ry="0.9" fill="#9a7b7b" opacity="0.8"/><ellipse cx="12" cy="15.2" rx="4" ry="0.6" fill="#9a7b7b" opacity="0.6"/><circle cx="25.2" cy="5.0" r="0.55" fill="#222"/><path d="M30.2,3.2 L31.6,4.6 L30.4,6.2" fill="none" stroke="#888" stroke-width="0.42"/><circle cx="12.4" cy="8.6" r="2.5" fill="none" stroke="#222" stroke-width="0.8750000000000001"/><line x1="10.65" y1="6.85" x2="8.05" y2="4.25" stroke="#222" stroke-width="0.8750000000000001"/><polyline points="10.05,4.25 8.05,4.25 8.05,6.25" fill="none" stroke="#222" stroke-width="0.8750000000000001"/></g>
<path d="M570.2,505.2 L575.6,503.8 L575.6,505.2 L570.2,506.6 Z" fill="#333" />
<line x1="570.60" y1="505.60" x2="570.60" y2="510.60" stroke="#333" stroke-width="0.7" />
<line x1="575.20" y1="504.20" x2="575.20" y2="509.20" stroke="#333" stroke-width="0.7" />
<ellipse cx="569.5" cy="510.8" rx="1.2" ry="0.9" fill="#333"/>
<ellipse cx="574.1" cy="509.4" rx="1.2" ry="0.9" fill="#333"/>
<line x1="578.20" y1="505.00" x2="578.20" y2="510.40" stroke="#333" stroke-width="0.7" />
<path d="M578.2,505.0 C579.5,505.8 580.2,507 579.6,508.2" fill="none" stroke="#333" stroke-width="0.6" />
<ellipse cx="577.1" cy="510.6" rx="1.2" ry="0.9" fill="#333"/>
<line x1="568.00" y1="504.50" x2="568.00" y2="506.50" stroke="#666" stroke-width="0.5" />
<line x1="568.00" y1="507.80" x2="568.00" y2="509.50" stroke="#666" stroke-width="0.5" />
<line x1="583.40" y1="522.70" x2="597.00" y2="522.70" stroke="#b424ee" stroke-width="1.3" />
<polygon points="596.00,520.30 600.80,522.70 596.00,525.10" fill="#b424ee" />
<text x="592.40" y="535.80" font-size="9.5" fill="#0d0d0d" stroke="#0d0d0d" stroke-width="0.16" text-anchor="middle" >Initiate</text>
<g transform="translate(642.20,514.90) scale(1.235,1.070)"><path d="M0,13.7 C0,8 5,1.5 11,0.9 C14,0.6 17,1 19,0.8 C21,0.3 23,0.6 24.5,1.6 C27,3 29,3.8 31.2,4.4 C31,6 31,7 30.5,7.9 C28,8 25,8.5 22.5,10.2 C21.5,11 21.8,12.5 21.3,13.1 C18,14.5 10,15.6 6,15.5 C3,15.4 1,14.7 0,13.7 Z" fill="#fff" stroke="#2a2a2a" stroke-width="0.61" stroke-linejoin="round"/><ellipse cx="20.4" cy="2.4" rx="2.7" ry="3.0" fill="#9a7b7b"/><ellipse cx="1.6" cy="13.9" rx="1.7" ry="1.4" fill="#9a7b7b"/><ellipse cx="21.5" cy="13.6" rx="1.6" ry="0.9" fill="#9a7b7b" opacity="0.8"/><ellipse cx="12" cy="15.2" rx="4" ry="0.6" fill="#9a7b7b" opacity="0.6"/><circle cx="25.2" cy="5.0" r="0.55" fill="#222"/><path d="M30.2,3.2 L31.6,4.6 L30.4,6.2" fill="none" stroke="#888" stroke-width="0.40"/><circle cx="11.1" cy="5.8" r="2.4" fill="none" stroke="#222" stroke-width="0.8097165991902834"/><line x1="11.1" y1="8.2" x2="11.1" y2="11.399999999999999" stroke="#222" stroke-width="0.8097165991902834"/><line x1="9.5" y1="9.899999999999999" x2="12.7" y2="9.899999999999999" stroke="#222" stroke-width="0.8097165991902834"/></g>
<g transform="translate(614.90,509.90) scale(1.260,1.340)"><path d="M1,12.5 C-3,13 -6,12.2 -10.5,12.8" fill="none" stroke="#8c7676" stroke-width="1.03"/><path d="M0,13.7 C0,8 5,1.5 11,0.9 C14,0.6 17,1 19,0.8 C21,0.3 23,0.6 24.5,1.6 C27,3 29,3.8 31.2,4.4 C31,6 31,7 30.5,7.9 C28,8 25,8.5 22.5,10.2 C21.5,11 21.8,12.5 21.3,13.1 C18,14.5 10,15.6 6,15.5 C3,15.4 1,14.7 0,13.7 Z" fill="#fff" stroke="#2a2a2a" stroke-width="0.60" stroke-linejoin="round"/><ellipse cx="20.4" cy="2.4" rx="2.7" ry="3.0" fill="#9a7b7b"/><ellipse cx="1.6" cy="13.9" rx="1.7" ry="1.4" fill="#9a7b7b"/><ellipse cx="21.5" cy="13.6" rx="1.6" ry="0.9" fill="#9a7b7b" opacity="0.8"/><ellipse cx="12" cy="15.2" rx="4" ry="0.6" fill="#9a7b7b" opacity="0.6"/><circle cx="25.2" cy="5.0" r="0.55" fill="#222"/><path d="M30.2,3.2 L31.6,4.6 L30.4,6.2" fill="none" stroke="#888" stroke-width="0.40"/><circle cx="12.4" cy="8.6" r="2.5" fill="none" stroke="#222" stroke-width="0.8333333333333334"/><line x1="10.65" y1="6.85" x2="8.05" y2="4.25" stroke="#222" stroke-width="0.8333333333333334"/><polyline points="10.05,4.25 8.05,4.25 8.05,6.25" fill="none" stroke="#222" stroke-width="0.8333333333333334"/></g>
<text x="547.00" y="545.70" font-size="9.5" fill="#0d0d0d" stroke="#0d0d0d" stroke-width="0.16" text-anchor="middle" >Sing</text>
<text x="547.00" y="557.30" font-size="9.5" fill="#0d0d0d" stroke="#0d0d0d" stroke-width="0.16" text-anchor="middle" >and court</text>
<text x="649.80" y="545.70" font-size="9.5" fill="#0d0d0d" stroke="#0d0d0d" stroke-width="0.16" text-anchor="middle" >Reach</text>
<text x="649.80" y="557.30" font-size="9.5" fill="#0d0d0d" stroke="#0d0d0d" stroke-width="0.16" text-anchor="middle" >and mount</text>
</svg>
</body></html>
